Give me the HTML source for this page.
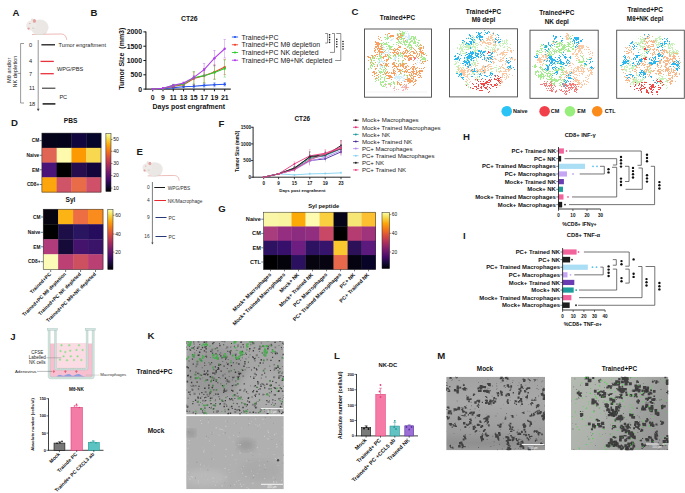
<!DOCTYPE html>
<html><head><meta charset="utf-8"><style>
html,body{margin:0;padding:0;background:#fff;}
body{width:685px;height:493px;overflow:hidden;}
svg{display:block;font-family:"Liberation Sans", sans-serif;}
</style></head><body>
<svg width="685" height="493" viewBox="0 0 685 493">
<rect width="685" height="493" fill="#fff"/>
<text x="12.60" y="15.60" font-size="9.6" font-weight="bold" fill="#1a1a1a">A</text>
<text x="90.50" y="15.60" font-size="9.6" font-weight="bold" fill="#1a1a1a">B</text>
<text x="351.60" y="15.20" font-size="9.6" font-weight="bold" fill="#1a1a1a">C</text>
<text x="11.00" y="126.20" font-size="9.6" font-weight="bold" fill="#1a1a1a">D</text>
<text x="136.50" y="154.60" font-size="9.6" font-weight="bold" fill="#1a1a1a">E</text>
<text x="218.40" y="127.40" font-size="9.6" font-weight="bold" fill="#1a1a1a">F</text>
<text x="218.20" y="211.80" font-size="9.6" font-weight="bold" fill="#1a1a1a">G</text>
<text x="463.00" y="139.80" font-size="9.6" font-weight="bold" fill="#1a1a1a">H</text>
<text x="463.00" y="238.80" font-size="9.6" font-weight="bold" fill="#1a1a1a">I</text>
<text x="10.30" y="340.20" font-size="9.6" font-weight="bold" fill="#1a1a1a">J</text>
<text x="147.40" y="339.40" font-size="9.6" font-weight="bold" fill="#1a1a1a">K</text>
<text x="334.00" y="358.90" font-size="9.6" font-weight="bold" fill="#1a1a1a">L</text>
<text x="437.20" y="358.80" font-size="9.6" font-weight="bold" fill="#1a1a1a">M</text>
<g transform="translate(26.00 19.00) scale(1.0) translate(-26 -19)"><path d="M32 34.5 L47 34.2 L60 34.0 C64 34 66.2 35.2 66.6 39.8" fill="none" stroke="#e4a19c" stroke-width="0.75"/><ellipse cx="39.6" cy="27.2" rx="9.0" ry="7.7" fill="#ebe7e4"/><path d="M33 33.5 C36 35.2 44 35.2 47.5 31 C46 34.5 42 35.3 38 35.0 C35 35 33.5 34.5 33 33.5Z" fill="#dcd5d0"/><ellipse cx="31.4" cy="25.6" rx="5.2" ry="5.0" fill="#eeeae7"/><ellipse cx="32.1" cy="19.9" rx="1.2" ry="1.4" fill="#e9e2de"/><ellipse cx="34.4" cy="20.9" rx="1.6" ry="1.9" fill="#e2a39e"/><circle cx="28.6" cy="28.6" r="1.15" fill="#e79c9a"/><circle cx="29.9" cy="23.5" r="0.55" fill="#d98f8c"/><ellipse cx="33.2" cy="28.2" rx="1.3" ry="0.9" fill="#ddd6d1"/></g>
<line x1="38.20" y1="40.00" x2="38.20" y2="109.50" stroke="#666" stroke-width="0.7"/>
<path d="M36.8 108.8 L38.2 111.2 L39.6 108.8 Z" fill="#444"/>
<text x="29.00" y="46.82" font-size="5.6" text-anchor="start" fill="#222">0</text>
<line x1="41.40" y1="44.80" x2="55.00" y2="44.80" stroke="#1a1a1a" stroke-width="1.3"/>
<text x="29.00" y="63.42" font-size="5.6" text-anchor="start" fill="#222">4</text>
<line x1="40.50" y1="61.40" x2="53.80" y2="61.40" stroke="#e8323c" stroke-width="1.3"/>
<text x="29.00" y="75.72" font-size="5.6" text-anchor="start" fill="#222">7</text>
<line x1="40.50" y1="73.70" x2="53.80" y2="73.70" stroke="#e8323c" stroke-width="1.3"/>
<text x="29.00" y="90.22" font-size="5.6" text-anchor="start" fill="#222">11</text>
<line x1="42.00" y1="88.20" x2="55.40" y2="88.20" stroke="#222" stroke-width="1.0"/>
<text x="29.00" y="105.92" font-size="5.6" text-anchor="start" fill="#222">18</text>
<line x1="42.60" y1="103.90" x2="55.40" y2="103.90" stroke="#1a1a1a" stroke-width="1.5"/>
<text x="58.60" y="47.02" font-size="5.6" text-anchor="start" fill="#222">Tumor engraftment</text>
<text x="57.00" y="70.62" font-size="5.6" text-anchor="start" fill="#222">WPG/PBS</text>
<text x="59.40" y="98.52" font-size="5.6" text-anchor="start" fill="#222">PC</text>
<path d="M24 43.5 L20.6 43.5 L20.6 103 L24 103" fill="none" stroke="#555" stroke-width="0.6"/>
<line x1="17.70" y1="73.40" x2="20.60" y2="73.40" stroke="#555" stroke-width="0.6"/>
<text x="9.00" y="72.32" font-size="5.6" text-anchor="middle" fill="#222" transform="rotate(-90 9.00 70.30)">Mθ and/or</text>
<text x="14.60" y="73.62" font-size="5.6" text-anchor="middle" fill="#222" transform="rotate(-90 14.60 71.60)">NK depletion</text>
<text x="189.30" y="20.85" font-size="6.8" text-anchor="middle" fill="#111" font-weight="bold">CT26</text>
<line x1="145.90" y1="31.50" x2="145.90" y2="89.60" stroke="#333" stroke-width="1.2"/>
<line x1="145.40" y1="89.10" x2="230.80" y2="89.10" stroke="#333" stroke-width="1.2"/>
<line x1="143.40" y1="89.10" x2="145.90" y2="89.10" stroke="#111" stroke-width="1.0"/>
<text x="142.00" y="91.58" font-size="6.9" text-anchor="end" fill="#111" font-weight="bold">0</text>
<line x1="143.40" y1="74.80" x2="145.90" y2="74.80" stroke="#111" stroke-width="1.0"/>
<text x="142.00" y="77.28" font-size="6.9" text-anchor="end" fill="#111" font-weight="bold">500</text>
<line x1="143.40" y1="60.50" x2="145.90" y2="60.50" stroke="#111" stroke-width="1.0"/>
<text x="142.00" y="62.98" font-size="6.9" text-anchor="end" fill="#111" font-weight="bold">1000</text>
<line x1="143.40" y1="46.20" x2="145.90" y2="46.20" stroke="#111" stroke-width="1.0"/>
<text x="142.00" y="48.68" font-size="6.9" text-anchor="end" fill="#111" font-weight="bold">1500</text>
<line x1="143.40" y1="31.90" x2="145.90" y2="31.90" stroke="#111" stroke-width="1.0"/>
<text x="142.00" y="34.38" font-size="6.9" text-anchor="end" fill="#111" font-weight="bold">2000</text>
<line x1="152.70" y1="89.10" x2="152.70" y2="91.30" stroke="#111" stroke-width="1.0"/>
<text x="152.70" y="99.68" font-size="6.9" text-anchor="middle" fill="#111" font-weight="bold">0</text>
<line x1="162.99" y1="89.10" x2="162.99" y2="91.30" stroke="#111" stroke-width="1.0"/>
<text x="162.99" y="99.68" font-size="6.9" text-anchor="middle" fill="#111" font-weight="bold">9</text>
<line x1="173.28" y1="89.10" x2="173.28" y2="91.30" stroke="#111" stroke-width="1.0"/>
<text x="173.28" y="99.68" font-size="6.9" text-anchor="middle" fill="#111" font-weight="bold">11</text>
<line x1="183.57" y1="89.10" x2="183.57" y2="91.30" stroke="#111" stroke-width="1.0"/>
<text x="183.57" y="99.68" font-size="6.9" text-anchor="middle" fill="#111" font-weight="bold">13</text>
<line x1="193.86" y1="89.10" x2="193.86" y2="91.30" stroke="#111" stroke-width="1.0"/>
<text x="193.86" y="99.68" font-size="6.9" text-anchor="middle" fill="#111" font-weight="bold">15</text>
<line x1="204.15" y1="89.10" x2="204.15" y2="91.30" stroke="#111" stroke-width="1.0"/>
<text x="204.15" y="99.68" font-size="6.9" text-anchor="middle" fill="#111" font-weight="bold">17</text>
<line x1="214.44" y1="89.10" x2="214.44" y2="91.30" stroke="#111" stroke-width="1.0"/>
<text x="214.44" y="99.68" font-size="6.9" text-anchor="middle" fill="#111" font-weight="bold">19</text>
<line x1="224.73" y1="89.10" x2="224.73" y2="91.30" stroke="#111" stroke-width="1.0"/>
<text x="224.73" y="99.68" font-size="6.9" text-anchor="middle" fill="#111" font-weight="bold">21</text>
<text x="188.80" y="109.08" font-size="6.9" text-anchor="middle" fill="#111" font-weight="bold">Days post engrafment</text>
<text x="121.20" y="61.22" font-size="7.0" text-anchor="middle" fill="#111" font-weight="bold" transform="rotate(-90 121.20 58.70)">Tumor Size&#160; (mm3)</text>
<polyline points="152.70,89.10 162.99,88.81 173.28,87.67 183.57,86.81 193.86,86.24 204.15,85.38 214.44,84.81 224.73,84.24" fill="none" stroke="#2453f0" stroke-width="1.1"/>
<circle cx="152.70" cy="89.10" r="1.20" fill="#2453f0"/>
<line x1="162.99" y1="88.96" x2="162.99" y2="88.67" stroke="#2453f0" stroke-width="0.5" opacity="0.8"/>
<line x1="161.79" y1="88.67" x2="164.19" y2="88.67" stroke="#2453f0" stroke-width="0.5" opacity="0.8"/>
<line x1="161.79" y1="88.96" x2="164.19" y2="88.96" stroke="#2453f0" stroke-width="0.5" opacity="0.8"/>
<circle cx="162.99" cy="88.81" r="1.20" fill="#2453f0"/>
<line x1="173.28" y1="88.24" x2="173.28" y2="87.10" stroke="#2453f0" stroke-width="0.5" opacity="0.8"/>
<line x1="172.08" y1="87.10" x2="174.48" y2="87.10" stroke="#2453f0" stroke-width="0.5" opacity="0.8"/>
<line x1="172.08" y1="88.24" x2="174.48" y2="88.24" stroke="#2453f0" stroke-width="0.5" opacity="0.8"/>
<circle cx="173.28" cy="87.67" r="1.20" fill="#2453f0"/>
<line x1="183.57" y1="87.53" x2="183.57" y2="86.10" stroke="#2453f0" stroke-width="0.5" opacity="0.8"/>
<line x1="182.37" y1="86.10" x2="184.77" y2="86.10" stroke="#2453f0" stroke-width="0.5" opacity="0.8"/>
<line x1="182.37" y1="87.53" x2="184.77" y2="87.53" stroke="#2453f0" stroke-width="0.5" opacity="0.8"/>
<circle cx="183.57" cy="86.81" r="1.20" fill="#2453f0"/>
<line x1="193.86" y1="87.96" x2="193.86" y2="84.52" stroke="#2453f0" stroke-width="0.5" opacity="0.8"/>
<line x1="192.66" y1="84.52" x2="195.06" y2="84.52" stroke="#2453f0" stroke-width="0.5" opacity="0.8"/>
<line x1="192.66" y1="87.96" x2="195.06" y2="87.96" stroke="#2453f0" stroke-width="0.5" opacity="0.8"/>
<circle cx="193.86" cy="86.24" r="1.20" fill="#2453f0"/>
<line x1="204.15" y1="87.10" x2="204.15" y2="83.67" stroke="#2453f0" stroke-width="0.5" opacity="0.8"/>
<line x1="202.95" y1="83.67" x2="205.35" y2="83.67" stroke="#2453f0" stroke-width="0.5" opacity="0.8"/>
<line x1="202.95" y1="87.10" x2="205.35" y2="87.10" stroke="#2453f0" stroke-width="0.5" opacity="0.8"/>
<circle cx="204.15" cy="85.38" r="1.20" fill="#2453f0"/>
<line x1="214.44" y1="86.81" x2="214.44" y2="82.81" stroke="#2453f0" stroke-width="0.5" opacity="0.8"/>
<line x1="213.24" y1="82.81" x2="215.64" y2="82.81" stroke="#2453f0" stroke-width="0.5" opacity="0.8"/>
<line x1="213.24" y1="86.81" x2="215.64" y2="86.81" stroke="#2453f0" stroke-width="0.5" opacity="0.8"/>
<circle cx="214.44" cy="84.81" r="1.20" fill="#2453f0"/>
<line x1="224.73" y1="85.95" x2="224.73" y2="82.52" stroke="#2453f0" stroke-width="0.5" opacity="0.8"/>
<line x1="223.53" y1="82.52" x2="225.93" y2="82.52" stroke="#2453f0" stroke-width="0.5" opacity="0.8"/>
<line x1="223.53" y1="85.95" x2="225.93" y2="85.95" stroke="#2453f0" stroke-width="0.5" opacity="0.8"/>
<circle cx="224.73" cy="84.24" r="1.20" fill="#2453f0"/>
<polyline points="152.70,89.10 162.99,88.53 173.28,86.24 183.57,84.81 193.86,78.52 204.15,75.66 214.44,71.94 224.73,67.08" fill="none" stroke="#f0402a" stroke-width="1.1"/>
<circle cx="152.70" cy="89.10" r="1.20" fill="#f0402a"/>
<line x1="162.99" y1="88.76" x2="162.99" y2="88.30" stroke="#f0402a" stroke-width="0.5" opacity="0.8"/>
<line x1="161.79" y1="88.30" x2="164.19" y2="88.30" stroke="#f0402a" stroke-width="0.5" opacity="0.8"/>
<line x1="161.79" y1="88.76" x2="164.19" y2="88.76" stroke="#f0402a" stroke-width="0.5" opacity="0.8"/>
<circle cx="162.99" cy="88.53" r="1.20" fill="#f0402a"/>
<line x1="173.28" y1="87.38" x2="173.28" y2="85.10" stroke="#f0402a" stroke-width="0.5" opacity="0.8"/>
<line x1="172.08" y1="85.10" x2="174.48" y2="85.10" stroke="#f0402a" stroke-width="0.5" opacity="0.8"/>
<line x1="172.08" y1="87.38" x2="174.48" y2="87.38" stroke="#f0402a" stroke-width="0.5" opacity="0.8"/>
<circle cx="173.28" cy="86.24" r="1.20" fill="#f0402a"/>
<line x1="183.57" y1="85.95" x2="183.57" y2="83.67" stroke="#f0402a" stroke-width="0.5" opacity="0.8"/>
<line x1="182.37" y1="83.67" x2="184.77" y2="83.67" stroke="#f0402a" stroke-width="0.5" opacity="0.8"/>
<line x1="182.37" y1="85.95" x2="184.77" y2="85.95" stroke="#f0402a" stroke-width="0.5" opacity="0.8"/>
<circle cx="183.57" cy="84.81" r="1.20" fill="#f0402a"/>
<line x1="193.86" y1="85.10" x2="193.86" y2="71.94" stroke="#f0402a" stroke-width="0.5" opacity="0.8"/>
<line x1="192.66" y1="71.94" x2="195.06" y2="71.94" stroke="#f0402a" stroke-width="0.5" opacity="0.8"/>
<line x1="192.66" y1="85.10" x2="195.06" y2="85.10" stroke="#f0402a" stroke-width="0.5" opacity="0.8"/>
<circle cx="193.86" cy="78.52" r="1.20" fill="#f0402a"/>
<line x1="204.15" y1="82.81" x2="204.15" y2="68.51" stroke="#f0402a" stroke-width="0.5" opacity="0.8"/>
<line x1="202.95" y1="68.51" x2="205.35" y2="68.51" stroke="#f0402a" stroke-width="0.5" opacity="0.8"/>
<line x1="202.95" y1="82.81" x2="205.35" y2="82.81" stroke="#f0402a" stroke-width="0.5" opacity="0.8"/>
<circle cx="204.15" cy="75.66" r="1.20" fill="#f0402a"/>
<line x1="214.44" y1="79.09" x2="214.44" y2="64.79" stroke="#f0402a" stroke-width="0.5" opacity="0.8"/>
<line x1="213.24" y1="64.79" x2="215.64" y2="64.79" stroke="#f0402a" stroke-width="0.5" opacity="0.8"/>
<line x1="213.24" y1="79.09" x2="215.64" y2="79.09" stroke="#f0402a" stroke-width="0.5" opacity="0.8"/>
<circle cx="214.44" cy="71.94" r="1.20" fill="#f0402a"/>
<line x1="224.73" y1="74.51" x2="224.73" y2="59.64" stroke="#f0402a" stroke-width="0.5" opacity="0.8"/>
<line x1="223.53" y1="59.64" x2="225.93" y2="59.64" stroke="#f0402a" stroke-width="0.5" opacity="0.8"/>
<line x1="223.53" y1="74.51" x2="225.93" y2="74.51" stroke="#f0402a" stroke-width="0.5" opacity="0.8"/>
<circle cx="224.73" cy="67.08" r="1.20" fill="#f0402a"/>
<polyline points="152.70,89.10 162.99,88.53 173.28,85.38 183.57,84.24 193.86,77.66 204.15,75.66 214.44,72.51 224.73,68.51" fill="none" stroke="#2ec82e" stroke-width="1.1"/>
<circle cx="152.70" cy="89.10" r="1.20" fill="#2ec82e"/>
<line x1="162.99" y1="88.76" x2="162.99" y2="88.30" stroke="#2ec82e" stroke-width="0.5" opacity="0.8"/>
<line x1="161.79" y1="88.30" x2="164.19" y2="88.30" stroke="#2ec82e" stroke-width="0.5" opacity="0.8"/>
<line x1="161.79" y1="88.76" x2="164.19" y2="88.76" stroke="#2ec82e" stroke-width="0.5" opacity="0.8"/>
<circle cx="162.99" cy="88.53" r="1.20" fill="#2ec82e"/>
<line x1="173.28" y1="86.53" x2="173.28" y2="84.24" stroke="#2ec82e" stroke-width="0.5" opacity="0.8"/>
<line x1="172.08" y1="84.24" x2="174.48" y2="84.24" stroke="#2ec82e" stroke-width="0.5" opacity="0.8"/>
<line x1="172.08" y1="86.53" x2="174.48" y2="86.53" stroke="#2ec82e" stroke-width="0.5" opacity="0.8"/>
<circle cx="173.28" cy="85.38" r="1.20" fill="#2ec82e"/>
<line x1="183.57" y1="85.38" x2="183.57" y2="83.09" stroke="#2ec82e" stroke-width="0.5" opacity="0.8"/>
<line x1="182.37" y1="83.09" x2="184.77" y2="83.09" stroke="#2ec82e" stroke-width="0.5" opacity="0.8"/>
<line x1="182.37" y1="85.38" x2="184.77" y2="85.38" stroke="#2ec82e" stroke-width="0.5" opacity="0.8"/>
<circle cx="183.57" cy="84.24" r="1.20" fill="#2ec82e"/>
<line x1="193.86" y1="83.95" x2="193.86" y2="71.37" stroke="#2ec82e" stroke-width="0.5" opacity="0.8"/>
<line x1="192.66" y1="71.37" x2="195.06" y2="71.37" stroke="#2ec82e" stroke-width="0.5" opacity="0.8"/>
<line x1="192.66" y1="83.95" x2="195.06" y2="83.95" stroke="#2ec82e" stroke-width="0.5" opacity="0.8"/>
<circle cx="193.86" cy="77.66" r="1.20" fill="#2ec82e"/>
<line x1="204.15" y1="82.81" x2="204.15" y2="68.51" stroke="#2ec82e" stroke-width="0.5" opacity="0.8"/>
<line x1="202.95" y1="68.51" x2="205.35" y2="68.51" stroke="#2ec82e" stroke-width="0.5" opacity="0.8"/>
<line x1="202.95" y1="82.81" x2="205.35" y2="82.81" stroke="#2ec82e" stroke-width="0.5" opacity="0.8"/>
<circle cx="204.15" cy="75.66" r="1.20" fill="#2ec82e"/>
<line x1="214.44" y1="79.66" x2="214.44" y2="65.36" stroke="#2ec82e" stroke-width="0.5" opacity="0.8"/>
<line x1="213.24" y1="65.36" x2="215.64" y2="65.36" stroke="#2ec82e" stroke-width="0.5" opacity="0.8"/>
<line x1="213.24" y1="79.66" x2="215.64" y2="79.66" stroke="#2ec82e" stroke-width="0.5" opacity="0.8"/>
<circle cx="214.44" cy="72.51" r="1.20" fill="#2ec82e"/>
<line x1="224.73" y1="77.09" x2="224.73" y2="59.93" stroke="#2ec82e" stroke-width="0.5" opacity="0.8"/>
<line x1="223.53" y1="59.93" x2="225.93" y2="59.93" stroke="#2ec82e" stroke-width="0.5" opacity="0.8"/>
<line x1="223.53" y1="77.09" x2="225.93" y2="77.09" stroke="#2ec82e" stroke-width="0.5" opacity="0.8"/>
<circle cx="224.73" cy="68.51" r="1.20" fill="#2ec82e"/>
<polyline points="152.70,89.10 162.99,88.24 173.28,85.38 183.57,83.09 193.86,77.37 204.15,69.65 214.44,58.21 224.73,48.77" fill="none" stroke="#b040e8" stroke-width="1.1"/>
<circle cx="152.70" cy="89.10" r="1.20" fill="#b040e8"/>
<line x1="162.99" y1="88.53" x2="162.99" y2="87.96" stroke="#b040e8" stroke-width="0.5" opacity="0.8"/>
<line x1="161.79" y1="87.96" x2="164.19" y2="87.96" stroke="#b040e8" stroke-width="0.5" opacity="0.8"/>
<line x1="161.79" y1="88.53" x2="164.19" y2="88.53" stroke="#b040e8" stroke-width="0.5" opacity="0.8"/>
<circle cx="162.99" cy="88.24" r="1.20" fill="#b040e8"/>
<line x1="173.28" y1="86.24" x2="173.28" y2="84.52" stroke="#b040e8" stroke-width="0.5" opacity="0.8"/>
<line x1="172.08" y1="84.52" x2="174.48" y2="84.52" stroke="#b040e8" stroke-width="0.5" opacity="0.8"/>
<line x1="172.08" y1="86.24" x2="174.48" y2="86.24" stroke="#b040e8" stroke-width="0.5" opacity="0.8"/>
<circle cx="173.28" cy="85.38" r="1.20" fill="#b040e8"/>
<line x1="183.57" y1="84.24" x2="183.57" y2="81.95" stroke="#b040e8" stroke-width="0.5" opacity="0.8"/>
<line x1="182.37" y1="81.95" x2="184.77" y2="81.95" stroke="#b040e8" stroke-width="0.5" opacity="0.8"/>
<line x1="182.37" y1="84.24" x2="184.77" y2="84.24" stroke="#b040e8" stroke-width="0.5" opacity="0.8"/>
<circle cx="183.57" cy="83.09" r="1.20" fill="#b040e8"/>
<line x1="193.86" y1="79.09" x2="193.86" y2="75.66" stroke="#b040e8" stroke-width="0.5" opacity="0.8"/>
<line x1="192.66" y1="75.66" x2="195.06" y2="75.66" stroke="#b040e8" stroke-width="0.5" opacity="0.8"/>
<line x1="192.66" y1="79.09" x2="195.06" y2="79.09" stroke="#b040e8" stroke-width="0.5" opacity="0.8"/>
<circle cx="193.86" cy="77.37" r="1.20" fill="#b040e8"/>
<line x1="204.15" y1="75.94" x2="204.15" y2="63.36" stroke="#b040e8" stroke-width="0.5" opacity="0.8"/>
<line x1="202.95" y1="63.36" x2="205.35" y2="63.36" stroke="#b040e8" stroke-width="0.5" opacity="0.8"/>
<line x1="202.95" y1="75.94" x2="205.35" y2="75.94" stroke="#b040e8" stroke-width="0.5" opacity="0.8"/>
<circle cx="204.15" cy="69.65" r="1.20" fill="#b040e8"/>
<line x1="214.44" y1="65.93" x2="214.44" y2="50.49" stroke="#b040e8" stroke-width="0.5" opacity="0.8"/>
<line x1="213.24" y1="50.49" x2="215.64" y2="50.49" stroke="#b040e8" stroke-width="0.5" opacity="0.8"/>
<line x1="213.24" y1="65.93" x2="215.64" y2="65.93" stroke="#b040e8" stroke-width="0.5" opacity="0.8"/>
<circle cx="214.44" cy="58.21" r="1.20" fill="#b040e8"/>
<line x1="224.73" y1="57.93" x2="224.73" y2="39.62" stroke="#b040e8" stroke-width="0.5" opacity="0.8"/>
<line x1="223.53" y1="39.62" x2="225.93" y2="39.62" stroke="#b040e8" stroke-width="0.5" opacity="0.8"/>
<line x1="223.53" y1="57.93" x2="225.93" y2="57.93" stroke="#b040e8" stroke-width="0.5" opacity="0.8"/>
<circle cx="224.73" cy="48.77" r="1.20" fill="#b040e8"/>
<line x1="231.90" y1="37.00" x2="238.10" y2="37.00" stroke="#2453f0" stroke-width="0.9"/>
<circle cx="235.00" cy="37.00" r="1.10" fill="#2453f0"/>
<text x="241.50" y="39.50" font-size="6.95" text-anchor="start" fill="#1a1a1a">Trained+PC</text>
<line x1="231.90" y1="44.75" x2="238.10" y2="44.75" stroke="#f0402a" stroke-width="0.9"/>
<circle cx="235.00" cy="44.75" r="1.10" fill="#f0402a"/>
<text x="241.50" y="47.25" font-size="6.95" text-anchor="start" fill="#1a1a1a">Trained+PC Mθ depletion</text>
<line x1="231.90" y1="52.50" x2="238.10" y2="52.50" stroke="#2ec82e" stroke-width="0.9"/>
<circle cx="235.00" cy="52.50" r="1.10" fill="#2ec82e"/>
<text x="241.50" y="55.00" font-size="6.95" text-anchor="start" fill="#1a1a1a">Trained+PC NK depleted</text>
<line x1="231.90" y1="60.25" x2="238.10" y2="60.25" stroke="#b040e8" stroke-width="0.9"/>
<circle cx="235.00" cy="60.25" r="1.10" fill="#b040e8"/>
<text x="241.50" y="62.75" font-size="6.95" text-anchor="start" fill="#1a1a1a">Trained+PC Mθ+NK depleted</text>
<path d="M325.20 33.50 L327.60 33.50 L327.60 43.00 L325.20 43.00" fill="none" stroke="#444" stroke-width="0.6"/>
<circle cx="329.60" cy="34.85" r="0.80" fill="#111"/>
<circle cx="329.60" cy="37.35" r="0.80" fill="#111"/>
<circle cx="329.60" cy="39.85" r="0.80" fill="#111"/>
<circle cx="329.60" cy="42.35" r="0.80" fill="#111"/>
<path d="M332.00 33.50 L334.50 33.50 L334.50 52.40 L330.00 52.40" fill="none" stroke="#444" stroke-width="0.6"/>
<circle cx="336.80" cy="39.25" r="0.80" fill="#111"/>
<circle cx="336.80" cy="41.75" r="0.80" fill="#111"/>
<circle cx="336.80" cy="44.25" r="0.80" fill="#111"/>
<circle cx="336.80" cy="46.75" r="0.80" fill="#111"/>
<path d="M336.30 33.50 L340.80 33.50 L340.80 60.50 L335.10 60.50" fill="none" stroke="#444" stroke-width="0.6"/>
<circle cx="343.00" cy="41.55" r="0.80" fill="#111"/>
<circle cx="343.00" cy="44.05" r="0.80" fill="#111"/>
<circle cx="343.00" cy="46.55" r="0.80" fill="#111"/>
<circle cx="343.00" cy="49.05" r="0.80" fill="#111"/>
<defs><filter id="tb" x="-5%" y="-5%" width="110%" height="110%"><feGaussianBlur stdDeviation="0.3"/></filter></defs>
<rect x="364.50" y="29.00" width="67.00" height="68.20" fill="none" stroke="#4a4a4a" stroke-width="0.9"/>
<rect x="449.50" y="28.80" width="68.00" height="68.10" fill="none" stroke="#4a4a4a" stroke-width="0.9"/>
<rect x="530.00" y="30.20" width="68.20" height="68.10" fill="none" stroke="#4a4a4a" stroke-width="0.9"/>
<rect x="616.70" y="30.20" width="67.60" height="68.10" fill="none" stroke="#4a4a4a" stroke-width="0.9"/>
<line x1="366.00" y1="92.00" x2="427.00" y2="92.00" stroke="#e4e4e4" stroke-width="0.5"/>
<text x="397.50" y="19.70" font-size="6.4" text-anchor="middle" fill="#111" font-weight="bold">Trained+PC</text>
<text x="483.50" y="13.50" font-size="6.4" text-anchor="middle" fill="#111" font-weight="bold">Trained+PC</text>
<text x="483.50" y="22.00" font-size="6.4" text-anchor="middle" fill="#111" font-weight="bold">Mθ depl</text>
<text x="556.80" y="15.00" font-size="6.4" text-anchor="middle" fill="#111" font-weight="bold">Trained+PC</text>
<text x="556.80" y="23.50" font-size="6.4" text-anchor="middle" fill="#111" font-weight="bold">NK depl</text>
<text x="645.20" y="11.90" font-size="6.4" text-anchor="middle" fill="#111" font-weight="bold">Trained+PC</text>
<text x="645.20" y="20.60" font-size="6.4" text-anchor="middle" fill="#111" font-weight="bold">Mθ+NK depl</text>
<path d="M367 56h1v1h-1zM368 56h1v1h-1zM368 57h1v1h-1zM368 60h1v1h-1zM369 57h1v1h-1zM370 57h1v1h-1zM370 58h1v1h-1zM370 62h1v1h-1zM371 55h1v1h-1zM371 60h1v1h-1zM371 64h1v1h-1zM372 55h1v1h-1zM372 56h1v1h-1zM372 57h1v1h-1zM372 58h1v1h-1zM372 63h1v1h-1zM372 72h1v1h-1zM372 75h1v1h-1zM373 63h1v1h-1zM373 71h1v1h-1zM373 72h1v1h-1zM374 48h1v1h-1zM374 50h1v1h-1zM374 51h1v1h-1zM374 55h1v1h-1zM374 58h1v1h-1zM374 66h1v1h-1zM374 71h1v1h-1zM374 72h1v1h-1zM374 73h1v1h-1zM374 74h1v1h-1zM374 76h1v1h-1zM375 41h1v1h-1zM375 42h1v1h-1zM375 44h1v1h-1zM375 46h1v1h-1zM375 47h1v1h-1zM375 49h1v1h-1zM375 50h1v1h-1zM375 52h1v1h-1zM375 55h1v1h-1zM375 56h1v1h-1zM375 62h1v1h-1zM375 68h1v1h-1zM375 69h1v1h-1zM375 73h1v1h-1zM375 78h1v1h-1zM376 42h1v1h-1zM376 43h1v1h-1zM376 44h1v1h-1zM376 46h1v1h-1zM376 47h1v1h-1zM376 54h1v1h-1zM376 68h1v1h-1zM376 72h1v1h-1zM376 73h1v1h-1zM376 75h1v1h-1zM376 77h1v1h-1zM376 78h1v1h-1zM377 42h1v1h-1zM377 43h1v1h-1zM377 44h1v1h-1zM377 45h1v1h-1zM377 46h1v1h-1zM377 48h1v1h-1zM377 49h1v1h-1zM377 52h1v1h-1zM377 54h1v1h-1zM377 56h1v1h-1zM377 65h1v1h-1zM377 66h1v1h-1zM377 75h1v1h-1zM378 36h1v1h-1zM378 38h1v1h-1zM378 42h1v1h-1zM378 43h1v1h-1zM378 44h1v1h-1zM378 45h1v1h-1zM378 46h1v1h-1zM378 47h1v1h-1zM378 48h1v1h-1zM378 50h1v1h-1zM378 51h1v1h-1zM378 74h1v1h-1zM378 77h1v1h-1zM379 39h1v1h-1zM379 43h1v1h-1zM379 44h1v1h-1zM379 48h1v1h-1zM379 49h1v1h-1zM379 50h1v1h-1zM379 51h1v1h-1zM379 52h1v1h-1zM379 53h1v1h-1zM379 54h1v1h-1zM379 72h1v1h-1zM380 37h1v1h-1zM380 43h1v1h-1zM380 46h1v1h-1zM380 48h1v1h-1zM380 49h1v1h-1zM380 51h1v1h-1zM380 52h1v1h-1zM380 64h1v1h-1zM380 68h1v1h-1zM380 78h1v1h-1zM381 40h1v1h-1zM381 44h1v1h-1zM381 45h1v1h-1zM381 46h1v1h-1zM381 47h1v1h-1zM381 48h1v1h-1zM381 49h1v1h-1zM381 51h1v1h-1zM381 52h1v1h-1zM381 53h1v1h-1zM381 54h1v1h-1zM381 64h1v1h-1zM381 65h1v1h-1zM382 45h1v1h-1zM382 47h1v1h-1zM382 48h1v1h-1zM382 49h1v1h-1zM382 51h1v1h-1zM382 52h1v1h-1zM382 57h1v1h-1zM382 65h1v1h-1zM383 52h1v1h-1zM383 56h1v1h-1zM383 57h1v1h-1zM383 58h1v1h-1zM383 63h1v1h-1zM383 74h1v1h-1zM384 47h1v1h-1zM384 51h1v1h-1zM384 56h1v1h-1zM384 60h1v1h-1zM384 62h1v1h-1zM384 72h1v1h-1zM385 34h1v1h-1zM385 54h1v1h-1zM385 55h1v1h-1zM385 56h1v1h-1zM385 63h1v1h-1zM385 64h1v1h-1zM385 65h1v1h-1zM385 68h1v1h-1zM385 73h1v1h-1zM385 74h1v1h-1zM386 56h1v1h-1zM386 59h1v1h-1zM386 60h1v1h-1zM386 61h1v1h-1zM386 63h1v1h-1zM386 64h1v1h-1zM386 65h1v1h-1zM386 66h1v1h-1zM386 72h1v1h-1zM386 73h1v1h-1zM386 75h1v1h-1zM387 34h1v1h-1zM387 54h1v1h-1zM387 55h1v1h-1zM387 59h1v1h-1zM387 60h1v1h-1zM387 64h1v1h-1zM387 65h1v1h-1zM387 71h1v1h-1zM387 72h1v1h-1zM387 75h1v1h-1zM387 78h1v1h-1zM388 33h1v1h-1zM388 57h1v1h-1zM388 58h1v1h-1zM388 59h1v1h-1zM388 63h1v1h-1zM388 66h1v1h-1zM388 73h1v1h-1zM388 75h1v1h-1zM388 76h1v1h-1zM388 78h1v1h-1zM389 33h1v1h-1zM389 36h1v1h-1zM389 57h1v1h-1zM389 72h1v1h-1zM389 75h1v1h-1zM389 76h1v1h-1zM389 77h1v1h-1zM389 78h1v1h-1zM390 35h1v1h-1zM390 36h1v1h-1zM390 52h1v1h-1zM390 55h1v1h-1zM390 57h1v1h-1zM390 75h1v1h-1zM390 76h1v1h-1zM390 77h1v1h-1zM391 35h1v1h-1zM391 36h1v1h-1zM391 49h1v1h-1zM391 72h1v1h-1zM391 73h1v1h-1zM391 76h1v1h-1zM391 77h1v1h-1zM391 79h1v1h-1zM392 35h1v1h-1zM392 36h1v1h-1zM392 46h1v1h-1zM392 52h1v1h-1zM392 63h1v1h-1zM392 64h1v1h-1zM392 67h1v1h-1zM392 73h1v1h-1zM392 77h1v1h-1zM393 35h1v1h-1zM393 36h1v1h-1zM393 49h1v1h-1zM393 50h1v1h-1zM393 52h1v1h-1zM393 53h1v1h-1zM393 62h1v1h-1zM393 63h1v1h-1zM393 64h1v1h-1zM393 66h1v1h-1zM393 69h1v1h-1zM393 70h1v1h-1zM393 71h1v1h-1zM393 72h1v1h-1zM393 73h1v1h-1zM394 48h1v1h-1zM394 50h1v1h-1zM394 51h1v1h-1zM394 52h1v1h-1zM394 54h1v1h-1zM394 55h1v1h-1zM394 59h1v1h-1zM394 62h1v1h-1zM394 64h1v1h-1zM394 65h1v1h-1zM394 66h1v1h-1zM394 68h1v1h-1zM394 70h1v1h-1zM394 72h1v1h-1zM394 73h1v1h-1zM394 74h1v1h-1zM394 75h1v1h-1zM395 49h1v1h-1zM395 50h1v1h-1zM395 52h1v1h-1zM395 54h1v1h-1zM395 55h1v1h-1zM395 60h1v1h-1zM395 65h1v1h-1zM395 66h1v1h-1zM395 71h1v1h-1zM395 73h1v1h-1zM396 38h1v1h-1zM396 49h1v1h-1zM396 52h1v1h-1zM396 53h1v1h-1zM396 63h1v1h-1zM396 66h1v1h-1zM396 67h1v1h-1zM396 74h1v1h-1zM396 75h1v1h-1zM396 79h1v1h-1zM397 33h1v1h-1zM397 34h1v1h-1zM397 35h1v1h-1zM397 37h1v1h-1zM397 38h1v1h-1zM397 39h1v1h-1zM397 48h1v1h-1zM397 49h1v1h-1zM397 51h1v1h-1zM397 53h1v1h-1zM397 54h1v1h-1zM397 66h1v1h-1zM397 68h1v1h-1zM397 69h1v1h-1zM397 81h1v1h-1zM397 82h1v1h-1zM397 83h1v1h-1zM397 84h1v1h-1zM398 34h1v1h-1zM398 36h1v1h-1zM398 37h1v1h-1zM398 39h1v1h-1zM398 40h1v1h-1zM398 45h1v1h-1zM398 47h1v1h-1zM398 49h1v1h-1zM398 52h1v1h-1zM398 53h1v1h-1zM398 64h1v1h-1zM398 65h1v1h-1zM398 66h1v1h-1zM398 69h1v1h-1zM398 71h1v1h-1zM398 82h1v1h-1zM399 33h1v1h-1zM399 36h1v1h-1zM399 37h1v1h-1zM399 38h1v1h-1zM399 41h1v1h-1zM399 46h1v1h-1zM399 47h1v1h-1zM399 50h1v1h-1zM399 69h1v1h-1zM399 70h1v1h-1zM399 71h1v1h-1zM399 74h1v1h-1zM399 83h1v1h-1zM399 84h1v1h-1zM400 31h1v1h-1zM400 33h1v1h-1zM400 34h1v1h-1zM400 35h1v1h-1zM400 37h1v1h-1zM400 39h1v1h-1zM400 46h1v1h-1zM400 47h1v1h-1zM400 52h1v1h-1zM400 63h1v1h-1zM400 64h1v1h-1zM400 65h1v1h-1zM400 66h1v1h-1zM400 70h1v1h-1zM400 72h1v1h-1zM400 73h1v1h-1zM400 84h1v1h-1zM400 85h1v1h-1zM401 33h1v1h-1zM401 34h1v1h-1zM401 35h1v1h-1zM401 36h1v1h-1zM401 37h1v1h-1zM401 53h1v1h-1zM401 65h1v1h-1zM401 70h1v1h-1zM401 82h1v1h-1zM401 84h1v1h-1zM402 35h1v1h-1zM402 36h1v1h-1zM402 38h1v1h-1zM402 52h1v1h-1zM402 53h1v1h-1zM402 61h1v1h-1zM402 63h1v1h-1zM402 64h1v1h-1zM402 65h1v1h-1zM402 66h1v1h-1zM402 69h1v1h-1zM402 71h1v1h-1zM403 51h1v1h-1zM403 53h1v1h-1zM403 54h1v1h-1zM403 60h1v1h-1zM403 63h1v1h-1zM403 64h1v1h-1zM403 65h1v1h-1zM403 66h1v1h-1zM403 67h1v1h-1zM403 71h1v1h-1zM404 38h1v1h-1zM404 48h1v1h-1zM404 52h1v1h-1zM404 53h1v1h-1zM404 55h1v1h-1zM404 56h1v1h-1zM404 58h1v1h-1zM404 63h1v1h-1zM404 64h1v1h-1zM404 68h1v1h-1zM404 71h1v1h-1zM404 72h1v1h-1zM404 81h1v1h-1zM404 84h1v1h-1zM404 86h1v1h-1zM405 40h1v1h-1zM405 48h1v1h-1zM405 50h1v1h-1zM405 51h1v1h-1zM405 52h1v1h-1zM405 55h1v1h-1zM405 56h1v1h-1zM405 59h1v1h-1zM405 63h1v1h-1zM405 66h1v1h-1zM405 67h1v1h-1zM405 68h1v1h-1zM405 70h1v1h-1zM405 71h1v1h-1zM405 79h1v1h-1zM405 89h1v1h-1zM406 49h1v1h-1zM406 50h1v1h-1zM406 53h1v1h-1zM406 55h1v1h-1zM406 56h1v1h-1zM406 63h1v1h-1zM406 66h1v1h-1zM406 67h1v1h-1zM406 69h1v1h-1zM406 71h1v1h-1zM406 72h1v1h-1zM406 79h1v1h-1zM406 87h1v1h-1zM407 47h1v1h-1zM407 50h1v1h-1zM407 51h1v1h-1zM407 52h1v1h-1zM407 56h1v1h-1zM407 57h1v1h-1zM407 65h1v1h-1zM407 70h1v1h-1zM407 71h1v1h-1zM407 75h1v1h-1zM407 76h1v1h-1zM407 77h1v1h-1zM407 78h1v1h-1zM407 79h1v1h-1zM407 80h1v1h-1zM407 81h1v1h-1zM408 51h1v1h-1zM408 55h1v1h-1zM408 56h1v1h-1zM408 58h1v1h-1zM408 59h1v1h-1zM408 60h1v1h-1zM408 66h1v1h-1zM408 69h1v1h-1zM408 72h1v1h-1zM408 78h1v1h-1zM408 79h1v1h-1zM408 80h1v1h-1zM408 81h1v1h-1zM408 83h1v1h-1zM409 53h1v1h-1zM409 55h1v1h-1zM409 57h1v1h-1zM409 58h1v1h-1zM409 59h1v1h-1zM409 60h1v1h-1zM409 69h1v1h-1zM409 72h1v1h-1zM409 74h1v1h-1zM409 75h1v1h-1zM409 78h1v1h-1zM409 79h1v1h-1zM409 80h1v1h-1zM409 81h1v1h-1zM409 82h1v1h-1zM410 52h1v1h-1zM410 54h1v1h-1zM410 55h1v1h-1zM410 57h1v1h-1zM410 58h1v1h-1zM410 59h1v1h-1zM410 68h1v1h-1zM410 72h1v1h-1zM410 76h1v1h-1zM410 79h1v1h-1zM410 80h1v1h-1zM410 81h1v1h-1zM410 82h1v1h-1zM411 47h1v1h-1zM411 51h1v1h-1zM411 55h1v1h-1zM411 57h1v1h-1zM411 58h1v1h-1zM411 67h1v1h-1zM411 71h1v1h-1zM411 73h1v1h-1zM411 74h1v1h-1zM411 75h1v1h-1zM411 77h1v1h-1zM411 78h1v1h-1zM411 80h1v1h-1zM411 81h1v1h-1zM412 51h1v1h-1zM412 55h1v1h-1zM412 66h1v1h-1zM412 68h1v1h-1zM412 69h1v1h-1zM412 71h1v1h-1zM412 72h1v1h-1zM412 75h1v1h-1zM412 78h1v1h-1zM412 80h1v1h-1zM412 81h1v1h-1zM413 48h1v1h-1zM413 51h1v1h-1zM413 52h1v1h-1zM413 53h1v1h-1zM413 56h1v1h-1zM413 57h1v1h-1zM413 60h1v1h-1zM413 64h1v1h-1zM413 66h1v1h-1zM413 67h1v1h-1zM413 68h1v1h-1zM413 69h1v1h-1zM413 70h1v1h-1zM413 71h1v1h-1zM413 72h1v1h-1zM413 73h1v1h-1zM413 74h1v1h-1zM413 76h1v1h-1zM413 77h1v1h-1zM413 78h1v1h-1zM413 79h1v1h-1zM413 82h1v1h-1zM413 85h1v1h-1zM414 49h1v1h-1zM414 52h1v1h-1zM414 53h1v1h-1zM414 57h1v1h-1zM414 58h1v1h-1zM414 66h1v1h-1zM414 67h1v1h-1zM414 71h1v1h-1zM414 73h1v1h-1zM414 76h1v1h-1zM414 81h1v1h-1zM414 84h1v1h-1zM415 50h1v1h-1zM415 53h1v1h-1zM415 57h1v1h-1zM415 58h1v1h-1zM415 63h1v1h-1zM415 68h1v1h-1zM415 69h1v1h-1zM415 73h1v1h-1zM415 74h1v1h-1zM415 76h1v1h-1zM415 79h1v1h-1zM415 80h1v1h-1zM415 81h1v1h-1zM415 83h1v1h-1zM416 51h1v1h-1zM416 52h1v1h-1zM416 55h1v1h-1zM416 56h1v1h-1zM416 68h1v1h-1zM416 70h1v1h-1zM416 71h1v1h-1zM416 72h1v1h-1zM416 73h1v1h-1zM416 74h1v1h-1zM416 80h1v1h-1zM417 53h1v1h-1zM417 54h1v1h-1zM417 57h1v1h-1zM417 67h1v1h-1zM417 72h1v1h-1zM417 75h1v1h-1zM418 43h1v1h-1zM418 46h1v1h-1zM418 48h1v1h-1zM418 56h1v1h-1zM418 58h1v1h-1zM418 71h1v1h-1zM418 74h1v1h-1zM418 77h1v1h-1zM419 48h1v1h-1zM419 49h1v1h-1zM419 51h1v1h-1zM419 53h1v1h-1zM419 54h1v1h-1zM419 55h1v1h-1zM419 62h1v1h-1zM419 68h1v1h-1zM419 70h1v1h-1zM419 71h1v1h-1zM419 72h1v1h-1zM419 73h1v1h-1zM419 75h1v1h-1zM419 77h1v1h-1zM420 44h1v1h-1zM420 45h1v1h-1zM420 47h1v1h-1zM420 48h1v1h-1zM420 49h1v1h-1zM420 50h1v1h-1zM420 51h1v1h-1zM420 52h1v1h-1zM420 60h1v1h-1zM420 70h1v1h-1zM420 71h1v1h-1zM420 73h1v1h-1zM420 75h1v1h-1zM420 76h1v1h-1zM421 45h1v1h-1zM421 47h1v1h-1zM421 48h1v1h-1zM421 51h1v1h-1zM421 52h1v1h-1zM421 53h1v1h-1zM421 54h1v1h-1zM421 55h1v1h-1zM421 63h1v1h-1zM421 68h1v1h-1zM421 70h1v1h-1zM421 71h1v1h-1zM421 77h1v1h-1zM422 50h1v1h-1zM422 52h1v1h-1zM422 53h1v1h-1zM422 61h1v1h-1zM422 62h1v1h-1zM422 70h1v1h-1zM422 71h1v1h-1zM423 46h1v1h-1zM423 47h1v1h-1zM423 48h1v1h-1zM423 52h1v1h-1zM423 53h1v1h-1zM423 54h1v1h-1zM423 61h1v1h-1zM423 63h1v1h-1zM423 68h1v1h-1zM424 54h1v1h-1zM424 61h1v1h-1zM424 67h1v1h-1zM425 59h1v1h-1zM425 60h1v1h-1zM425 61h1v1h-1zM426 55h1v1h-1zM427 60h1v1h-1z" fill="#f7a262" filter="url(#tb)"/>
<path d="M385 83h1v1h-1zM385 84h1v1h-1zM385 85h1v1h-1zM386 84h1v1h-1zM386 87h1v1h-1zM388 84h1v1h-1zM389 84h1v1h-1zM390 84h1v1h-1zM390 85h1v1h-1zM390 86h1v1h-1zM393 88h1v1h-1zM394 87h1v1h-1zM394 88h1v1h-1zM394 90h1v1h-1zM396 89h1v1h-1zM398 89h1v1h-1zM401 87h1v1h-1zM402 86h1v1h-1zM402 87h1v1h-1zM402 90h1v1h-1zM403 85h1v1h-1zM403 87h1v1h-1zM403 89h1v1h-1zM403 90h1v1h-1zM404 86h1v1h-1zM404 87h1v1h-1zM405 81h1v1h-1zM405 85h1v1h-1zM405 86h1v1h-1zM405 87h1v1h-1zM405 88h1v1h-1zM405 89h1v1h-1zM406 84h1v1h-1zM406 85h1v1h-1zM406 86h1v1h-1zM406 88h1v1h-1zM407 87h1v1h-1zM407 89h1v1h-1zM408 87h1v1h-1z" fill="#f7b7b7" filter="url(#tb)"/>
<path d="M368 68h1v1h-1zM368 69h1v1h-1zM370 59h1v1h-1zM370 63h1v1h-1zM370 65h1v1h-1zM370 66h1v1h-1zM370 67h1v1h-1zM371 59h1v1h-1zM371 61h1v1h-1zM371 62h1v1h-1zM371 65h1v1h-1zM371 68h1v1h-1zM372 58h1v1h-1zM372 62h1v1h-1zM372 63h1v1h-1zM372 65h1v1h-1zM372 66h1v1h-1zM373 56h1v1h-1zM373 57h1v1h-1zM373 58h1v1h-1zM373 60h1v1h-1zM373 64h1v1h-1zM374 57h1v1h-1zM374 60h1v1h-1zM374 64h1v1h-1zM375 56h1v1h-1zM375 79h1v1h-1zM375 81h1v1h-1zM376 58h1v1h-1zM376 73h1v1h-1zM376 77h1v1h-1zM376 80h1v1h-1zM377 64h1v1h-1zM377 78h1v1h-1zM378 58h1v1h-1zM378 59h1v1h-1zM378 70h1v1h-1zM378 76h1v1h-1zM378 79h1v1h-1zM378 80h1v1h-1zM379 55h1v1h-1zM379 56h1v1h-1zM379 58h1v1h-1zM379 60h1v1h-1zM379 62h1v1h-1zM379 71h1v1h-1zM380 43h1v1h-1zM380 55h1v1h-1zM380 56h1v1h-1zM380 57h1v1h-1zM380 58h1v1h-1zM380 68h1v1h-1zM380 71h1v1h-1zM380 72h1v1h-1zM380 73h1v1h-1zM380 75h1v1h-1zM380 76h1v1h-1zM380 78h1v1h-1zM380 79h1v1h-1zM380 81h1v1h-1zM380 82h1v1h-1zM380 83h1v1h-1zM380 84h1v1h-1zM381 43h1v1h-1zM381 46h1v1h-1zM381 53h1v1h-1zM381 56h1v1h-1zM381 57h1v1h-1zM381 69h1v1h-1zM381 71h1v1h-1zM381 72h1v1h-1zM381 77h1v1h-1zM381 82h1v1h-1zM381 84h1v1h-1zM381 85h1v1h-1zM382 43h1v1h-1zM382 45h1v1h-1zM382 67h1v1h-1zM382 72h1v1h-1zM382 74h1v1h-1zM382 77h1v1h-1zM382 81h1v1h-1zM382 82h1v1h-1zM382 86h1v1h-1zM383 42h1v1h-1zM383 44h1v1h-1zM383 49h1v1h-1zM383 50h1v1h-1zM383 69h1v1h-1zM383 70h1v1h-1zM383 71h1v1h-1zM383 81h1v1h-1zM383 82h1v1h-1zM383 85h1v1h-1zM383 86h1v1h-1zM384 37h1v1h-1zM384 43h1v1h-1zM384 44h1v1h-1zM384 47h1v1h-1zM384 65h1v1h-1zM384 66h1v1h-1zM384 67h1v1h-1zM384 69h1v1h-1zM384 73h1v1h-1zM384 77h1v1h-1zM384 78h1v1h-1zM384 79h1v1h-1zM384 80h1v1h-1zM384 84h1v1h-1zM384 86h1v1h-1zM385 37h1v1h-1zM385 39h1v1h-1zM385 43h1v1h-1zM385 44h1v1h-1zM385 50h1v1h-1zM385 70h1v1h-1zM385 71h1v1h-1zM385 76h1v1h-1zM385 81h1v1h-1zM385 84h1v1h-1zM386 38h1v1h-1zM386 42h1v1h-1zM386 43h1v1h-1zM386 44h1v1h-1zM386 46h1v1h-1zM386 69h1v1h-1zM386 78h1v1h-1zM386 81h1v1h-1zM386 84h1v1h-1zM387 35h1v1h-1zM387 36h1v1h-1zM387 37h1v1h-1zM387 38h1v1h-1zM387 39h1v1h-1zM387 44h1v1h-1zM387 48h1v1h-1zM388 37h1v1h-1zM388 38h1v1h-1zM388 42h1v1h-1zM388 45h1v1h-1zM388 46h1v1h-1zM388 55h1v1h-1zM388 56h1v1h-1zM388 57h1v1h-1zM388 83h1v1h-1zM389 45h1v1h-1zM389 46h1v1h-1zM389 47h1v1h-1zM389 48h1v1h-1zM389 49h1v1h-1zM389 54h1v1h-1zM389 56h1v1h-1zM389 57h1v1h-1zM389 83h1v1h-1zM390 37h1v1h-1zM390 46h1v1h-1zM390 47h1v1h-1zM390 48h1v1h-1zM390 49h1v1h-1zM390 55h1v1h-1zM390 58h1v1h-1zM390 83h1v1h-1zM390 84h1v1h-1zM391 46h1v1h-1zM391 47h1v1h-1zM391 58h1v1h-1zM391 82h1v1h-1zM391 84h1v1h-1zM392 46h1v1h-1zM392 49h1v1h-1zM393 44h1v1h-1zM393 55h1v1h-1zM393 56h1v1h-1zM393 81h1v1h-1zM393 82h1v1h-1zM393 83h1v1h-1zM394 55h1v1h-1zM394 57h1v1h-1zM394 63h1v1h-1zM394 82h1v1h-1zM394 83h1v1h-1zM394 84h1v1h-1zM394 86h1v1h-1zM395 54h1v1h-1zM395 56h1v1h-1zM395 57h1v1h-1zM396 42h1v1h-1zM396 44h1v1h-1zM396 56h1v1h-1zM397 33h1v1h-1zM397 42h1v1h-1zM398 34h1v1h-1zM398 35h1v1h-1zM398 40h1v1h-1zM398 41h1v1h-1zM398 43h1v1h-1zM398 54h1v1h-1zM398 55h1v1h-1zM398 56h1v1h-1zM398 58h1v1h-1zM398 60h1v1h-1zM398 61h1v1h-1zM399 30h1v1h-1zM399 33h1v1h-1zM399 37h1v1h-1zM399 38h1v1h-1zM399 41h1v1h-1zM399 42h1v1h-1zM399 55h1v1h-1zM399 63h1v1h-1zM399 74h1v1h-1zM400 31h1v1h-1zM400 36h1v1h-1zM400 39h1v1h-1zM400 42h1v1h-1zM400 43h1v1h-1zM400 53h1v1h-1zM400 54h1v1h-1zM400 56h1v1h-1zM400 69h1v1h-1zM400 71h1v1h-1zM401 33h1v1h-1zM401 34h1v1h-1zM401 36h1v1h-1zM401 38h1v1h-1zM401 39h1v1h-1zM401 41h1v1h-1zM401 43h1v1h-1zM401 53h1v1h-1zM401 55h1v1h-1zM401 64h1v1h-1zM401 73h1v1h-1zM402 31h1v1h-1zM402 32h1v1h-1zM402 33h1v1h-1zM402 34h1v1h-1zM402 36h1v1h-1zM402 38h1v1h-1zM402 44h1v1h-1zM402 55h1v1h-1zM402 56h1v1h-1zM402 57h1v1h-1zM402 60h1v1h-1zM402 61h1v1h-1zM402 62h1v1h-1zM403 32h1v1h-1zM403 33h1v1h-1zM403 34h1v1h-1zM403 35h1v1h-1zM403 38h1v1h-1zM403 39h1v1h-1zM403 40h1v1h-1zM403 41h1v1h-1zM403 42h1v1h-1zM403 71h1v1h-1zM404 32h1v1h-1zM404 33h1v1h-1zM404 41h1v1h-1zM404 42h1v1h-1zM404 43h1v1h-1zM404 44h1v1h-1zM404 55h1v1h-1zM404 63h1v1h-1zM404 74h1v1h-1zM404 75h1v1h-1zM405 41h1v1h-1zM405 44h1v1h-1zM405 45h1v1h-1zM406 41h1v1h-1zM406 42h1v1h-1zM406 44h1v1h-1zM406 75h1v1h-1zM407 40h1v1h-1zM407 41h1v1h-1zM407 42h1v1h-1zM407 46h1v1h-1zM407 47h1v1h-1zM407 76h1v1h-1zM407 78h1v1h-1zM408 44h1v1h-1zM408 45h1v1h-1zM408 46h1v1h-1zM409 39h1v1h-1zM409 42h1v1h-1zM409 43h1v1h-1zM409 44h1v1h-1zM409 45h1v1h-1zM409 47h1v1h-1zM409 48h1v1h-1zM409 50h1v1h-1zM410 38h1v1h-1zM410 39h1v1h-1zM410 41h1v1h-1zM410 42h1v1h-1zM410 44h1v1h-1zM410 45h1v1h-1zM410 47h1v1h-1zM410 49h1v1h-1zM410 75h1v1h-1zM411 36h1v1h-1zM411 37h1v1h-1zM411 38h1v1h-1zM411 40h1v1h-1zM411 41h1v1h-1zM411 45h1v1h-1zM411 46h1v1h-1zM411 48h1v1h-1zM411 49h1v1h-1zM412 36h1v1h-1zM412 40h1v1h-1zM412 41h1v1h-1zM412 47h1v1h-1zM413 36h1v1h-1zM413 37h1v1h-1zM413 38h1v1h-1zM413 39h1v1h-1zM413 42h1v1h-1zM413 43h1v1h-1zM414 37h1v1h-1zM414 38h1v1h-1zM414 39h1v1h-1zM414 40h1v1h-1zM414 41h1v1h-1zM414 42h1v1h-1zM414 43h1v1h-1zM415 36h1v1h-1zM415 37h1v1h-1zM415 38h1v1h-1zM415 41h1v1h-1zM415 42h1v1h-1zM415 43h1v1h-1zM415 45h1v1h-1zM416 39h1v1h-1zM416 46h1v1h-1zM417 42h1v1h-1zM417 44h1v1h-1zM417 45h1v1h-1zM418 40h1v1h-1zM418 42h1v1h-1zM418 43h1v1h-1zM419 40h1v1h-1zM419 45h1v1h-1zM419 47h1v1h-1zM419 48h1v1h-1zM420 45h1v1h-1zM420 57h1v1h-1zM420 61h1v1h-1zM421 54h1v1h-1zM421 56h1v1h-1zM421 57h1v1h-1zM421 59h1v1h-1zM422 56h1v1h-1zM422 58h1v1h-1zM422 59h1v1h-1zM423 57h1v1h-1zM423 58h1v1h-1zM423 59h1v1h-1zM423 61h1v1h-1zM424 57h1v1h-1zM424 58h1v1h-1zM424 59h1v1h-1zM425 53h1v1h-1zM425 58h1v1h-1zM425 59h1v1h-1zM425 60h1v1h-1z" fill="#a8ec92" filter="url(#tb)"/>
<path d="M377 61h1v1h-1zM378 62h1v1h-1zM378 63h1v1h-1zM379 59h1v1h-1zM379 61h1v1h-1zM379 64h1v1h-1zM379 65h1v1h-1zM379 68h1v1h-1zM380 61h1v1h-1zM380 63h1v1h-1zM380 65h1v1h-1zM380 66h1v1h-1zM380 67h1v1h-1zM381 58h1v1h-1zM381 59h1v1h-1zM381 60h1v1h-1zM381 61h1v1h-1zM381 66h1v1h-1zM382 48h1v1h-1zM382 53h1v1h-1zM382 61h1v1h-1zM382 62h1v1h-1zM382 66h1v1h-1zM383 46h1v1h-1zM383 47h1v1h-1zM383 50h1v1h-1zM383 53h1v1h-1zM383 61h1v1h-1zM384 47h1v1h-1zM384 49h1v1h-1zM384 53h1v1h-1zM384 62h1v1h-1zM385 52h1v1h-1zM386 49h1v1h-1zM386 52h1v1h-1zM386 54h1v1h-1zM387 52h1v1h-1zM388 50h1v1h-1zM388 51h1v1h-1zM388 53h1v1h-1zM389 52h1v1h-1zM390 40h1v1h-1zM391 39h1v1h-1zM391 40h1v1h-1zM392 39h1v1h-1zM393 38h1v1h-1zM393 59h1v1h-1zM394 57h1v1h-1zM394 58h1v1h-1zM394 59h1v1h-1zM394 77h1v1h-1zM394 78h1v1h-1zM395 57h1v1h-1zM395 58h1v1h-1zM395 59h1v1h-1zM395 76h1v1h-1zM395 77h1v1h-1zM395 78h1v1h-1zM396 56h1v1h-1zM396 57h1v1h-1zM396 74h1v1h-1zM396 75h1v1h-1zM396 76h1v1h-1zM396 77h1v1h-1zM396 79h1v1h-1zM397 72h1v1h-1zM397 76h1v1h-1zM397 77h1v1h-1zM397 78h1v1h-1zM398 75h1v1h-1zM398 76h1v1h-1zM398 77h1v1h-1zM398 78h1v1h-1zM398 80h1v1h-1zM399 76h1v1h-1zM399 77h1v1h-1zM399 78h1v1h-1zM399 79h1v1h-1zM399 80h1v1h-1zM400 76h1v1h-1zM400 78h1v1h-1zM401 74h1v1h-1zM401 76h1v1h-1zM401 77h1v1h-1zM402 77h1v1h-1zM402 80h1v1h-1zM403 36h1v1h-1zM403 75h1v1h-1zM403 76h1v1h-1zM403 78h1v1h-1zM403 80h1v1h-1zM404 34h1v1h-1zM404 35h1v1h-1zM404 78h1v1h-1zM404 80h1v1h-1zM405 31h1v1h-1zM405 36h1v1h-1zM405 37h1v1h-1zM406 33h1v1h-1zM406 36h1v1h-1zM406 39h1v1h-1zM406 40h1v1h-1zM407 31h1v1h-1zM407 37h1v1h-1zM407 39h1v1h-1zM408 33h1v1h-1zM408 34h1v1h-1zM408 35h1v1h-1zM408 36h1v1h-1zM408 37h1v1h-1zM408 38h1v1h-1zM408 39h1v1h-1zM409 35h1v1h-1zM409 36h1v1h-1zM409 37h1v1h-1zM409 38h1v1h-1zM416 64h1v1h-1zM417 60h1v1h-1zM417 62h1v1h-1zM419 62h1v1h-1zM420 61h1v1h-1zM420 63h1v1h-1z" fill="#d2f0fb" filter="url(#tb)"/>
<path d="M410 58h1v1h-1zM411 59h1v1h-1zM414 57h1v1h-1zM414 58h1v1h-1zM414 59h1v1h-1zM415 58h1v1h-1z" fill="#f2708a" filter="url(#tb)"/>
<path d="M454 56h1v1h-1zM454 59h1v1h-1zM455 55h1v1h-1zM455 56h1v1h-1zM455 58h1v1h-1zM455 59h1v1h-1zM455 61h1v1h-1zM456 58h1v1h-1zM456 59h1v1h-1zM456 73h1v1h-1zM457 53h1v1h-1zM457 57h1v1h-1zM457 58h1v1h-1zM457 59h1v1h-1zM457 72h1v1h-1zM457 73h1v1h-1zM458 56h1v1h-1zM458 57h1v1h-1zM458 58h1v1h-1zM458 74h1v1h-1zM458 76h1v1h-1zM459 54h1v1h-1zM459 59h1v1h-1zM459 60h1v1h-1zM459 71h1v1h-1zM459 74h1v1h-1zM459 75h1v1h-1zM460 58h1v1h-1zM460 73h1v1h-1zM460 74h1v1h-1zM460 76h1v1h-1zM461 55h1v1h-1zM461 73h1v1h-1zM461 74h1v1h-1zM461 75h1v1h-1zM461 77h1v1h-1zM462 40h1v1h-1zM462 42h1v1h-1zM462 63h1v1h-1zM462 77h1v1h-1zM462 78h1v1h-1zM463 40h1v1h-1zM463 41h1v1h-1zM463 43h1v1h-1zM463 61h1v1h-1zM463 63h1v1h-1zM463 65h1v1h-1zM463 77h1v1h-1zM463 79h1v1h-1zM464 41h1v1h-1zM464 57h1v1h-1zM464 58h1v1h-1zM464 60h1v1h-1zM464 61h1v1h-1zM464 62h1v1h-1zM465 44h1v1h-1zM465 55h1v1h-1zM465 60h1v1h-1zM465 61h1v1h-1zM465 62h1v1h-1zM465 64h1v1h-1zM465 65h1v1h-1zM466 38h1v1h-1zM466 42h1v1h-1zM466 43h1v1h-1zM466 44h1v1h-1zM466 52h1v1h-1zM466 54h1v1h-1zM466 57h1v1h-1zM466 59h1v1h-1zM466 60h1v1h-1zM466 61h1v1h-1zM466 62h1v1h-1zM466 63h1v1h-1zM466 68h1v1h-1zM467 43h1v1h-1zM467 44h1v1h-1zM467 46h1v1h-1zM467 54h1v1h-1zM467 56h1v1h-1zM467 57h1v1h-1zM467 58h1v1h-1zM467 59h1v1h-1zM467 60h1v1h-1zM467 62h1v1h-1zM467 63h1v1h-1zM467 64h1v1h-1zM467 66h1v1h-1zM468 38h1v1h-1zM468 43h1v1h-1zM468 44h1v1h-1zM468 46h1v1h-1zM468 47h1v1h-1zM468 53h1v1h-1zM468 55h1v1h-1zM468 56h1v1h-1zM468 57h1v1h-1zM468 58h1v1h-1zM468 59h1v1h-1zM468 60h1v1h-1zM468 61h1v1h-1zM468 62h1v1h-1zM468 66h1v1h-1zM468 67h1v1h-1zM469 34h1v1h-1zM469 35h1v1h-1zM469 41h1v1h-1zM469 44h1v1h-1zM469 45h1v1h-1zM469 53h1v1h-1zM469 54h1v1h-1zM469 55h1v1h-1zM469 56h1v1h-1zM469 57h1v1h-1zM469 58h1v1h-1zM469 61h1v1h-1zM469 62h1v1h-1zM469 63h1v1h-1zM469 64h1v1h-1zM469 65h1v1h-1zM470 35h1v1h-1zM470 36h1v1h-1zM470 38h1v1h-1zM470 41h1v1h-1zM470 42h1v1h-1zM470 43h1v1h-1zM470 46h1v1h-1zM470 47h1v1h-1zM470 48h1v1h-1zM470 51h1v1h-1zM470 52h1v1h-1zM470 53h1v1h-1zM470 55h1v1h-1zM470 56h1v1h-1zM470 57h1v1h-1zM470 59h1v1h-1zM470 64h1v1h-1zM470 65h1v1h-1zM471 39h1v1h-1zM471 41h1v1h-1zM471 42h1v1h-1zM471 43h1v1h-1zM471 44h1v1h-1zM471 47h1v1h-1zM471 52h1v1h-1zM471 53h1v1h-1zM471 54h1v1h-1zM471 55h1v1h-1zM471 56h1v1h-1zM471 57h1v1h-1zM471 58h1v1h-1zM471 59h1v1h-1zM471 60h1v1h-1zM471 70h1v1h-1zM471 76h1v1h-1zM472 37h1v1h-1zM472 39h1v1h-1zM472 40h1v1h-1zM472 51h1v1h-1zM472 52h1v1h-1zM472 53h1v1h-1zM472 54h1v1h-1zM472 56h1v1h-1zM472 58h1v1h-1zM472 69h1v1h-1zM472 70h1v1h-1zM472 71h1v1h-1zM472 72h1v1h-1zM472 73h1v1h-1zM472 76h1v1h-1zM473 39h1v1h-1zM473 40h1v1h-1zM473 41h1v1h-1zM473 42h1v1h-1zM473 52h1v1h-1zM473 53h1v1h-1zM473 57h1v1h-1zM473 58h1v1h-1zM473 60h1v1h-1zM473 70h1v1h-1zM473 71h1v1h-1zM473 72h1v1h-1zM473 73h1v1h-1zM473 74h1v1h-1zM474 39h1v1h-1zM474 40h1v1h-1zM474 42h1v1h-1zM474 57h1v1h-1zM474 68h1v1h-1zM474 69h1v1h-1zM474 70h1v1h-1zM474 71h1v1h-1zM474 73h1v1h-1zM474 74h1v1h-1zM475 52h1v1h-1zM475 53h1v1h-1zM475 54h1v1h-1zM475 55h1v1h-1zM475 57h1v1h-1zM475 71h1v1h-1zM476 32h1v1h-1zM476 36h1v1h-1zM476 37h1v1h-1zM476 52h1v1h-1zM476 53h1v1h-1zM476 55h1v1h-1zM476 56h1v1h-1zM476 72h1v1h-1zM477 35h1v1h-1zM477 37h1v1h-1zM477 38h1v1h-1zM477 53h1v1h-1zM477 54h1v1h-1zM477 55h1v1h-1zM477 56h1v1h-1zM477 71h1v1h-1zM478 32h1v1h-1zM478 33h1v1h-1zM478 34h1v1h-1zM478 36h1v1h-1zM478 50h1v1h-1zM478 51h1v1h-1zM478 53h1v1h-1zM478 54h1v1h-1zM478 56h1v1h-1zM478 57h1v1h-1zM479 33h1v1h-1zM479 34h1v1h-1zM479 35h1v1h-1zM479 36h1v1h-1zM479 37h1v1h-1zM479 38h1v1h-1zM479 39h1v1h-1zM479 50h1v1h-1zM479 51h1v1h-1zM479 74h1v1h-1zM479 76h1v1h-1zM480 33h1v1h-1zM480 35h1v1h-1zM480 36h1v1h-1zM480 37h1v1h-1zM480 39h1v1h-1zM480 40h1v1h-1zM480 51h1v1h-1zM480 52h1v1h-1zM480 53h1v1h-1zM480 55h1v1h-1zM480 57h1v1h-1zM480 73h1v1h-1zM480 74h1v1h-1zM481 32h1v1h-1zM481 36h1v1h-1zM481 37h1v1h-1zM481 50h1v1h-1zM481 51h1v1h-1zM481 54h1v1h-1zM481 56h1v1h-1zM481 71h1v1h-1zM481 75h1v1h-1zM482 36h1v1h-1zM482 37h1v1h-1zM482 39h1v1h-1zM482 52h1v1h-1zM482 53h1v1h-1zM482 59h1v1h-1zM482 68h1v1h-1zM482 71h1v1h-1zM482 78h1v1h-1zM483 51h1v1h-1zM483 52h1v1h-1zM483 54h1v1h-1zM483 55h1v1h-1zM483 70h1v1h-1zM483 71h1v1h-1zM484 30h1v1h-1zM484 34h1v1h-1zM484 51h1v1h-1zM484 52h1v1h-1zM484 55h1v1h-1zM484 56h1v1h-1zM484 57h1v1h-1zM484 58h1v1h-1zM484 59h1v1h-1zM484 70h1v1h-1zM484 72h1v1h-1zM484 73h1v1h-1zM484 75h1v1h-1zM485 32h1v1h-1zM485 50h1v1h-1zM485 51h1v1h-1zM485 58h1v1h-1zM485 60h1v1h-1zM485 66h1v1h-1zM485 71h1v1h-1zM485 72h1v1h-1zM485 75h1v1h-1zM486 33h1v1h-1zM486 59h1v1h-1zM486 60h1v1h-1zM486 76h1v1h-1zM487 32h1v1h-1zM487 33h1v1h-1zM487 57h1v1h-1zM487 58h1v1h-1zM487 76h1v1h-1zM488 31h1v1h-1zM488 55h1v1h-1zM488 57h1v1h-1zM488 58h1v1h-1zM488 59h1v1h-1zM488 61h1v1h-1zM489 32h1v1h-1zM489 55h1v1h-1zM489 57h1v1h-1zM489 75h1v1h-1zM490 52h1v1h-1zM490 55h1v1h-1zM490 57h1v1h-1zM490 58h1v1h-1zM490 59h1v1h-1zM490 61h1v1h-1zM490 72h1v1h-1zM490 73h1v1h-1zM490 74h1v1h-1zM490 77h1v1h-1zM491 53h1v1h-1zM491 54h1v1h-1zM491 56h1v1h-1zM491 57h1v1h-1zM491 58h1v1h-1zM491 59h1v1h-1zM491 62h1v1h-1zM491 73h1v1h-1zM491 75h1v1h-1zM492 33h1v1h-1zM492 48h1v1h-1zM492 52h1v1h-1zM492 53h1v1h-1zM492 56h1v1h-1zM492 57h1v1h-1zM492 59h1v1h-1zM492 61h1v1h-1zM492 73h1v1h-1zM492 74h1v1h-1zM493 32h1v1h-1zM493 33h1v1h-1zM493 34h1v1h-1zM493 39h1v1h-1zM493 42h1v1h-1zM494 40h1v1h-1zM494 41h1v1h-1zM494 75h1v1h-1zM495 35h1v1h-1zM495 38h1v1h-1zM495 39h1v1h-1zM495 41h1v1h-1zM495 42h1v1h-1zM496 39h1v1h-1zM497 34h1v1h-1zM497 40h1v1h-1zM498 35h1v1h-1zM498 37h1v1h-1zM498 39h1v1h-1zM498 42h1v1h-1zM499 41h1v1h-1zM499 42h1v1h-1zM500 39h1v1h-1zM500 41h1v1h-1zM506 58h1v1h-1zM506 60h1v1h-1zM507 61h1v1h-1zM507 62h1v1h-1zM507 67h1v1h-1zM508 60h1v1h-1zM508 62h1v1h-1zM508 63h1v1h-1zM508 66h1v1h-1zM508 68h1v1h-1zM509 62h1v1h-1zM509 66h1v1h-1zM509 67h1v1h-1zM509 69h1v1h-1zM510 58h1v1h-1zM510 59h1v1h-1zM510 61h1v1h-1zM510 65h1v1h-1zM510 66h1v1h-1zM510 67h1v1h-1zM510 69h1v1h-1zM511 57h1v1h-1zM511 68h1v1h-1zM513 67h1v1h-1zM514 69h1v1h-1z" fill="#2ab7ef" filter="url(#tb)"/>
<path d="M454 64h1v1h-1zM455 61h1v1h-1zM455 63h1v1h-1zM455 64h1v1h-1zM456 62h1v1h-1zM456 63h1v1h-1zM456 66h1v1h-1zM456 71h1v1h-1zM456 72h1v1h-1zM457 47h1v1h-1zM457 48h1v1h-1zM457 61h1v1h-1zM457 66h1v1h-1zM457 67h1v1h-1zM457 69h1v1h-1zM457 71h1v1h-1zM457 72h1v1h-1zM458 53h1v1h-1zM458 62h1v1h-1zM458 65h1v1h-1zM458 66h1v1h-1zM458 74h1v1h-1zM459 44h1v1h-1zM459 48h1v1h-1zM459 49h1v1h-1zM459 65h1v1h-1zM459 68h1v1h-1zM459 69h1v1h-1zM459 72h1v1h-1zM460 45h1v1h-1zM460 46h1v1h-1zM460 47h1v1h-1zM460 48h1v1h-1zM460 51h1v1h-1zM460 52h1v1h-1zM460 53h1v1h-1zM460 54h1v1h-1zM460 63h1v1h-1zM461 44h1v1h-1zM461 47h1v1h-1zM461 48h1v1h-1zM461 49h1v1h-1zM461 50h1v1h-1zM461 69h1v1h-1zM462 43h1v1h-1zM462 46h1v1h-1zM462 48h1v1h-1zM462 49h1v1h-1zM462 50h1v1h-1zM462 51h1v1h-1zM462 53h1v1h-1zM462 67h1v1h-1zM462 70h1v1h-1zM463 41h1v1h-1zM463 42h1v1h-1zM463 43h1v1h-1zM463 44h1v1h-1zM463 45h1v1h-1zM463 47h1v1h-1zM463 51h1v1h-1zM463 53h1v1h-1zM463 67h1v1h-1zM463 68h1v1h-1zM463 70h1v1h-1zM464 42h1v1h-1zM464 46h1v1h-1zM464 49h1v1h-1zM464 53h1v1h-1zM465 43h1v1h-1zM465 46h1v1h-1zM465 47h1v1h-1zM465 52h1v1h-1zM465 53h1v1h-1zM465 60h1v1h-1zM465 84h1v1h-1zM466 44h1v1h-1zM466 45h1v1h-1zM466 46h1v1h-1zM466 47h1v1h-1zM466 49h1v1h-1zM466 58h1v1h-1zM466 59h1v1h-1zM466 60h1v1h-1zM466 82h1v1h-1zM466 84h1v1h-1zM467 44h1v1h-1zM467 45h1v1h-1zM467 46h1v1h-1zM467 47h1v1h-1zM467 49h1v1h-1zM467 83h1v1h-1zM467 84h1v1h-1zM468 37h1v1h-1zM468 45h1v1h-1zM468 46h1v1h-1zM468 47h1v1h-1zM468 48h1v1h-1zM468 49h1v1h-1zM468 59h1v1h-1zM468 84h1v1h-1zM468 86h1v1h-1zM468 87h1v1h-1zM469 45h1v1h-1zM469 46h1v1h-1zM469 47h1v1h-1zM469 48h1v1h-1zM469 74h1v1h-1zM470 45h1v1h-1zM470 46h1v1h-1zM470 60h1v1h-1zM470 87h1v1h-1zM470 88h1v1h-1zM471 37h1v1h-1zM471 38h1v1h-1zM471 47h1v1h-1zM471 48h1v1h-1zM471 63h1v1h-1zM471 74h1v1h-1zM472 35h1v1h-1zM472 44h1v1h-1zM472 46h1v1h-1zM472 47h1v1h-1zM472 63h1v1h-1zM472 64h1v1h-1zM472 72h1v1h-1zM472 73h1v1h-1zM473 36h1v1h-1zM473 38h1v1h-1zM473 39h1v1h-1zM473 40h1v1h-1zM473 43h1v1h-1zM473 44h1v1h-1zM473 45h1v1h-1zM473 46h1v1h-1zM473 49h1v1h-1zM473 51h1v1h-1zM473 61h1v1h-1zM473 62h1v1h-1zM473 65h1v1h-1zM473 72h1v1h-1zM473 73h1v1h-1zM473 74h1v1h-1zM474 37h1v1h-1zM474 40h1v1h-1zM474 41h1v1h-1zM474 46h1v1h-1zM474 47h1v1h-1zM474 50h1v1h-1zM474 51h1v1h-1zM474 60h1v1h-1zM474 62h1v1h-1zM474 63h1v1h-1zM474 73h1v1h-1zM475 40h1v1h-1zM475 43h1v1h-1zM475 44h1v1h-1zM475 46h1v1h-1zM475 47h1v1h-1zM475 48h1v1h-1zM475 49h1v1h-1zM475 50h1v1h-1zM475 51h1v1h-1zM475 62h1v1h-1zM475 63h1v1h-1zM475 64h1v1h-1zM475 65h1v1h-1zM475 77h1v1h-1zM475 80h1v1h-1zM476 43h1v1h-1zM476 45h1v1h-1zM476 50h1v1h-1zM476 52h1v1h-1zM476 58h1v1h-1zM476 59h1v1h-1zM476 60h1v1h-1zM476 65h1v1h-1zM476 72h1v1h-1zM476 78h1v1h-1zM476 79h1v1h-1zM477 38h1v1h-1zM477 43h1v1h-1zM477 45h1v1h-1zM477 47h1v1h-1zM477 49h1v1h-1zM477 50h1v1h-1zM477 61h1v1h-1zM477 74h1v1h-1zM477 76h1v1h-1zM477 77h1v1h-1zM478 44h1v1h-1zM478 73h1v1h-1zM478 79h1v1h-1zM479 42h1v1h-1zM479 71h1v1h-1zM479 77h1v1h-1zM479 79h1v1h-1zM481 72h1v1h-1zM481 79h1v1h-1zM485 47h1v1h-1zM485 48h1v1h-1zM485 50h1v1h-1zM486 48h1v1h-1zM487 46h1v1h-1zM488 46h1v1h-1zM488 47h1v1h-1zM488 49h1v1h-1zM489 44h1v1h-1zM490 49h1v1h-1zM490 50h1v1h-1zM490 66h1v1h-1zM490 69h1v1h-1zM491 47h1v1h-1zM491 68h1v1h-1zM491 69h1v1h-1zM491 71h1v1h-1zM491 72h1v1h-1zM492 48h1v1h-1zM492 49h1v1h-1zM492 50h1v1h-1zM492 51h1v1h-1zM492 71h1v1h-1zM493 42h1v1h-1zM493 47h1v1h-1zM493 49h1v1h-1zM493 68h1v1h-1zM494 40h1v1h-1zM494 41h1v1h-1zM494 42h1v1h-1zM494 44h1v1h-1zM494 45h1v1h-1zM494 48h1v1h-1zM494 49h1v1h-1zM494 67h1v1h-1zM495 44h1v1h-1zM495 45h1v1h-1zM495 46h1v1h-1zM495 47h1v1h-1zM495 67h1v1h-1zM496 45h1v1h-1zM496 65h1v1h-1zM496 67h1v1h-1zM496 69h1v1h-1zM496 70h1v1h-1zM497 48h1v1h-1zM498 43h1v1h-1zM498 48h1v1h-1zM498 68h1v1h-1zM498 69h1v1h-1zM498 71h1v1h-1zM499 44h1v1h-1zM499 45h1v1h-1zM499 68h1v1h-1zM500 43h1v1h-1zM500 45h1v1h-1zM500 46h1v1h-1zM501 53h1v1h-1zM502 40h1v1h-1zM502 41h1v1h-1zM502 43h1v1h-1zM502 45h1v1h-1zM503 43h1v1h-1zM503 44h1v1h-1zM503 47h1v1h-1zM504 40h1v1h-1zM504 41h1v1h-1zM504 42h1v1h-1zM504 43h1v1h-1zM504 46h1v1h-1zM504 47h1v1h-1zM504 50h1v1h-1zM505 43h1v1h-1zM506 39h1v1h-1zM506 40h1v1h-1zM506 41h1v1h-1zM506 42h1v1h-1zM506 44h1v1h-1zM506 52h1v1h-1zM507 40h1v1h-1zM507 43h1v1h-1zM507 46h1v1h-1zM507 48h1v1h-1zM507 49h1v1h-1zM508 47h1v1h-1zM510 44h1v1h-1z" fill="#c9f2bb" filter="url(#tb)"/>
<path d="M466 85h1v1h-1zM470 87h1v1h-1zM472 83h1v1h-1zM472 88h1v1h-1zM473 84h1v1h-1zM473 88h1v1h-1zM474 86h1v1h-1zM475 79h1v1h-1zM475 86h1v1h-1zM476 83h1v1h-1zM476 86h1v1h-1zM476 87h1v1h-1zM476 89h1v1h-1zM477 79h1v1h-1zM477 80h1v1h-1zM477 88h1v1h-1zM478 81h1v1h-1zM478 84h1v1h-1zM478 85h1v1h-1zM478 86h1v1h-1zM478 88h1v1h-1zM479 90h1v1h-1zM480 81h1v1h-1zM480 83h1v1h-1zM480 87h1v1h-1zM480 90h1v1h-1zM481 79h1v1h-1zM481 83h1v1h-1zM481 84h1v1h-1zM481 86h1v1h-1zM481 87h1v1h-1zM481 88h1v1h-1zM481 90h1v1h-1zM482 83h1v1h-1zM482 84h1v1h-1zM482 90h1v1h-1zM483 81h1v1h-1zM483 83h1v1h-1zM483 84h1v1h-1zM483 85h1v1h-1zM483 86h1v1h-1zM484 83h1v1h-1zM484 84h1v1h-1zM484 85h1v1h-1zM484 87h1v1h-1zM485 79h1v1h-1zM485 82h1v1h-1zM485 83h1v1h-1zM485 87h1v1h-1zM485 88h1v1h-1zM486 81h1v1h-1zM486 82h1v1h-1zM486 83h1v1h-1zM486 87h1v1h-1zM486 88h1v1h-1zM487 53h1v1h-1zM487 81h1v1h-1zM487 82h1v1h-1zM487 84h1v1h-1zM487 86h1v1h-1zM487 89h1v1h-1zM488 51h1v1h-1zM488 52h1v1h-1zM488 80h1v1h-1zM488 82h1v1h-1zM488 84h1v1h-1zM488 92h1v1h-1zM489 52h1v1h-1zM489 79h1v1h-1zM489 80h1v1h-1zM489 82h1v1h-1zM489 87h1v1h-1zM489 91h1v1h-1zM490 80h1v1h-1zM490 81h1v1h-1zM490 84h1v1h-1zM490 88h1v1h-1zM491 79h1v1h-1zM491 84h1v1h-1zM491 85h1v1h-1zM492 86h1v1h-1zM493 86h1v1h-1zM494 78h1v1h-1zM494 79h1v1h-1zM494 84h1v1h-1zM494 85h1v1h-1zM495 75h1v1h-1zM495 76h1v1h-1zM495 79h1v1h-1zM495 84h1v1h-1zM495 85h1v1h-1zM496 79h1v1h-1zM496 83h1v1h-1zM496 85h1v1h-1zM496 87h1v1h-1zM497 75h1v1h-1zM497 77h1v1h-1zM497 78h1v1h-1zM497 80h1v1h-1zM497 84h1v1h-1zM498 76h1v1h-1zM498 78h1v1h-1zM498 79h1v1h-1zM498 80h1v1h-1zM498 81h1v1h-1zM499 78h1v1h-1zM499 80h1v1h-1zM499 81h1v1h-1zM499 82h1v1h-1zM499 85h1v1h-1zM500 77h1v1h-1zM500 81h1v1h-1zM500 83h1v1h-1z" fill="#f04a4a" filter="url(#tb)"/>
<path d="M458 67h1v1h-1zM458 68h1v1h-1zM458 69h1v1h-1zM458 70h1v1h-1zM459 71h1v1h-1zM460 67h1v1h-1zM460 70h1v1h-1zM460 71h1v1h-1zM460 76h1v1h-1zM461 68h1v1h-1zM461 69h1v1h-1zM461 70h1v1h-1zM461 71h1v1h-1zM461 72h1v1h-1zM462 69h1v1h-1zM462 70h1v1h-1zM462 71h1v1h-1zM462 72h1v1h-1zM462 73h1v1h-1zM462 74h1v1h-1zM463 65h1v1h-1zM463 70h1v1h-1zM463 71h1v1h-1zM463 72h1v1h-1zM463 73h1v1h-1zM463 74h1v1h-1zM463 75h1v1h-1zM464 69h1v1h-1zM464 70h1v1h-1zM464 71h1v1h-1zM464 72h1v1h-1zM464 73h1v1h-1zM464 74h1v1h-1zM464 75h1v1h-1zM465 70h1v1h-1zM465 72h1v1h-1zM465 74h1v1h-1zM465 76h1v1h-1zM465 81h1v1h-1zM466 68h1v1h-1zM466 76h1v1h-1zM466 79h1v1h-1zM466 81h1v1h-1zM467 67h1v1h-1zM467 68h1v1h-1zM467 70h1v1h-1zM467 71h1v1h-1zM467 72h1v1h-1zM467 74h1v1h-1zM467 75h1v1h-1zM467 76h1v1h-1zM467 77h1v1h-1zM467 80h1v1h-1zM468 65h1v1h-1zM468 69h1v1h-1zM468 70h1v1h-1zM468 71h1v1h-1zM468 74h1v1h-1zM468 78h1v1h-1zM469 69h1v1h-1zM469 73h1v1h-1zM469 79h1v1h-1zM469 82h1v1h-1zM470 67h1v1h-1zM470 70h1v1h-1zM470 71h1v1h-1zM470 81h1v1h-1zM471 66h1v1h-1zM471 69h1v1h-1zM471 71h1v1h-1zM472 70h1v1h-1zM473 70h1v1h-1zM474 64h1v1h-1zM475 66h1v1h-1zM476 68h1v1h-1zM476 70h1v1h-1zM476 71h1v1h-1zM477 63h1v1h-1zM477 65h1v1h-1zM477 69h1v1h-1zM477 70h1v1h-1zM477 72h1v1h-1zM478 63h1v1h-1zM478 70h1v1h-1zM478 71h1v1h-1zM479 69h1v1h-1zM480 41h1v1h-1zM480 44h1v1h-1zM480 69h1v1h-1zM480 70h1v1h-1zM480 71h1v1h-1zM481 40h1v1h-1zM481 41h1v1h-1zM481 45h1v1h-1zM481 68h1v1h-1zM481 69h1v1h-1zM481 71h1v1h-1zM482 42h1v1h-1zM482 43h1v1h-1zM482 66h1v1h-1zM482 67h1v1h-1zM482 68h1v1h-1zM482 69h1v1h-1zM482 70h1v1h-1zM482 71h1v1h-1zM482 73h1v1h-1zM483 40h1v1h-1zM483 41h1v1h-1zM483 42h1v1h-1zM483 65h1v1h-1zM483 66h1v1h-1zM483 67h1v1h-1zM483 71h1v1h-1zM483 72h1v1h-1zM484 41h1v1h-1zM484 42h1v1h-1zM484 56h1v1h-1zM484 66h1v1h-1zM484 67h1v1h-1zM484 68h1v1h-1zM484 69h1v1h-1zM484 70h1v1h-1zM484 71h1v1h-1zM484 73h1v1h-1zM485 42h1v1h-1zM485 43h1v1h-1zM485 58h1v1h-1zM485 60h1v1h-1zM485 67h1v1h-1zM485 69h1v1h-1zM485 70h1v1h-1zM485 71h1v1h-1zM485 72h1v1h-1zM486 38h1v1h-1zM486 40h1v1h-1zM486 43h1v1h-1zM486 45h1v1h-1zM486 57h1v1h-1zM486 59h1v1h-1zM486 61h1v1h-1zM486 66h1v1h-1zM487 38h1v1h-1zM487 39h1v1h-1zM487 40h1v1h-1zM487 42h1v1h-1zM487 43h1v1h-1zM487 65h1v1h-1zM487 66h1v1h-1zM487 68h1v1h-1zM487 70h1v1h-1zM488 36h1v1h-1zM488 37h1v1h-1zM488 38h1v1h-1zM488 39h1v1h-1zM488 42h1v1h-1zM488 43h1v1h-1zM488 44h1v1h-1zM488 57h1v1h-1zM488 64h1v1h-1zM488 65h1v1h-1zM488 67h1v1h-1zM488 69h1v1h-1zM488 70h1v1h-1zM489 39h1v1h-1zM489 40h1v1h-1zM489 42h1v1h-1zM489 44h1v1h-1zM489 59h1v1h-1zM489 64h1v1h-1zM489 66h1v1h-1zM490 34h1v1h-1zM490 36h1v1h-1zM490 37h1v1h-1zM490 38h1v1h-1zM490 40h1v1h-1zM490 42h1v1h-1zM490 43h1v1h-1zM490 44h1v1h-1zM490 54h1v1h-1zM490 59h1v1h-1zM490 64h1v1h-1zM490 66h1v1h-1zM490 68h1v1h-1zM491 35h1v1h-1zM491 36h1v1h-1zM491 37h1v1h-1zM491 38h1v1h-1zM491 43h1v1h-1zM491 57h1v1h-1zM491 59h1v1h-1zM491 66h1v1h-1zM491 68h1v1h-1zM492 33h1v1h-1zM492 35h1v1h-1zM492 37h1v1h-1zM492 39h1v1h-1zM492 40h1v1h-1zM492 51h1v1h-1zM492 57h1v1h-1zM492 61h1v1h-1zM492 68h1v1h-1zM493 32h1v1h-1zM493 34h1v1h-1zM493 39h1v1h-1zM493 41h1v1h-1zM493 42h1v1h-1zM493 44h1v1h-1zM493 45h1v1h-1zM493 51h1v1h-1zM493 59h1v1h-1zM493 61h1v1h-1zM493 62h1v1h-1zM493 63h1v1h-1zM494 40h1v1h-1zM494 41h1v1h-1zM494 42h1v1h-1zM494 45h1v1h-1zM494 49h1v1h-1zM494 50h1v1h-1zM494 51h1v1h-1zM494 52h1v1h-1zM494 56h1v1h-1zM494 58h1v1h-1zM494 62h1v1h-1zM495 35h1v1h-1zM495 43h1v1h-1zM495 44h1v1h-1zM495 50h1v1h-1zM495 51h1v1h-1zM495 58h1v1h-1zM495 59h1v1h-1zM496 37h1v1h-1zM496 41h1v1h-1zM496 52h1v1h-1zM496 59h1v1h-1zM496 71h1v1h-1zM497 49h1v1h-1zM497 50h1v1h-1zM497 54h1v1h-1zM497 55h1v1h-1zM497 77h1v1h-1zM497 85h1v1h-1zM498 41h1v1h-1zM498 49h1v1h-1zM498 60h1v1h-1zM499 54h1v1h-1zM499 61h1v1h-1zM499 66h1v1h-1zM499 71h1v1h-1zM499 72h1v1h-1zM499 81h1v1h-1zM499 83h1v1h-1zM499 85h1v1h-1zM500 53h1v1h-1zM500 54h1v1h-1zM500 57h1v1h-1zM500 59h1v1h-1zM500 60h1v1h-1zM500 61h1v1h-1zM500 67h1v1h-1zM500 68h1v1h-1zM500 70h1v1h-1zM500 71h1v1h-1zM500 79h1v1h-1zM500 85h1v1h-1zM501 52h1v1h-1zM501 53h1v1h-1zM501 59h1v1h-1zM501 61h1v1h-1zM501 66h1v1h-1zM501 71h1v1h-1zM501 77h1v1h-1zM501 79h1v1h-1zM501 80h1v1h-1zM501 81h1v1h-1zM501 82h1v1h-1zM502 52h1v1h-1zM502 53h1v1h-1zM502 54h1v1h-1zM502 55h1v1h-1zM502 58h1v1h-1zM502 60h1v1h-1zM502 64h1v1h-1zM502 65h1v1h-1zM502 67h1v1h-1zM502 73h1v1h-1zM502 74h1v1h-1zM502 75h1v1h-1zM502 76h1v1h-1zM502 77h1v1h-1zM502 81h1v1h-1zM502 82h1v1h-1zM503 51h1v1h-1zM503 52h1v1h-1zM503 53h1v1h-1zM503 54h1v1h-1zM503 57h1v1h-1zM503 58h1v1h-1zM503 60h1v1h-1zM503 67h1v1h-1zM503 68h1v1h-1zM503 71h1v1h-1zM503 73h1v1h-1zM503 74h1v1h-1zM504 50h1v1h-1zM504 52h1v1h-1zM504 54h1v1h-1zM504 56h1v1h-1zM504 68h1v1h-1zM504 71h1v1h-1zM504 73h1v1h-1zM504 75h1v1h-1zM504 77h1v1h-1zM505 52h1v1h-1zM505 55h1v1h-1zM505 61h1v1h-1zM505 63h1v1h-1zM505 64h1v1h-1zM505 69h1v1h-1zM505 70h1v1h-1zM505 71h1v1h-1zM505 73h1v1h-1zM505 79h1v1h-1zM506 52h1v1h-1zM506 54h1v1h-1zM506 61h1v1h-1zM506 62h1v1h-1zM506 69h1v1h-1zM506 71h1v1h-1zM506 73h1v1h-1zM506 74h1v1h-1zM506 76h1v1h-1zM506 77h1v1h-1zM506 78h1v1h-1zM507 50h1v1h-1zM507 52h1v1h-1zM507 66h1v1h-1zM507 69h1v1h-1zM507 75h1v1h-1zM508 50h1v1h-1zM508 69h1v1h-1zM508 70h1v1h-1zM508 71h1v1h-1zM508 76h1v1h-1zM508 77h1v1h-1zM509 47h1v1h-1zM509 57h1v1h-1zM509 60h1v1h-1zM509 69h1v1h-1zM509 70h1v1h-1zM509 74h1v1h-1zM510 48h1v1h-1zM510 50h1v1h-1zM510 51h1v1h-1zM510 58h1v1h-1zM510 59h1v1h-1zM510 68h1v1h-1zM510 69h1v1h-1zM511 50h1v1h-1zM511 51h1v1h-1zM511 52h1v1h-1zM511 58h1v1h-1zM512 57h1v1h-1zM512 58h1v1h-1zM512 59h1v1h-1zM512 75h1v1h-1zM513 50h1v1h-1zM514 59h1v1h-1zM514 60h1v1h-1zM515 59h1v1h-1z" fill="#fbc9a4" filter="url(#tb)"/>
<path d="M532 66h1v1h-1zM534 65h1v1h-1zM534 66h1v1h-1zM534 67h1v1h-1zM535 64h1v1h-1zM535 65h1v1h-1zM535 66h1v1h-1zM535 67h1v1h-1zM535 71h1v1h-1zM535 72h1v1h-1zM535 73h1v1h-1zM535 74h1v1h-1zM536 51h1v1h-1zM536 53h1v1h-1zM536 54h1v1h-1zM536 66h1v1h-1zM536 71h1v1h-1zM536 72h1v1h-1zM536 75h1v1h-1zM537 50h1v1h-1zM537 51h1v1h-1zM537 53h1v1h-1zM537 70h1v1h-1zM537 71h1v1h-1zM538 51h1v1h-1zM538 54h1v1h-1zM538 71h1v1h-1zM538 72h1v1h-1zM538 74h1v1h-1zM538 75h1v1h-1zM538 76h1v1h-1zM538 77h1v1h-1zM539 50h1v1h-1zM539 52h1v1h-1zM539 67h1v1h-1zM539 75h1v1h-1zM539 76h1v1h-1zM540 46h1v1h-1zM540 48h1v1h-1zM540 52h1v1h-1zM540 64h1v1h-1zM540 66h1v1h-1zM540 67h1v1h-1zM540 68h1v1h-1zM540 71h1v1h-1zM540 74h1v1h-1zM540 75h1v1h-1zM540 76h1v1h-1zM540 77h1v1h-1zM540 78h1v1h-1zM540 79h1v1h-1zM541 44h1v1h-1zM541 45h1v1h-1zM541 48h1v1h-1zM541 49h1v1h-1zM541 50h1v1h-1zM541 52h1v1h-1zM541 61h1v1h-1zM541 67h1v1h-1zM541 69h1v1h-1zM541 72h1v1h-1zM541 73h1v1h-1zM541 74h1v1h-1zM541 75h1v1h-1zM541 76h1v1h-1zM541 77h1v1h-1zM542 45h1v1h-1zM542 48h1v1h-1zM542 51h1v1h-1zM542 65h1v1h-1zM542 68h1v1h-1zM542 69h1v1h-1zM542 70h1v1h-1zM542 73h1v1h-1zM542 74h1v1h-1zM542 76h1v1h-1zM543 63h1v1h-1zM543 69h1v1h-1zM543 71h1v1h-1zM543 74h1v1h-1zM543 75h1v1h-1zM543 76h1v1h-1zM543 77h1v1h-1zM543 78h1v1h-1zM544 45h1v1h-1zM544 46h1v1h-1zM544 47h1v1h-1zM544 49h1v1h-1zM544 72h1v1h-1zM544 76h1v1h-1zM545 51h1v1h-1zM545 54h1v1h-1zM545 64h1v1h-1zM545 70h1v1h-1zM545 72h1v1h-1zM545 75h1v1h-1zM546 50h1v1h-1zM546 54h1v1h-1zM546 64h1v1h-1zM546 70h1v1h-1zM546 71h1v1h-1zM546 73h1v1h-1zM546 78h1v1h-1zM546 82h1v1h-1zM547 46h1v1h-1zM547 50h1v1h-1zM547 51h1v1h-1zM547 53h1v1h-1zM547 55h1v1h-1zM547 68h1v1h-1zM547 69h1v1h-1zM547 73h1v1h-1zM547 74h1v1h-1zM547 75h1v1h-1zM547 76h1v1h-1zM547 79h1v1h-1zM548 49h1v1h-1zM548 51h1v1h-1zM548 52h1v1h-1zM548 54h1v1h-1zM548 70h1v1h-1zM548 72h1v1h-1zM548 73h1v1h-1zM548 76h1v1h-1zM548 79h1v1h-1zM549 49h1v1h-1zM549 50h1v1h-1zM549 52h1v1h-1zM549 53h1v1h-1zM549 54h1v1h-1zM549 55h1v1h-1zM549 71h1v1h-1zM549 73h1v1h-1zM549 75h1v1h-1zM549 76h1v1h-1zM549 77h1v1h-1zM549 79h1v1h-1zM550 48h1v1h-1zM550 51h1v1h-1zM550 54h1v1h-1zM550 55h1v1h-1zM550 71h1v1h-1zM550 73h1v1h-1zM550 74h1v1h-1zM550 75h1v1h-1zM550 78h1v1h-1zM550 79h1v1h-1zM550 81h1v1h-1zM550 82h1v1h-1zM551 47h1v1h-1zM551 52h1v1h-1zM551 53h1v1h-1zM551 55h1v1h-1zM551 74h1v1h-1zM551 76h1v1h-1zM551 77h1v1h-1zM551 78h1v1h-1zM551 79h1v1h-1zM551 80h1v1h-1zM551 81h1v1h-1zM551 82h1v1h-1zM552 41h1v1h-1zM552 48h1v1h-1zM552 50h1v1h-1zM552 54h1v1h-1zM552 71h1v1h-1zM552 73h1v1h-1zM552 77h1v1h-1zM552 79h1v1h-1zM552 80h1v1h-1zM552 81h1v1h-1zM552 83h1v1h-1zM553 41h1v1h-1zM553 42h1v1h-1zM553 43h1v1h-1zM553 49h1v1h-1zM553 51h1v1h-1zM553 54h1v1h-1zM553 73h1v1h-1zM553 79h1v1h-1zM553 80h1v1h-1zM553 83h1v1h-1zM553 84h1v1h-1zM554 41h1v1h-1zM554 46h1v1h-1zM554 50h1v1h-1zM554 51h1v1h-1zM554 52h1v1h-1zM554 53h1v1h-1zM554 70h1v1h-1zM554 78h1v1h-1zM554 79h1v1h-1zM554 80h1v1h-1zM554 82h1v1h-1zM554 83h1v1h-1zM554 84h1v1h-1zM554 85h1v1h-1zM555 42h1v1h-1zM555 49h1v1h-1zM555 51h1v1h-1zM555 64h1v1h-1zM555 68h1v1h-1zM555 69h1v1h-1zM555 70h1v1h-1zM555 79h1v1h-1zM555 80h1v1h-1zM555 81h1v1h-1zM556 41h1v1h-1zM556 42h1v1h-1zM556 44h1v1h-1zM556 46h1v1h-1zM556 47h1v1h-1zM556 50h1v1h-1zM556 51h1v1h-1zM556 52h1v1h-1zM556 67h1v1h-1zM556 69h1v1h-1zM556 70h1v1h-1zM556 71h1v1h-1zM556 79h1v1h-1zM556 80h1v1h-1zM556 81h1v1h-1zM557 41h1v1h-1zM557 43h1v1h-1zM557 44h1v1h-1zM557 46h1v1h-1zM557 47h1v1h-1zM557 50h1v1h-1zM557 62h1v1h-1zM557 63h1v1h-1zM557 67h1v1h-1zM557 70h1v1h-1zM557 80h1v1h-1zM557 81h1v1h-1zM558 43h1v1h-1zM558 46h1v1h-1zM558 48h1v1h-1zM558 49h1v1h-1zM558 51h1v1h-1zM558 62h1v1h-1zM558 63h1v1h-1zM558 68h1v1h-1zM558 69h1v1h-1zM558 70h1v1h-1zM558 79h1v1h-1zM558 80h1v1h-1zM559 42h1v1h-1zM559 43h1v1h-1zM559 44h1v1h-1zM559 45h1v1h-1zM559 46h1v1h-1zM559 49h1v1h-1zM559 50h1v1h-1zM559 51h1v1h-1zM559 52h1v1h-1zM559 63h1v1h-1zM559 68h1v1h-1zM559 69h1v1h-1zM559 76h1v1h-1zM559 77h1v1h-1zM559 79h1v1h-1zM559 83h1v1h-1zM559 85h1v1h-1zM560 42h1v1h-1zM560 43h1v1h-1zM560 49h1v1h-1zM560 50h1v1h-1zM560 52h1v1h-1zM560 63h1v1h-1zM560 64h1v1h-1zM560 69h1v1h-1zM560 74h1v1h-1zM560 76h1v1h-1zM560 78h1v1h-1zM560 79h1v1h-1zM560 82h1v1h-1zM560 84h1v1h-1zM560 85h1v1h-1zM561 43h1v1h-1zM561 44h1v1h-1zM561 45h1v1h-1zM561 48h1v1h-1zM561 49h1v1h-1zM561 50h1v1h-1zM561 52h1v1h-1zM561 53h1v1h-1zM561 64h1v1h-1zM561 66h1v1h-1zM561 67h1v1h-1zM561 68h1v1h-1zM561 69h1v1h-1zM561 70h1v1h-1zM561 72h1v1h-1zM561 75h1v1h-1zM561 77h1v1h-1zM561 80h1v1h-1zM561 82h1v1h-1zM562 42h1v1h-1zM562 44h1v1h-1zM562 46h1v1h-1zM562 47h1v1h-1zM562 48h1v1h-1zM562 49h1v1h-1zM562 66h1v1h-1zM562 69h1v1h-1zM562 70h1v1h-1zM562 72h1v1h-1zM562 74h1v1h-1zM563 45h1v1h-1zM563 46h1v1h-1zM563 47h1v1h-1zM563 48h1v1h-1zM563 49h1v1h-1zM563 51h1v1h-1zM563 67h1v1h-1zM563 68h1v1h-1zM563 70h1v1h-1zM563 72h1v1h-1zM563 74h1v1h-1zM563 79h1v1h-1zM563 80h1v1h-1zM563 81h1v1h-1zM564 44h1v1h-1zM564 45h1v1h-1zM564 46h1v1h-1zM564 47h1v1h-1zM564 48h1v1h-1zM564 50h1v1h-1zM564 68h1v1h-1zM564 79h1v1h-1zM564 80h1v1h-1zM564 83h1v1h-1zM565 45h1v1h-1zM565 47h1v1h-1zM565 49h1v1h-1zM565 72h1v1h-1zM566 46h1v1h-1zM566 49h1v1h-1zM566 71h1v1h-1zM567 42h1v1h-1zM567 44h1v1h-1zM567 46h1v1h-1zM567 50h1v1h-1zM567 51h1v1h-1zM568 35h1v1h-1zM568 42h1v1h-1zM568 43h1v1h-1zM568 44h1v1h-1zM568 45h1v1h-1zM568 46h1v1h-1zM568 48h1v1h-1zM568 49h1v1h-1zM568 50h1v1h-1zM568 51h1v1h-1zM569 37h1v1h-1zM569 38h1v1h-1zM569 43h1v1h-1zM569 44h1v1h-1zM569 46h1v1h-1zM569 50h1v1h-1zM569 51h1v1h-1zM570 36h1v1h-1zM570 38h1v1h-1zM570 39h1v1h-1zM570 41h1v1h-1zM570 42h1v1h-1zM570 44h1v1h-1zM570 47h1v1h-1zM570 51h1v1h-1zM571 47h1v1h-1zM572 35h1v1h-1zM572 43h1v1h-1zM572 46h1v1h-1zM572 48h1v1h-1zM572 49h1v1h-1zM573 44h1v1h-1zM573 45h1v1h-1zM573 46h1v1h-1zM573 48h1v1h-1zM573 49h1v1h-1zM576 60h1v1h-1zM578 57h1v1h-1zM578 60h1v1h-1zM578 62h1v1h-1zM579 60h1v1h-1zM579 61h1v1h-1zM579 62h1v1h-1zM580 55h1v1h-1zM580 61h1v1h-1zM580 62h1v1h-1zM580 65h1v1h-1zM581 56h1v1h-1zM581 61h1v1h-1zM581 62h1v1h-1zM581 64h1v1h-1zM582 56h1v1h-1zM582 57h1v1h-1zM582 61h1v1h-1zM582 62h1v1h-1zM583 58h1v1h-1zM583 59h1v1h-1zM583 60h1v1h-1zM583 61h1v1h-1zM584 61h1v1h-1zM584 64h1v1h-1zM584 65h1v1h-1zM584 66h1v1h-1zM585 64h1v1h-1zM586 58h1v1h-1zM586 65h1v1h-1zM587 59h1v1h-1zM588 59h1v1h-1z" fill="#a8ec92" filter="url(#tb)"/>
<path d="M534 56h1v1h-1zM535 57h1v1h-1zM536 55h1v1h-1zM536 57h1v1h-1zM537 55h1v1h-1zM537 56h1v1h-1zM537 57h1v1h-1zM543 44h1v1h-1zM544 47h1v1h-1zM544 60h1v1h-1zM544 69h1v1h-1zM545 45h1v1h-1zM545 46h1v1h-1zM545 47h1v1h-1zM545 49h1v1h-1zM545 54h1v1h-1zM545 68h1v1h-1zM546 45h1v1h-1zM546 46h1v1h-1zM546 47h1v1h-1zM546 50h1v1h-1zM546 54h1v1h-1zM546 61h1v1h-1zM546 65h1v1h-1zM546 69h1v1h-1zM547 51h1v1h-1zM547 56h1v1h-1zM547 58h1v1h-1zM547 59h1v1h-1zM547 60h1v1h-1zM547 65h1v1h-1zM547 66h1v1h-1zM547 67h1v1h-1zM547 68h1v1h-1zM547 69h1v1h-1zM547 70h1v1h-1zM548 42h1v1h-1zM548 43h1v1h-1zM548 44h1v1h-1zM548 48h1v1h-1zM548 49h1v1h-1zM548 55h1v1h-1zM548 57h1v1h-1zM548 66h1v1h-1zM548 67h1v1h-1zM548 68h1v1h-1zM548 69h1v1h-1zM549 45h1v1h-1zM549 56h1v1h-1zM549 57h1v1h-1zM549 58h1v1h-1zM549 60h1v1h-1zM549 61h1v1h-1zM549 64h1v1h-1zM549 65h1v1h-1zM550 45h1v1h-1zM550 46h1v1h-1zM550 56h1v1h-1zM550 57h1v1h-1zM550 58h1v1h-1zM550 59h1v1h-1zM550 62h1v1h-1zM550 63h1v1h-1zM551 44h1v1h-1zM551 56h1v1h-1zM551 57h1v1h-1zM551 58h1v1h-1zM551 59h1v1h-1zM551 60h1v1h-1zM551 61h1v1h-1zM551 62h1v1h-1zM551 63h1v1h-1zM551 65h1v1h-1zM552 43h1v1h-1zM552 45h1v1h-1zM552 58h1v1h-1zM552 59h1v1h-1zM552 60h1v1h-1zM552 61h1v1h-1zM552 62h1v1h-1zM552 64h1v1h-1zM552 67h1v1h-1zM552 68h1v1h-1zM552 75h1v1h-1zM553 35h1v1h-1zM553 36h1v1h-1zM553 41h1v1h-1zM553 59h1v1h-1zM553 60h1v1h-1zM553 63h1v1h-1zM553 67h1v1h-1zM553 69h1v1h-1zM554 38h1v1h-1zM554 39h1v1h-1zM554 44h1v1h-1zM554 59h1v1h-1zM554 60h1v1h-1zM554 62h1v1h-1zM554 63h1v1h-1zM554 67h1v1h-1zM554 73h1v1h-1zM555 36h1v1h-1zM555 37h1v1h-1zM555 38h1v1h-1zM555 42h1v1h-1zM555 57h1v1h-1zM555 60h1v1h-1zM555 61h1v1h-1zM555 66h1v1h-1zM555 68h1v1h-1zM555 72h1v1h-1zM556 36h1v1h-1zM556 37h1v1h-1zM556 41h1v1h-1zM556 61h1v1h-1zM556 67h1v1h-1zM556 71h1v1h-1zM556 72h1v1h-1zM556 74h1v1h-1zM557 59h1v1h-1zM557 61h1v1h-1zM557 63h1v1h-1zM557 71h1v1h-1zM557 72h1v1h-1zM557 73h1v1h-1zM558 57h1v1h-1zM558 61h1v1h-1zM558 68h1v1h-1zM559 55h1v1h-1zM559 57h1v1h-1zM559 58h1v1h-1zM559 60h1v1h-1zM559 63h1v1h-1zM560 36h1v1h-1zM560 56h1v1h-1zM560 59h1v1h-1zM560 60h1v1h-1zM560 61h1v1h-1zM560 62h1v1h-1zM560 63h1v1h-1zM560 66h1v1h-1zM561 40h1v1h-1zM561 41h1v1h-1zM561 61h1v1h-1zM561 62h1v1h-1zM561 63h1v1h-1zM561 66h1v1h-1zM562 38h1v1h-1zM562 40h1v1h-1zM562 54h1v1h-1zM562 62h1v1h-1zM562 64h1v1h-1zM562 83h1v1h-1zM562 84h1v1h-1zM563 52h1v1h-1zM563 55h1v1h-1zM563 62h1v1h-1zM563 63h1v1h-1zM563 64h1v1h-1zM563 83h1v1h-1zM564 56h1v1h-1zM564 57h1v1h-1zM564 63h1v1h-1zM564 79h1v1h-1zM564 81h1v1h-1zM564 86h1v1h-1zM565 54h1v1h-1zM565 56h1v1h-1zM565 57h1v1h-1zM565 58h1v1h-1zM565 65h1v1h-1zM565 80h1v1h-1zM565 82h1v1h-1zM565 83h1v1h-1zM565 85h1v1h-1zM566 57h1v1h-1zM566 61h1v1h-1zM566 62h1v1h-1zM566 65h1v1h-1zM566 75h1v1h-1zM566 77h1v1h-1zM566 81h1v1h-1zM566 82h1v1h-1zM566 84h1v1h-1zM567 59h1v1h-1zM567 60h1v1h-1zM567 63h1v1h-1zM567 76h1v1h-1zM567 80h1v1h-1zM568 60h1v1h-1zM568 62h1v1h-1zM568 63h1v1h-1zM568 74h1v1h-1zM568 75h1v1h-1zM568 76h1v1h-1zM568 77h1v1h-1zM568 78h1v1h-1zM568 81h1v1h-1zM569 57h1v1h-1zM569 61h1v1h-1zM569 63h1v1h-1zM569 74h1v1h-1zM569 77h1v1h-1zM569 78h1v1h-1zM570 56h1v1h-1zM570 57h1v1h-1zM570 58h1v1h-1zM570 73h1v1h-1zM570 75h1v1h-1zM570 77h1v1h-1zM570 78h1v1h-1zM571 38h1v1h-1zM571 72h1v1h-1zM571 78h1v1h-1zM572 41h1v1h-1zM573 39h1v1h-1zM573 40h1v1h-1zM573 79h1v1h-1zM574 37h1v1h-1zM574 38h1v1h-1zM574 40h1v1h-1zM574 41h1v1h-1zM574 42h1v1h-1zM574 43h1v1h-1zM575 37h1v1h-1zM575 38h1v1h-1zM575 39h1v1h-1zM575 46h1v1h-1zM575 47h1v1h-1zM576 37h1v1h-1zM576 38h1v1h-1zM576 39h1v1h-1zM576 40h1v1h-1zM576 42h1v1h-1zM576 45h1v1h-1zM576 47h1v1h-1zM577 37h1v1h-1zM577 38h1v1h-1zM577 39h1v1h-1zM577 42h1v1h-1zM577 44h1v1h-1zM577 46h1v1h-1zM578 37h1v1h-1zM578 38h1v1h-1zM578 39h1v1h-1zM578 41h1v1h-1zM578 42h1v1h-1zM578 43h1v1h-1zM578 45h1v1h-1zM578 46h1v1h-1zM580 40h1v1h-1zM580 41h1v1h-1zM581 40h1v1h-1zM581 41h1v1h-1zM582 39h1v1h-1zM584 63h1v1h-1zM585 63h1v1h-1zM585 64h1v1h-1zM586 61h1v1h-1zM586 64h1v1h-1zM589 59h1v1h-1zM589 63h1v1h-1zM590 59h1v1h-1zM590 61h1v1h-1zM590 62h1v1h-1zM590 67h1v1h-1zM591 58h1v1h-1zM591 66h1v1h-1zM591 67h1v1h-1zM591 68h1v1h-1zM592 61h1v1h-1zM592 67h1v1h-1zM593 68h1v1h-1z" fill="#2ab7ef" filter="url(#tb)"/>
<path d="M537 59h1v1h-1zM537 60h1v1h-1zM537 62h1v1h-1zM538 58h1v1h-1zM538 59h1v1h-1zM538 60h1v1h-1zM539 57h1v1h-1zM539 58h1v1h-1zM539 59h1v1h-1zM539 60h1v1h-1zM539 61h1v1h-1zM539 62h1v1h-1zM540 58h1v1h-1zM540 59h1v1h-1zM540 60h1v1h-1zM540 61h1v1h-1zM540 62h1v1h-1zM540 64h1v1h-1zM541 54h1v1h-1zM541 57h1v1h-1zM541 59h1v1h-1zM541 61h1v1h-1zM541 62h1v1h-1zM542 55h1v1h-1zM542 56h1v1h-1zM542 59h1v1h-1zM542 64h1v1h-1zM542 65h1v1h-1zM543 55h1v1h-1zM543 56h1v1h-1zM543 57h1v1h-1zM543 60h1v1h-1zM543 61h1v1h-1zM544 54h1v1h-1zM544 59h1v1h-1zM545 52h1v1h-1zM545 55h1v1h-1zM545 56h1v1h-1zM545 57h1v1h-1zM545 59h1v1h-1zM546 54h1v1h-1zM546 55h1v1h-1zM546 56h1v1h-1zM546 57h1v1h-1zM546 58h1v1h-1zM546 60h1v1h-1zM547 56h1v1h-1zM547 59h1v1h-1zM552 43h1v1h-1zM553 40h1v1h-1zM553 43h1v1h-1zM554 42h1v1h-1zM556 42h1v1h-1zM560 77h1v1h-1zM560 78h1v1h-1zM561 77h1v1h-1zM562 71h1v1h-1zM562 79h1v1h-1zM563 72h1v1h-1zM563 73h1v1h-1zM564 71h1v1h-1zM564 74h1v1h-1zM564 77h1v1h-1zM565 36h1v1h-1zM565 71h1v1h-1zM565 74h1v1h-1zM565 76h1v1h-1zM566 33h1v1h-1zM566 35h1v1h-1zM566 36h1v1h-1zM566 37h1v1h-1zM566 38h1v1h-1zM566 39h1v1h-1zM566 70h1v1h-1zM566 72h1v1h-1zM566 73h1v1h-1zM567 33h1v1h-1zM567 34h1v1h-1zM567 35h1v1h-1zM567 37h1v1h-1zM567 38h1v1h-1zM567 39h1v1h-1zM567 64h1v1h-1zM567 72h1v1h-1zM567 73h1v1h-1zM567 75h1v1h-1zM567 76h1v1h-1zM568 34h1v1h-1zM568 36h1v1h-1zM568 38h1v1h-1zM568 39h1v1h-1zM568 63h1v1h-1zM568 66h1v1h-1zM568 76h1v1h-1zM569 65h1v1h-1zM569 71h1v1h-1zM569 72h1v1h-1zM569 73h1v1h-1zM569 74h1v1h-1zM569 75h1v1h-1zM570 62h1v1h-1zM570 63h1v1h-1zM570 65h1v1h-1zM570 71h1v1h-1zM571 67h1v1h-1zM571 69h1v1h-1zM571 71h1v1h-1zM571 73h1v1h-1zM572 53h1v1h-1zM572 54h1v1h-1zM572 63h1v1h-1zM572 72h1v1h-1zM572 73h1v1h-1zM572 78h1v1h-1zM573 53h1v1h-1zM573 54h1v1h-1zM573 64h1v1h-1zM573 69h1v1h-1zM573 70h1v1h-1zM573 71h1v1h-1zM573 72h1v1h-1zM573 73h1v1h-1zM573 76h1v1h-1zM573 81h1v1h-1zM574 52h1v1h-1zM574 68h1v1h-1zM574 70h1v1h-1zM574 72h1v1h-1zM574 74h1v1h-1zM574 77h1v1h-1zM574 78h1v1h-1zM574 80h1v1h-1zM575 49h1v1h-1zM575 50h1v1h-1zM575 51h1v1h-1zM575 54h1v1h-1zM575 56h1v1h-1zM575 67h1v1h-1zM575 71h1v1h-1zM575 74h1v1h-1zM575 78h1v1h-1zM575 79h1v1h-1zM575 80h1v1h-1zM575 81h1v1h-1zM576 43h1v1h-1zM576 47h1v1h-1zM576 49h1v1h-1zM576 53h1v1h-1zM576 54h1v1h-1zM576 55h1v1h-1zM576 58h1v1h-1zM576 68h1v1h-1zM576 70h1v1h-1zM576 71h1v1h-1zM576 74h1v1h-1zM576 77h1v1h-1zM576 79h1v1h-1zM576 80h1v1h-1zM576 81h1v1h-1zM576 84h1v1h-1zM576 87h1v1h-1zM577 48h1v1h-1zM577 53h1v1h-1zM577 54h1v1h-1zM577 56h1v1h-1zM577 58h1v1h-1zM577 66h1v1h-1zM577 67h1v1h-1zM577 68h1v1h-1zM577 69h1v1h-1zM577 75h1v1h-1zM577 79h1v1h-1zM577 80h1v1h-1zM577 82h1v1h-1zM578 45h1v1h-1zM578 46h1v1h-1zM578 47h1v1h-1zM578 48h1v1h-1zM578 50h1v1h-1zM578 51h1v1h-1zM578 52h1v1h-1zM578 57h1v1h-1zM578 59h1v1h-1zM578 60h1v1h-1zM578 66h1v1h-1zM578 67h1v1h-1zM578 68h1v1h-1zM578 69h1v1h-1zM578 70h1v1h-1zM578 71h1v1h-1zM578 80h1v1h-1zM578 81h1v1h-1zM578 82h1v1h-1zM578 83h1v1h-1zM578 84h1v1h-1zM579 43h1v1h-1zM579 45h1v1h-1zM579 46h1v1h-1zM579 47h1v1h-1zM579 48h1v1h-1zM579 49h1v1h-1zM579 50h1v1h-1zM579 51h1v1h-1zM579 59h1v1h-1zM579 67h1v1h-1zM579 71h1v1h-1zM579 73h1v1h-1zM579 75h1v1h-1zM579 80h1v1h-1zM579 82h1v1h-1zM579 83h1v1h-1zM579 84h1v1h-1zM580 45h1v1h-1zM580 46h1v1h-1zM580 48h1v1h-1zM580 49h1v1h-1zM580 50h1v1h-1zM580 53h1v1h-1zM580 66h1v1h-1zM580 68h1v1h-1zM580 71h1v1h-1zM580 83h1v1h-1zM580 87h1v1h-1zM581 45h1v1h-1zM581 46h1v1h-1zM581 47h1v1h-1zM581 48h1v1h-1zM581 51h1v1h-1zM581 52h1v1h-1zM581 65h1v1h-1zM581 67h1v1h-1zM581 69h1v1h-1zM581 70h1v1h-1zM581 71h1v1h-1zM581 73h1v1h-1zM581 82h1v1h-1zM581 84h1v1h-1zM581 86h1v1h-1zM581 87h1v1h-1zM582 45h1v1h-1zM582 46h1v1h-1zM582 47h1v1h-1zM582 48h1v1h-1zM582 53h1v1h-1zM582 65h1v1h-1zM582 67h1v1h-1zM582 68h1v1h-1zM582 71h1v1h-1zM582 73h1v1h-1zM582 74h1v1h-1zM582 84h1v1h-1zM582 85h1v1h-1zM583 45h1v1h-1zM583 46h1v1h-1zM583 47h1v1h-1zM583 55h1v1h-1zM583 68h1v1h-1zM583 69h1v1h-1zM583 70h1v1h-1zM583 71h1v1h-1zM583 72h1v1h-1zM583 80h1v1h-1zM583 81h1v1h-1zM584 49h1v1h-1zM584 68h1v1h-1zM584 71h1v1h-1zM584 83h1v1h-1zM584 84h1v1h-1zM585 77h1v1h-1zM585 80h1v1h-1zM586 46h1v1h-1zM586 49h1v1h-1zM586 77h1v1h-1zM586 81h1v1h-1zM586 84h1v1h-1zM587 47h1v1h-1zM587 68h1v1h-1zM587 69h1v1h-1zM587 75h1v1h-1zM587 79h1v1h-1zM587 81h1v1h-1zM588 47h1v1h-1zM588 49h1v1h-1zM588 52h1v1h-1zM588 70h1v1h-1zM588 71h1v1h-1zM588 76h1v1h-1zM588 78h1v1h-1zM588 82h1v1h-1zM589 49h1v1h-1zM589 54h1v1h-1zM589 57h1v1h-1zM589 68h1v1h-1zM589 70h1v1h-1zM589 74h1v1h-1zM589 75h1v1h-1zM590 51h1v1h-1zM590 53h1v1h-1zM590 57h1v1h-1zM590 69h1v1h-1zM590 70h1v1h-1zM590 72h1v1h-1zM590 73h1v1h-1zM591 57h1v1h-1zM591 70h1v1h-1zM591 71h1v1h-1zM591 72h1v1h-1zM591 73h1v1h-1zM591 74h1v1h-1zM592 52h1v1h-1zM592 53h1v1h-1zM592 55h1v1h-1zM592 68h1v1h-1zM592 69h1v1h-1zM592 72h1v1h-1zM592 74h1v1h-1zM594 67h1v1h-1z" fill="#fbc9a4" filter="url(#tb)"/>
<path d="M540 84h1v1h-1zM541 84h1v1h-1zM542 84h1v1h-1zM543 83h1v1h-1zM544 81h1v1h-1zM544 83h1v1h-1zM544 84h1v1h-1zM544 85h1v1h-1zM545 83h1v1h-1zM545 85h1v1h-1zM545 86h1v1h-1zM546 83h1v1h-1zM546 84h1v1h-1zM546 85h1v1h-1zM546 88h1v1h-1zM547 81h1v1h-1zM547 86h1v1h-1zM547 90h1v1h-1zM548 85h1v1h-1zM548 88h1v1h-1zM549 83h1v1h-1zM549 85h1v1h-1zM549 86h1v1h-1zM549 90h1v1h-1zM550 82h1v1h-1zM550 84h1v1h-1zM550 85h1v1h-1zM550 88h1v1h-1zM550 90h1v1h-1zM551 81h1v1h-1zM551 83h1v1h-1zM551 84h1v1h-1zM551 85h1v1h-1zM551 86h1v1h-1zM551 87h1v1h-1zM551 89h1v1h-1zM551 90h1v1h-1zM551 91h1v1h-1zM552 85h1v1h-1zM552 88h1v1h-1zM552 90h1v1h-1zM552 91h1v1h-1zM553 87h1v1h-1zM553 89h1v1h-1zM554 85h1v1h-1zM555 86h1v1h-1zM555 91h1v1h-1zM555 92h1v1h-1zM556 90h1v1h-1zM556 91h1v1h-1zM559 89h1v1h-1zM560 90h1v1h-1zM561 86h1v1h-1zM561 89h1v1h-1zM561 90h1v1h-1zM562 91h1v1h-1zM563 83h1v1h-1zM563 84h1v1h-1zM563 85h1v1h-1zM563 86h1v1h-1zM563 91h1v1h-1zM564 84h1v1h-1zM564 85h1v1h-1zM564 90h1v1h-1zM564 93h1v1h-1zM565 83h1v1h-1zM565 84h1v1h-1zM565 87h1v1h-1zM565 88h1v1h-1zM565 91h1v1h-1zM565 92h1v1h-1zM565 94h1v1h-1zM566 84h1v1h-1zM566 85h1v1h-1zM566 86h1v1h-1zM566 88h1v1h-1zM566 90h1v1h-1zM566 91h1v1h-1zM566 93h1v1h-1zM566 94h1v1h-1zM567 85h1v1h-1zM567 86h1v1h-1zM567 91h1v1h-1zM568 85h1v1h-1zM568 87h1v1h-1zM568 88h1v1h-1zM568 90h1v1h-1zM569 83h1v1h-1zM569 84h1v1h-1zM569 87h1v1h-1zM569 89h1v1h-1zM569 90h1v1h-1zM569 92h1v1h-1zM570 81h1v1h-1zM570 83h1v1h-1zM570 84h1v1h-1zM570 85h1v1h-1zM570 87h1v1h-1zM570 88h1v1h-1zM571 84h1v1h-1zM571 85h1v1h-1zM571 86h1v1h-1zM571 87h1v1h-1zM571 89h1v1h-1zM572 83h1v1h-1zM572 84h1v1h-1zM572 87h1v1h-1zM572 88h1v1h-1zM573 83h1v1h-1zM573 84h1v1h-1zM573 85h1v1h-1zM573 87h1v1h-1zM574 84h1v1h-1zM574 86h1v1h-1zM574 89h1v1h-1zM574 90h1v1h-1zM574 91h1v1h-1zM575 84h1v1h-1zM575 85h1v1h-1zM575 87h1v1h-1zM575 88h1v1h-1zM575 89h1v1h-1zM575 91h1v1h-1zM576 86h1v1h-1zM576 88h1v1h-1zM576 89h1v1h-1zM576 90h1v1h-1zM576 92h1v1h-1zM577 84h1v1h-1zM577 89h1v1h-1zM578 86h1v1h-1z" fill="#f47d7d" filter="url(#tb)"/>
<path d="M621 69h1v1h-1zM622 69h1v1h-1zM623 69h1v1h-1zM623 72h1v1h-1zM624 51h1v1h-1zM624 76h1v1h-1zM625 47h1v1h-1zM625 73h1v1h-1zM625 77h1v1h-1zM625 80h1v1h-1zM626 48h1v1h-1zM626 51h1v1h-1zM626 53h1v1h-1zM626 77h1v1h-1zM626 79h1v1h-1zM626 80h1v1h-1zM627 47h1v1h-1zM627 51h1v1h-1zM627 53h1v1h-1zM627 57h1v1h-1zM627 61h1v1h-1zM627 77h1v1h-1zM627 78h1v1h-1zM627 80h1v1h-1zM627 82h1v1h-1zM628 49h1v1h-1zM628 52h1v1h-1zM628 53h1v1h-1zM628 56h1v1h-1zM628 74h1v1h-1zM628 79h1v1h-1zM628 80h1v1h-1zM629 47h1v1h-1zM629 50h1v1h-1zM629 52h1v1h-1zM629 57h1v1h-1zM629 58h1v1h-1zM629 80h1v1h-1zM629 81h1v1h-1zM630 46h1v1h-1zM630 50h1v1h-1zM630 74h1v1h-1zM630 75h1v1h-1zM630 78h1v1h-1zM631 48h1v1h-1zM631 49h1v1h-1zM631 51h1v1h-1zM631 52h1v1h-1zM631 59h1v1h-1zM631 68h1v1h-1zM632 70h1v1h-1zM632 76h1v1h-1zM632 77h1v1h-1zM633 53h1v1h-1zM633 54h1v1h-1zM633 65h1v1h-1zM633 79h1v1h-1zM634 64h1v1h-1zM634 65h1v1h-1zM634 69h1v1h-1zM634 71h1v1h-1zM635 65h1v1h-1zM635 66h1v1h-1zM635 68h1v1h-1zM635 69h1v1h-1zM635 71h1v1h-1zM636 65h1v1h-1zM636 66h1v1h-1zM636 67h1v1h-1zM636 70h1v1h-1zM636 72h1v1h-1zM637 67h1v1h-1zM638 64h1v1h-1zM638 65h1v1h-1zM639 67h1v1h-1zM640 60h1v1h-1zM640 63h1v1h-1zM640 69h1v1h-1zM641 62h1v1h-1zM641 65h1v1h-1zM642 43h1v1h-1zM642 61h1v1h-1zM642 63h1v1h-1zM642 64h1v1h-1zM643 40h1v1h-1zM643 41h1v1h-1zM643 63h1v1h-1zM643 65h1v1h-1zM644 35h1v1h-1zM644 38h1v1h-1zM644 40h1v1h-1zM644 41h1v1h-1zM644 46h1v1h-1zM644 49h1v1h-1zM644 61h1v1h-1zM644 64h1v1h-1zM644 65h1v1h-1zM644 67h1v1h-1zM644 70h1v1h-1zM644 71h1v1h-1zM644 72h1v1h-1zM645 39h1v1h-1zM645 43h1v1h-1zM645 47h1v1h-1zM645 62h1v1h-1zM645 64h1v1h-1zM645 69h1v1h-1zM645 71h1v1h-1zM645 72h1v1h-1zM645 73h1v1h-1zM646 38h1v1h-1zM646 41h1v1h-1zM646 42h1v1h-1zM646 45h1v1h-1zM646 50h1v1h-1zM646 66h1v1h-1zM646 69h1v1h-1zM646 70h1v1h-1zM646 71h1v1h-1zM647 37h1v1h-1zM647 38h1v1h-1zM647 42h1v1h-1zM647 43h1v1h-1zM647 46h1v1h-1zM647 47h1v1h-1zM647 64h1v1h-1zM647 66h1v1h-1zM647 67h1v1h-1zM647 68h1v1h-1zM647 69h1v1h-1zM647 74h1v1h-1zM648 36h1v1h-1zM648 38h1v1h-1zM648 41h1v1h-1zM648 45h1v1h-1zM648 46h1v1h-1zM648 47h1v1h-1zM648 49h1v1h-1zM648 51h1v1h-1zM648 63h1v1h-1zM648 66h1v1h-1zM648 70h1v1h-1zM648 72h1v1h-1zM648 76h1v1h-1zM649 35h1v1h-1zM649 37h1v1h-1zM649 40h1v1h-1zM649 45h1v1h-1zM649 47h1v1h-1zM649 49h1v1h-1zM649 50h1v1h-1zM649 58h1v1h-1zM649 62h1v1h-1zM649 64h1v1h-1zM649 65h1v1h-1zM649 66h1v1h-1zM649 72h1v1h-1zM649 74h1v1h-1zM649 75h1v1h-1zM650 41h1v1h-1zM650 46h1v1h-1zM650 48h1v1h-1zM650 49h1v1h-1zM650 53h1v1h-1zM650 57h1v1h-1zM650 64h1v1h-1zM650 65h1v1h-1zM650 67h1v1h-1zM650 68h1v1h-1zM650 72h1v1h-1zM650 73h1v1h-1zM651 40h1v1h-1zM651 41h1v1h-1zM651 44h1v1h-1zM651 46h1v1h-1zM651 64h1v1h-1zM651 65h1v1h-1zM651 70h1v1h-1zM651 71h1v1h-1zM652 36h1v1h-1zM652 41h1v1h-1zM652 42h1v1h-1zM652 44h1v1h-1zM652 46h1v1h-1zM652 49h1v1h-1zM652 53h1v1h-1zM652 54h1v1h-1zM652 55h1v1h-1zM652 57h1v1h-1zM652 71h1v1h-1zM653 40h1v1h-1zM653 41h1v1h-1zM653 42h1v1h-1zM653 44h1v1h-1zM653 45h1v1h-1zM653 46h1v1h-1zM653 49h1v1h-1zM653 50h1v1h-1zM653 52h1v1h-1zM653 54h1v1h-1zM653 59h1v1h-1zM653 70h1v1h-1zM653 71h1v1h-1zM654 40h1v1h-1zM654 41h1v1h-1zM654 42h1v1h-1zM654 48h1v1h-1zM654 49h1v1h-1zM654 51h1v1h-1zM654 52h1v1h-1zM654 53h1v1h-1zM654 70h1v1h-1zM655 40h1v1h-1zM655 54h1v1h-1zM655 68h1v1h-1zM655 73h1v1h-1zM656 44h1v1h-1zM656 49h1v1h-1zM656 50h1v1h-1zM656 73h1v1h-1zM657 49h1v1h-1zM657 54h1v1h-1zM657 63h1v1h-1zM657 64h1v1h-1zM657 65h1v1h-1zM657 66h1v1h-1zM657 70h1v1h-1zM657 71h1v1h-1zM658 50h1v1h-1zM658 51h1v1h-1zM658 53h1v1h-1zM658 55h1v1h-1zM658 65h1v1h-1zM658 67h1v1h-1zM658 69h1v1h-1zM658 70h1v1h-1zM658 71h1v1h-1zM658 73h1v1h-1zM658 74h1v1h-1zM659 52h1v1h-1zM659 54h1v1h-1zM659 60h1v1h-1zM659 61h1v1h-1zM659 62h1v1h-1zM659 63h1v1h-1zM659 69h1v1h-1zM659 71h1v1h-1zM659 72h1v1h-1zM659 73h1v1h-1zM660 60h1v1h-1zM660 61h1v1h-1zM660 62h1v1h-1zM660 63h1v1h-1zM660 67h1v1h-1zM660 69h1v1h-1zM660 71h1v1h-1zM660 72h1v1h-1zM660 73h1v1h-1zM661 50h1v1h-1zM661 52h1v1h-1zM661 54h1v1h-1zM661 60h1v1h-1zM661 65h1v1h-1zM661 66h1v1h-1zM661 70h1v1h-1zM661 73h1v1h-1zM662 50h1v1h-1zM662 52h1v1h-1zM662 53h1v1h-1zM662 56h1v1h-1zM662 70h1v1h-1zM663 50h1v1h-1zM663 51h1v1h-1zM663 53h1v1h-1zM663 54h1v1h-1zM663 57h1v1h-1zM663 58h1v1h-1zM663 61h1v1h-1zM663 62h1v1h-1zM663 69h1v1h-1zM663 71h1v1h-1zM663 74h1v1h-1zM664 49h1v1h-1zM664 50h1v1h-1zM664 51h1v1h-1zM664 52h1v1h-1zM664 56h1v1h-1zM664 57h1v1h-1zM664 60h1v1h-1zM664 62h1v1h-1zM664 66h1v1h-1zM665 50h1v1h-1zM665 56h1v1h-1zM665 60h1v1h-1zM665 61h1v1h-1zM665 63h1v1h-1zM665 64h1v1h-1zM665 65h1v1h-1zM665 66h1v1h-1zM665 67h1v1h-1zM665 69h1v1h-1zM665 70h1v1h-1zM665 71h1v1h-1zM666 50h1v1h-1zM666 51h1v1h-1zM666 52h1v1h-1zM666 57h1v1h-1zM666 58h1v1h-1zM666 60h1v1h-1zM666 61h1v1h-1zM666 63h1v1h-1zM666 64h1v1h-1zM666 65h1v1h-1zM666 67h1v1h-1zM666 68h1v1h-1zM666 69h1v1h-1zM666 70h1v1h-1zM667 52h1v1h-1zM667 53h1v1h-1zM667 57h1v1h-1zM667 58h1v1h-1zM667 59h1v1h-1zM667 60h1v1h-1zM667 61h1v1h-1zM667 63h1v1h-1zM667 64h1v1h-1zM667 68h1v1h-1zM667 69h1v1h-1zM667 70h1v1h-1zM667 71h1v1h-1zM667 80h1v1h-1zM668 58h1v1h-1zM668 60h1v1h-1zM668 61h1v1h-1zM668 62h1v1h-1zM668 67h1v1h-1zM668 68h1v1h-1zM668 69h1v1h-1zM668 70h1v1h-1zM668 72h1v1h-1zM668 73h1v1h-1zM668 74h1v1h-1zM668 75h1v1h-1zM668 78h1v1h-1zM668 80h1v1h-1zM669 51h1v1h-1zM669 53h1v1h-1zM669 54h1v1h-1zM669 55h1v1h-1zM669 56h1v1h-1zM669 59h1v1h-1zM669 60h1v1h-1zM669 63h1v1h-1zM669 66h1v1h-1zM669 69h1v1h-1zM669 71h1v1h-1zM669 73h1v1h-1zM669 75h1v1h-1zM669 78h1v1h-1zM669 79h1v1h-1zM669 82h1v1h-1zM670 50h1v1h-1zM670 54h1v1h-1zM670 55h1v1h-1zM670 56h1v1h-1zM670 58h1v1h-1zM670 59h1v1h-1zM670 62h1v1h-1zM670 72h1v1h-1zM670 73h1v1h-1zM670 75h1v1h-1zM670 78h1v1h-1zM670 79h1v1h-1zM670 81h1v1h-1zM670 82h1v1h-1zM670 83h1v1h-1zM670 84h1v1h-1zM671 54h1v1h-1zM671 59h1v1h-1zM671 68h1v1h-1zM671 69h1v1h-1zM671 70h1v1h-1zM671 71h1v1h-1zM671 77h1v1h-1zM671 80h1v1h-1zM671 81h1v1h-1zM671 83h1v1h-1zM672 56h1v1h-1zM672 58h1v1h-1zM672 59h1v1h-1zM672 60h1v1h-1zM672 61h1v1h-1zM672 72h1v1h-1zM672 75h1v1h-1zM672 76h1v1h-1zM672 77h1v1h-1zM672 78h1v1h-1zM672 80h1v1h-1zM672 81h1v1h-1zM673 52h1v1h-1zM673 54h1v1h-1zM673 55h1v1h-1zM673 56h1v1h-1zM673 57h1v1h-1zM673 58h1v1h-1zM673 61h1v1h-1zM673 62h1v1h-1zM673 69h1v1h-1zM673 70h1v1h-1zM673 71h1v1h-1zM673 72h1v1h-1zM674 53h1v1h-1zM674 55h1v1h-1zM674 56h1v1h-1zM674 57h1v1h-1zM674 58h1v1h-1zM674 62h1v1h-1zM674 67h1v1h-1zM674 70h1v1h-1zM674 72h1v1h-1zM674 74h1v1h-1zM674 76h1v1h-1zM675 53h1v1h-1zM675 56h1v1h-1zM675 58h1v1h-1zM675 59h1v1h-1zM675 61h1v1h-1zM675 68h1v1h-1zM675 70h1v1h-1zM675 73h1v1h-1zM675 74h1v1h-1zM675 75h1v1h-1zM675 81h1v1h-1zM676 52h1v1h-1zM676 53h1v1h-1zM676 69h1v1h-1zM676 72h1v1h-1zM676 73h1v1h-1zM676 74h1v1h-1zM676 76h1v1h-1zM677 53h1v1h-1zM677 63h1v1h-1zM677 69h1v1h-1zM677 76h1v1h-1zM678 56h1v1h-1zM678 63h1v1h-1zM678 64h1v1h-1zM679 58h1v1h-1zM679 60h1v1h-1zM679 73h1v1h-1zM679 74h1v1h-1zM680 62h1v1h-1z" fill="#f9b88a" filter="url(#tb)"/>
<path d="M621 66h1v1h-1zM621 67h1v1h-1zM622 66h1v1h-1zM622 70h1v1h-1zM623 63h1v1h-1zM624 66h1v1h-1zM624 67h1v1h-1zM624 68h1v1h-1zM624 69h1v1h-1zM625 66h1v1h-1zM625 69h1v1h-1zM625 70h1v1h-1zM626 63h1v1h-1zM626 65h1v1h-1zM626 67h1v1h-1zM626 69h1v1h-1zM626 70h1v1h-1zM626 71h1v1h-1zM627 66h1v1h-1zM627 67h1v1h-1zM628 60h1v1h-1zM628 64h1v1h-1zM629 60h1v1h-1zM629 62h1v1h-1zM629 65h1v1h-1zM629 68h1v1h-1zM629 69h1v1h-1zM629 71h1v1h-1zM630 61h1v1h-1zM630 64h1v1h-1zM630 65h1v1h-1zM630 68h1v1h-1zM630 71h1v1h-1zM630 72h1v1h-1zM630 83h1v1h-1zM630 84h1v1h-1zM631 42h1v1h-1zM631 67h1v1h-1zM631 68h1v1h-1zM631 82h1v1h-1zM632 42h1v1h-1zM632 43h1v1h-1zM632 63h1v1h-1zM632 65h1v1h-1zM632 66h1v1h-1zM632 67h1v1h-1zM632 68h1v1h-1zM632 69h1v1h-1zM632 79h1v1h-1zM632 81h1v1h-1zM632 82h1v1h-1zM633 44h1v1h-1zM633 65h1v1h-1zM633 66h1v1h-1zM633 67h1v1h-1zM633 68h1v1h-1zM633 78h1v1h-1zM633 80h1v1h-1zM633 81h1v1h-1zM633 82h1v1h-1zM633 83h1v1h-1zM633 84h1v1h-1zM634 43h1v1h-1zM634 65h1v1h-1zM634 66h1v1h-1zM634 78h1v1h-1zM634 79h1v1h-1zM634 80h1v1h-1zM634 81h1v1h-1zM634 82h1v1h-1zM635 42h1v1h-1zM635 65h1v1h-1zM635 66h1v1h-1zM635 68h1v1h-1zM635 77h1v1h-1zM635 79h1v1h-1zM635 80h1v1h-1zM635 81h1v1h-1zM635 82h1v1h-1zM635 84h1v1h-1zM635 85h1v1h-1zM636 42h1v1h-1zM636 43h1v1h-1zM636 73h1v1h-1zM636 74h1v1h-1zM636 75h1v1h-1zM636 77h1v1h-1zM636 78h1v1h-1zM636 79h1v1h-1zM636 80h1v1h-1zM636 81h1v1h-1zM636 82h1v1h-1zM636 83h1v1h-1zM636 84h1v1h-1zM637 44h1v1h-1zM637 48h1v1h-1zM637 63h1v1h-1zM637 75h1v1h-1zM637 80h1v1h-1zM637 81h1v1h-1zM637 82h1v1h-1zM637 83h1v1h-1zM638 38h1v1h-1zM638 42h1v1h-1zM638 43h1v1h-1zM638 44h1v1h-1zM638 50h1v1h-1zM638 76h1v1h-1zM638 79h1v1h-1zM638 81h1v1h-1zM638 82h1v1h-1zM639 43h1v1h-1zM639 44h1v1h-1zM639 45h1v1h-1zM639 49h1v1h-1zM639 57h1v1h-1zM639 75h1v1h-1zM639 81h1v1h-1zM639 82h1v1h-1zM639 83h1v1h-1zM640 36h1v1h-1zM640 38h1v1h-1zM640 39h1v1h-1zM640 41h1v1h-1zM640 42h1v1h-1zM640 43h1v1h-1zM640 45h1v1h-1zM640 46h1v1h-1zM640 47h1v1h-1zM640 49h1v1h-1zM640 54h1v1h-1zM640 55h1v1h-1zM640 79h1v1h-1zM640 80h1v1h-1zM640 81h1v1h-1zM641 39h1v1h-1zM641 40h1v1h-1zM641 41h1v1h-1zM641 42h1v1h-1zM641 46h1v1h-1zM641 54h1v1h-1zM641 56h1v1h-1zM641 58h1v1h-1zM641 80h1v1h-1zM641 81h1v1h-1zM641 84h1v1h-1zM642 37h1v1h-1zM642 39h1v1h-1zM642 41h1v1h-1zM642 42h1v1h-1zM642 46h1v1h-1zM642 47h1v1h-1zM642 48h1v1h-1zM642 53h1v1h-1zM642 55h1v1h-1zM642 58h1v1h-1zM642 59h1v1h-1zM642 76h1v1h-1zM642 78h1v1h-1zM642 79h1v1h-1zM642 80h1v1h-1zM642 82h1v1h-1zM643 38h1v1h-1zM643 39h1v1h-1zM643 40h1v1h-1zM643 41h1v1h-1zM643 43h1v1h-1zM643 46h1v1h-1zM643 47h1v1h-1zM643 48h1v1h-1zM643 49h1v1h-1zM643 57h1v1h-1zM643 79h1v1h-1zM644 39h1v1h-1zM644 44h1v1h-1zM644 50h1v1h-1zM644 51h1v1h-1zM644 53h1v1h-1zM644 55h1v1h-1zM644 56h1v1h-1zM644 57h1v1h-1zM644 60h1v1h-1zM644 78h1v1h-1zM644 81h1v1h-1zM645 41h1v1h-1zM645 44h1v1h-1zM645 48h1v1h-1zM645 49h1v1h-1zM645 51h1v1h-1zM645 56h1v1h-1zM645 71h1v1h-1zM646 51h1v1h-1zM646 56h1v1h-1zM646 66h1v1h-1zM646 72h1v1h-1zM647 50h1v1h-1zM647 51h1v1h-1zM647 52h1v1h-1zM647 53h1v1h-1zM647 70h1v1h-1zM648 49h1v1h-1zM648 52h1v1h-1zM648 67h1v1h-1zM648 69h1v1h-1zM648 71h1v1h-1zM648 72h1v1h-1zM649 68h1v1h-1zM649 69h1v1h-1zM649 71h1v1h-1zM650 67h1v1h-1zM650 70h1v1h-1zM650 71h1v1h-1zM651 71h1v1h-1zM654 40h1v1h-1zM655 38h1v1h-1zM655 39h1v1h-1zM655 41h1v1h-1zM655 43h1v1h-1zM656 38h1v1h-1zM656 39h1v1h-1zM656 40h1v1h-1zM656 41h1v1h-1zM656 42h1v1h-1zM656 44h1v1h-1zM656 45h1v1h-1zM656 74h1v1h-1zM656 78h1v1h-1zM657 38h1v1h-1zM657 40h1v1h-1zM657 44h1v1h-1zM657 46h1v1h-1zM658 37h1v1h-1zM658 42h1v1h-1zM658 43h1v1h-1zM658 44h1v1h-1zM658 45h1v1h-1zM658 78h1v1h-1zM659 36h1v1h-1zM659 37h1v1h-1zM659 38h1v1h-1zM659 39h1v1h-1zM659 42h1v1h-1zM659 44h1v1h-1zM659 75h1v1h-1zM659 77h1v1h-1zM659 79h1v1h-1zM659 80h1v1h-1zM659 82h1v1h-1zM660 36h1v1h-1zM660 38h1v1h-1zM660 39h1v1h-1zM660 41h1v1h-1zM660 44h1v1h-1zM660 45h1v1h-1zM660 46h1v1h-1zM660 75h1v1h-1zM660 78h1v1h-1zM660 79h1v1h-1zM660 80h1v1h-1zM660 81h1v1h-1zM660 82h1v1h-1zM661 38h1v1h-1zM661 45h1v1h-1zM661 76h1v1h-1zM661 78h1v1h-1zM661 79h1v1h-1zM661 80h1v1h-1zM661 81h1v1h-1zM661 82h1v1h-1zM661 83h1v1h-1zM661 85h1v1h-1zM662 42h1v1h-1zM662 76h1v1h-1zM662 77h1v1h-1zM662 78h1v1h-1zM662 79h1v1h-1zM662 84h1v1h-1zM663 45h1v1h-1zM663 78h1v1h-1zM663 79h1v1h-1zM664 44h1v1h-1zM664 46h1v1h-1zM664 78h1v1h-1zM664 84h1v1h-1zM665 46h1v1h-1zM665 78h1v1h-1zM665 81h1v1h-1zM666 43h1v1h-1zM666 75h1v1h-1zM666 79h1v1h-1zM666 80h1v1h-1zM666 81h1v1h-1zM666 85h1v1h-1zM666 88h1v1h-1zM667 44h1v1h-1zM667 51h1v1h-1zM667 53h1v1h-1zM667 81h1v1h-1zM667 82h1v1h-1zM667 87h1v1h-1zM668 44h1v1h-1zM668 45h1v1h-1zM668 46h1v1h-1zM668 47h1v1h-1zM668 48h1v1h-1zM668 52h1v1h-1zM669 42h1v1h-1zM669 44h1v1h-1zM669 47h1v1h-1zM669 48h1v1h-1zM669 50h1v1h-1zM669 52h1v1h-1zM670 44h1v1h-1zM670 45h1v1h-1zM670 46h1v1h-1zM670 48h1v1h-1zM670 50h1v1h-1zM670 52h1v1h-1zM670 54h1v1h-1zM671 43h1v1h-1zM671 44h1v1h-1zM671 47h1v1h-1zM671 52h1v1h-1zM671 53h1v1h-1zM671 54h1v1h-1zM672 43h1v1h-1zM672 44h1v1h-1zM672 45h1v1h-1zM672 47h1v1h-1zM672 48h1v1h-1zM672 49h1v1h-1zM672 51h1v1h-1zM672 52h1v1h-1zM672 53h1v1h-1zM673 43h1v1h-1zM673 50h1v1h-1zM673 51h1v1h-1zM673 53h1v1h-1zM674 44h1v1h-1zM674 51h1v1h-1zM674 52h1v1h-1zM675 49h1v1h-1zM675 52h1v1h-1zM676 50h1v1h-1zM676 51h1v1h-1zM676 52h1v1h-1zM676 54h1v1h-1zM677 50h1v1h-1zM677 52h1v1h-1zM677 54h1v1h-1zM678 51h1v1h-1zM678 53h1v1h-1z" fill="#c9f2bb" filter="url(#tb)"/>
<path d="M630 86h1v1h-1zM634 86h1v1h-1zM634 89h1v1h-1zM635 82h1v1h-1zM635 84h1v1h-1zM635 85h1v1h-1zM636 88h1v1h-1zM637 88h1v1h-1zM638 85h1v1h-1zM638 90h1v1h-1zM639 83h1v1h-1zM639 84h1v1h-1zM639 88h1v1h-1zM640 87h1v1h-1zM640 89h1v1h-1zM640 90h1v1h-1zM641 82h1v1h-1zM641 84h1v1h-1zM641 85h1v1h-1zM641 86h1v1h-1zM641 88h1v1h-1zM641 89h1v1h-1zM641 91h1v1h-1zM641 92h1v1h-1zM642 82h1v1h-1zM642 85h1v1h-1zM642 88h1v1h-1zM643 58h1v1h-1zM643 86h1v1h-1zM643 88h1v1h-1zM644 48h1v1h-1zM644 49h1v1h-1zM644 58h1v1h-1zM644 59h1v1h-1zM644 82h1v1h-1zM644 84h1v1h-1zM644 87h1v1h-1zM644 88h1v1h-1zM645 48h1v1h-1zM645 49h1v1h-1zM645 57h1v1h-1zM645 58h1v1h-1zM645 59h1v1h-1zM645 82h1v1h-1zM645 87h1v1h-1zM646 57h1v1h-1zM646 59h1v1h-1zM646 82h1v1h-1zM646 89h1v1h-1zM646 90h1v1h-1zM646 91h1v1h-1zM646 92h1v1h-1zM647 90h1v1h-1zM647 91h1v1h-1zM647 92h1v1h-1zM648 92h1v1h-1zM648 93h1v1h-1zM649 84h1v1h-1zM649 87h1v1h-1zM649 88h1v1h-1zM650 84h1v1h-1zM650 86h1v1h-1zM650 88h1v1h-1zM650 89h1v1h-1zM651 85h1v1h-1zM651 86h1v1h-1zM651 87h1v1h-1zM651 88h1v1h-1zM651 89h1v1h-1zM651 91h1v1h-1zM651 92h1v1h-1zM652 84h1v1h-1zM652 85h1v1h-1zM652 86h1v1h-1zM652 87h1v1h-1zM652 90h1v1h-1zM652 92h1v1h-1zM652 94h1v1h-1zM653 84h1v1h-1zM653 85h1v1h-1zM653 86h1v1h-1zM653 87h1v1h-1zM653 89h1v1h-1zM654 87h1v1h-1zM655 82h1v1h-1zM655 86h1v1h-1zM656 80h1v1h-1zM656 91h1v1h-1zM656 92h1v1h-1zM657 79h1v1h-1zM657 81h1v1h-1zM657 82h1v1h-1zM657 91h1v1h-1zM657 92h1v1h-1zM657 94h1v1h-1zM658 81h1v1h-1zM658 85h1v1h-1zM658 87h1v1h-1zM658 89h1v1h-1zM659 81h1v1h-1zM659 87h1v1h-1zM659 89h1v1h-1zM660 80h1v1h-1zM660 81h1v1h-1zM660 83h1v1h-1zM660 87h1v1h-1zM660 88h1v1h-1zM661 81h1v1h-1zM662 82h1v1h-1zM662 85h1v1h-1zM663 84h1v1h-1z" fill="#f04a4a" filter="url(#tb)"/>
<path d="M620 65h1v1h-1zM621 65h1v1h-1zM622 62h1v1h-1zM622 64h1v1h-1zM623 56h1v1h-1zM623 60h1v1h-1zM623 61h1v1h-1zM623 62h1v1h-1zM623 63h1v1h-1zM623 64h1v1h-1zM624 55h1v1h-1zM624 57h1v1h-1zM624 59h1v1h-1zM624 61h1v1h-1zM624 62h1v1h-1zM624 63h1v1h-1zM625 56h1v1h-1zM625 57h1v1h-1zM625 58h1v1h-1zM625 60h1v1h-1zM625 61h1v1h-1zM625 62h1v1h-1zM625 63h1v1h-1zM626 59h1v1h-1zM626 61h1v1h-1zM626 62h1v1h-1zM626 75h1v1h-1zM627 60h1v1h-1zM627 61h1v1h-1zM627 63h1v1h-1zM627 75h1v1h-1zM627 78h1v1h-1zM628 60h1v1h-1zM628 61h1v1h-1zM628 63h1v1h-1zM628 77h1v1h-1zM629 45h1v1h-1zM629 74h1v1h-1zM629 77h1v1h-1zM630 43h1v1h-1zM630 74h1v1h-1zM631 42h1v1h-1zM631 43h1v1h-1zM631 74h1v1h-1zM632 41h1v1h-1zM632 42h1v1h-1zM632 46h1v1h-1zM632 63h1v1h-1zM632 65h1v1h-1zM632 75h1v1h-1zM632 76h1v1h-1zM633 44h1v1h-1zM633 47h1v1h-1zM633 49h1v1h-1zM633 58h1v1h-1zM633 59h1v1h-1zM633 62h1v1h-1zM633 63h1v1h-1zM633 75h1v1h-1zM634 45h1v1h-1zM634 46h1v1h-1zM634 48h1v1h-1zM634 57h1v1h-1zM634 77h1v1h-1zM635 55h1v1h-1zM635 58h1v1h-1zM635 59h1v1h-1zM635 65h1v1h-1zM636 46h1v1h-1zM636 55h1v1h-1zM636 56h1v1h-1zM636 57h1v1h-1zM636 61h1v1h-1zM637 44h1v1h-1zM637 55h1v1h-1zM637 56h1v1h-1zM637 57h1v1h-1zM637 63h1v1h-1zM637 64h1v1h-1zM638 52h1v1h-1zM638 55h1v1h-1zM638 61h1v1h-1zM638 62h1v1h-1zM639 55h1v1h-1zM639 59h1v1h-1zM639 60h1v1h-1zM639 63h1v1h-1zM639 64h1v1h-1zM639 72h1v1h-1zM639 74h1v1h-1zM639 75h1v1h-1zM640 59h1v1h-1zM640 60h1v1h-1zM640 61h1v1h-1zM640 72h1v1h-1zM640 73h1v1h-1zM640 76h1v1h-1zM641 58h1v1h-1zM641 59h1v1h-1zM641 60h1v1h-1zM641 61h1v1h-1zM641 70h1v1h-1zM641 71h1v1h-1zM641 72h1v1h-1zM641 74h1v1h-1zM642 59h1v1h-1zM642 70h1v1h-1zM642 72h1v1h-1zM643 71h1v1h-1zM643 72h1v1h-1zM643 73h1v1h-1zM643 74h1v1h-1zM643 75h1v1h-1zM643 77h1v1h-1zM644 34h1v1h-1zM644 72h1v1h-1zM644 73h1v1h-1zM644 74h1v1h-1zM645 38h1v1h-1zM645 73h1v1h-1zM645 74h1v1h-1zM645 76h1v1h-1zM645 77h1v1h-1zM646 49h1v1h-1zM646 52h1v1h-1zM647 36h1v1h-1zM647 49h1v1h-1zM647 53h1v1h-1zM648 34h1v1h-1zM648 51h1v1h-1zM649 58h1v1h-1zM649 59h1v1h-1zM649 62h1v1h-1zM649 63h1v1h-1zM650 62h1v1h-1zM650 63h1v1h-1zM650 76h1v1h-1zM651 59h1v1h-1zM651 60h1v1h-1zM651 62h1v1h-1zM651 63h1v1h-1zM651 64h1v1h-1zM651 76h1v1h-1zM651 77h1v1h-1zM652 57h1v1h-1zM652 60h1v1h-1zM652 63h1v1h-1zM652 64h1v1h-1zM653 58h1v1h-1zM653 61h1v1h-1zM653 62h1v1h-1zM653 63h1v1h-1zM653 80h1v1h-1zM654 57h1v1h-1zM654 60h1v1h-1zM654 61h1v1h-1zM654 62h1v1h-1zM654 63h1v1h-1zM654 82h1v1h-1zM655 56h1v1h-1zM655 57h1v1h-1zM655 58h1v1h-1zM655 59h1v1h-1zM655 61h1v1h-1zM655 62h1v1h-1zM655 63h1v1h-1zM656 61h1v1h-1zM656 83h1v1h-1zM657 47h1v1h-1zM657 54h1v1h-1zM657 61h1v1h-1zM657 64h1v1h-1zM657 82h1v1h-1zM658 47h1v1h-1zM658 53h1v1h-1zM658 54h1v1h-1zM658 55h1v1h-1zM658 56h1v1h-1zM658 58h1v1h-1zM658 61h1v1h-1zM659 46h1v1h-1zM659 53h1v1h-1zM659 55h1v1h-1zM659 56h1v1h-1zM660 43h1v1h-1zM660 50h1v1h-1zM660 54h1v1h-1zM660 55h1v1h-1zM661 43h1v1h-1zM661 45h1v1h-1zM661 46h1v1h-1zM661 56h1v1h-1zM661 59h1v1h-1zM662 39h1v1h-1zM662 43h1v1h-1zM662 44h1v1h-1zM662 45h1v1h-1zM662 47h1v1h-1zM662 49h1v1h-1zM662 55h1v1h-1zM662 56h1v1h-1zM664 38h1v1h-1zM664 41h1v1h-1zM664 42h1v1h-1zM664 43h1v1h-1zM664 44h1v1h-1zM665 41h1v1h-1zM665 43h1v1h-1zM666 39h1v1h-1zM666 43h1v1h-1zM667 38h1v1h-1zM667 40h1v1h-1zM667 41h1v1h-1zM669 41h1v1h-1zM669 43h1v1h-1zM670 66h1v1h-1zM671 64h1v1h-1zM672 63h1v1h-1zM672 64h1v1h-1zM673 62h1v1h-1zM673 63h1v1h-1zM673 64h1v1h-1zM673 66h1v1h-1zM674 61h1v1h-1zM674 63h1v1h-1zM674 64h1v1h-1zM675 63h1v1h-1zM675 64h1v1h-1zM676 60h1v1h-1zM676 62h1v1h-1zM676 64h1v1h-1zM676 65h1v1h-1zM676 68h1v1h-1zM676 69h1v1h-1zM677 61h1v1h-1zM677 64h1v1h-1zM677 65h1v1h-1zM677 66h1v1h-1zM677 68h1v1h-1zM677 69h1v1h-1zM677 70h1v1h-1zM678 61h1v1h-1zM678 62h1v1h-1zM678 64h1v1h-1zM678 65h1v1h-1zM678 67h1v1h-1zM679 63h1v1h-1zM679 66h1v1h-1zM679 68h1v1h-1z" fill="#2ab7ef" filter="url(#tb)"/>
<circle cx="506.70" cy="111.20" r="5.30" fill="#29c3f5"/>
<text x="513.00" y="113.08" font-size="5.5" text-anchor="start" fill="#111" font-weight="bold">Naive</text>
<circle cx="544.60" cy="111.20" r="5.30" fill="#f2404a"/>
<text x="550.70" y="113.08" font-size="5.5" text-anchor="start" fill="#111" font-weight="bold">CM</text>
<circle cx="570.00" cy="111.20" r="5.30" fill="#98ee7c"/>
<text x="577.30" y="113.08" font-size="5.5" text-anchor="start" fill="#111" font-weight="bold">EM</text>
<circle cx="597.20" cy="111.20" r="5.30" fill="#fb8c1c"/>
<text x="604.80" y="113.08" font-size="5.5" text-anchor="start" fill="#111" font-weight="bold">CTL</text>
<text x="70.60" y="123.38" font-size="6.6" text-anchor="middle" fill="#111" font-weight="bold">PBS</text>
<rect x="41.90" y="133.10" width="15.08" height="15.05" fill="#04031a"/>
<rect x="56.67" y="133.10" width="15.08" height="15.05" fill="#03021a"/>
<rect x="71.45" y="133.10" width="15.08" height="15.05" fill="#12063e"/>
<rect x="86.22" y="133.10" width="15.08" height="15.05" fill="#05042a"/>
<rect x="41.90" y="147.85" width="15.08" height="15.05" fill="#e06555"/>
<rect x="56.67" y="147.85" width="15.08" height="15.05" fill="#fdfaae"/>
<rect x="71.45" y="147.85" width="15.08" height="15.05" fill="#fc9a04"/>
<rect x="86.22" y="147.85" width="15.08" height="15.05" fill="#f8d84e"/>
<rect x="41.90" y="162.60" width="15.08" height="15.05" fill="#4a1478"/>
<rect x="56.67" y="162.60" width="15.08" height="15.05" fill="#000000"/>
<rect x="71.45" y="162.60" width="15.08" height="15.05" fill="#260e4e"/>
<rect x="86.22" y="162.60" width="15.08" height="15.05" fill="#12053c"/>
<rect x="41.90" y="177.35" width="15.08" height="15.05" fill="#fca50c"/>
<rect x="56.67" y="177.35" width="15.08" height="15.05" fill="#d05468"/>
<rect x="71.45" y="177.35" width="15.08" height="15.05" fill="#e86c48"/>
<rect x="86.22" y="177.35" width="15.08" height="15.05" fill="#cf5068"/>
<rect x="41.90" y="133.10" width="59.10" height="59.00" fill="none" stroke="#222" stroke-width="0.5"/>
<defs><linearGradient id="cb1192" x1="0" y1="0" x2="0" y2="1"><stop offset="0.00" stop-color="#fcffa4"/><stop offset="0.05" stop-color="#f9eb75"/><stop offset="0.10" stop-color="#f6d746"/><stop offset="0.15" stop-color="#f9be28"/><stop offset="0.20" stop-color="#fca50a"/><stop offset="0.25" stop-color="#f88e12"/><stop offset="0.30" stop-color="#f37819"/><stop offset="0.35" stop-color="#e86529"/><stop offset="0.40" stop-color="#dd513a"/><stop offset="0.45" stop-color="#cd4447"/><stop offset="0.50" stop-color="#bc3754"/><stop offset="0.55" stop-color="#a72e5e"/><stop offset="0.60" stop-color="#932667"/><stop offset="0.65" stop-color="#7e1e6a"/><stop offset="0.70" stop-color="#6a176e"/><stop offset="0.75" stop-color="#56106b"/><stop offset="0.80" stop-color="#420a68"/><stop offset="0.85" stop-color="#2c0a50"/><stop offset="0.90" stop-color="#160b39"/><stop offset="0.95" stop-color="#0b061f"/><stop offset="1.00" stop-color="#000004"/></linearGradient></defs>
<rect x="105.90" y="133.50" width="5.10" height="58.00" fill="url(#cb1192)" stroke="#222" stroke-width="0.5"/>
<line x1="111.00" y1="139.50" x2="112.50" y2="139.50" stroke="#222" stroke-width="0.5"/>
<text x="113.20" y="141.30" font-size="5.0" text-anchor="start" fill="#111">50</text>
<line x1="111.00" y1="151.30" x2="112.50" y2="151.30" stroke="#222" stroke-width="0.5"/>
<text x="113.20" y="153.10" font-size="5.0" text-anchor="start" fill="#111">40</text>
<line x1="111.00" y1="163.50" x2="112.50" y2="163.50" stroke="#222" stroke-width="0.5"/>
<text x="113.20" y="165.30" font-size="5.0" text-anchor="start" fill="#111">30</text>
<line x1="111.00" y1="175.50" x2="112.50" y2="175.50" stroke="#222" stroke-width="0.5"/>
<text x="113.20" y="177.30" font-size="5.0" text-anchor="start" fill="#111">20</text>
<line x1="111.00" y1="188.10" x2="112.50" y2="188.10" stroke="#222" stroke-width="0.5"/>
<text x="113.20" y="189.90" font-size="5.0" text-anchor="start" fill="#111">10</text>
<line x1="39.80" y1="140.60" x2="41.90" y2="140.60" stroke="#222" stroke-width="0.6"/>
<text x="39.30" y="142.33" font-size="4.8" text-anchor="end" fill="#111" font-weight="bold">CM</text>
<line x1="39.80" y1="155.30" x2="41.90" y2="155.30" stroke="#222" stroke-width="0.6"/>
<text x="39.30" y="157.03" font-size="4.8" text-anchor="end" fill="#111" font-weight="bold">Naive</text>
<line x1="39.80" y1="169.80" x2="41.90" y2="169.80" stroke="#222" stroke-width="0.6"/>
<text x="39.30" y="171.53" font-size="4.8" text-anchor="end" fill="#111" font-weight="bold">EM</text>
<line x1="39.80" y1="184.50" x2="41.90" y2="184.50" stroke="#222" stroke-width="0.6"/>
<text x="39.30" y="186.23" font-size="4.8" text-anchor="end" fill="#111" font-weight="bold">CD8+</text>
<text x="70.50" y="202.38" font-size="6.6" text-anchor="middle" fill="#111" font-weight="bold">Syl</text>
<rect x="43.20" y="209.20" width="15.25" height="15.33" fill="#06040f"/>
<rect x="58.15" y="209.20" width="15.25" height="15.33" fill="#fcb414"/>
<rect x="73.10" y="209.20" width="15.25" height="15.33" fill="#ec6e42"/>
<rect x="88.05" y="209.20" width="15.25" height="15.33" fill="#f98c1c"/>
<rect x="43.20" y="224.22" width="15.25" height="15.33" fill="#000000"/>
<rect x="58.15" y="224.22" width="15.25" height="15.33" fill="#1e0e48"/>
<rect x="73.10" y="224.22" width="15.25" height="15.33" fill="#2a1660"/>
<rect x="88.05" y="224.22" width="15.25" height="15.33" fill="#260c5c"/>
<rect x="43.20" y="239.25" width="15.25" height="15.33" fill="#b03c7c"/>
<rect x="58.15" y="239.25" width="15.25" height="15.33" fill="#160a38"/>
<rect x="73.10" y="239.25" width="15.25" height="15.33" fill="#44136c"/>
<rect x="88.05" y="239.25" width="15.25" height="15.33" fill="#3a1468"/>
<rect x="43.20" y="254.28" width="15.25" height="15.33" fill="#fcfcb8"/>
<rect x="58.15" y="254.28" width="15.25" height="15.33" fill="#bc4074"/>
<rect x="73.10" y="254.28" width="15.25" height="15.33" fill="#cc5060"/>
<rect x="88.05" y="254.28" width="15.25" height="15.33" fill="#ba4074"/>
<rect x="43.20" y="209.20" width="59.80" height="60.10" fill="none" stroke="#222" stroke-width="0.5"/>
<defs><linearGradient id="cb1287" x1="0" y1="0" x2="0" y2="1"><stop offset="0.00" stop-color="#fcffa4"/><stop offset="0.05" stop-color="#f9eb75"/><stop offset="0.10" stop-color="#f6d746"/><stop offset="0.15" stop-color="#f9be28"/><stop offset="0.20" stop-color="#fca50a"/><stop offset="0.25" stop-color="#f88e12"/><stop offset="0.30" stop-color="#f37819"/><stop offset="0.35" stop-color="#e86529"/><stop offset="0.40" stop-color="#dd513a"/><stop offset="0.45" stop-color="#cd4447"/><stop offset="0.50" stop-color="#bc3754"/><stop offset="0.55" stop-color="#a72e5e"/><stop offset="0.60" stop-color="#932667"/><stop offset="0.65" stop-color="#7e1e6a"/><stop offset="0.70" stop-color="#6a176e"/><stop offset="0.75" stop-color="#56106b"/><stop offset="0.80" stop-color="#420a68"/><stop offset="0.85" stop-color="#2c0a50"/><stop offset="0.90" stop-color="#160b39"/><stop offset="0.95" stop-color="#0b061f"/><stop offset="1.00" stop-color="#000004"/></linearGradient></defs>
<rect x="107.80" y="209.50" width="5.20" height="60.00" fill="url(#cb1287)" stroke="#222" stroke-width="0.5"/>
<line x1="113.00" y1="215.30" x2="114.50" y2="215.30" stroke="#222" stroke-width="0.5"/>
<text x="115.20" y="217.10" font-size="5.0" text-anchor="start" fill="#111">60</text>
<line x1="113.00" y1="234.00" x2="114.50" y2="234.00" stroke="#222" stroke-width="0.5"/>
<text x="115.20" y="235.80" font-size="5.0" text-anchor="start" fill="#111">40</text>
<line x1="113.00" y1="252.10" x2="114.50" y2="252.10" stroke="#222" stroke-width="0.5"/>
<text x="115.20" y="253.90" font-size="5.0" text-anchor="start" fill="#111">20</text>
<line x1="41.00" y1="217.00" x2="43.20" y2="217.00" stroke="#222" stroke-width="0.6"/>
<text x="40.50" y="218.73" font-size="4.8" text-anchor="end" fill="#111" font-weight="bold">CM</text>
<line x1="41.00" y1="232.30" x2="43.20" y2="232.30" stroke="#222" stroke-width="0.6"/>
<text x="40.50" y="234.03" font-size="4.8" text-anchor="end" fill="#111" font-weight="bold">Naive</text>
<line x1="41.00" y1="246.80" x2="43.20" y2="246.80" stroke="#222" stroke-width="0.6"/>
<text x="40.50" y="248.53" font-size="4.8" text-anchor="end" fill="#111" font-weight="bold">EM</text>
<line x1="41.00" y1="261.70" x2="43.20" y2="261.70" stroke="#222" stroke-width="0.6"/>
<text x="40.50" y="263.43" font-size="4.8" text-anchor="end" fill="#111" font-weight="bold">CD8+</text>
<line x1="50.68" y1="270.00" x2="50.68" y2="272.00" stroke="#222" stroke-width="0.6"/>
<text x="51.48" y="274.50" font-size="5.0" font-weight="bold" text-anchor="end" fill="#111" transform="rotate(-45 51.48 274.5)">Trained+PC</text>
<line x1="65.62" y1="270.00" x2="65.62" y2="272.00" stroke="#222" stroke-width="0.6"/>
<text x="66.42" y="274.50" font-size="5.0" font-weight="bold" text-anchor="end" fill="#111" transform="rotate(-45 66.42 274.5)">Trained+PC Mθ depletion</text>
<line x1="80.58" y1="270.00" x2="80.58" y2="272.00" stroke="#222" stroke-width="0.6"/>
<text x="81.38" y="274.50" font-size="5.0" font-weight="bold" text-anchor="end" fill="#111" transform="rotate(-45 81.38 274.5)">Trained+PC NK depleted</text>
<line x1="95.53" y1="270.00" x2="95.53" y2="272.00" stroke="#222" stroke-width="0.6"/>
<text x="96.33" y="274.50" font-size="5.0" font-weight="bold" text-anchor="end" fill="#111" transform="rotate(-45 96.33 274.5)">Trained+PC Mθ+NK depleted</text>
<g transform="translate(142.20 161.80) scale(0.91) translate(-26 -19)"><path d="M32 34.5 L47 34.2 L60 34.0 C64 34 66.2 35.2 66.6 39.8" fill="none" stroke="#e4a19c" stroke-width="0.75"/><ellipse cx="39.6" cy="27.2" rx="9.0" ry="7.7" fill="#ebe7e4"/><path d="M33 33.5 C36 35.2 44 35.2 47.5 31 C46 34.5 42 35.3 38 35.0 C35 35 33.5 34.5 33 33.5Z" fill="#dcd5d0"/><ellipse cx="31.4" cy="25.6" rx="5.2" ry="5.0" fill="#eeeae7"/><ellipse cx="32.1" cy="19.9" rx="1.2" ry="1.4" fill="#e9e2de"/><ellipse cx="34.4" cy="20.9" rx="1.6" ry="1.9" fill="#e2a39e"/><circle cx="28.6" cy="28.6" r="1.15" fill="#e79c9a"/><circle cx="29.9" cy="23.5" r="0.55" fill="#d98f8c"/><ellipse cx="33.2" cy="28.2" rx="1.3" ry="0.9" fill="#ddd6d1"/></g>
<line x1="152.40" y1="182.00" x2="152.40" y2="243.20" stroke="#444" stroke-width="0.7"/>
<path d="M151.3 242.6 L152.4 244.6 L153.5 242.6 Z" fill="#444"/>
<text x="149.60" y="189.43" font-size="4.8" text-anchor="end" fill="#333">0</text>
<line x1="154.30" y1="187.50" x2="165.00" y2="187.50" stroke="#1a1a1a" stroke-width="1.0"/>
<text x="149.60" y="202.43" font-size="4.8" text-anchor="end" fill="#333">4</text>
<line x1="154.30" y1="200.50" x2="166.00" y2="200.50" stroke="#e8262e" stroke-width="1.0"/>
<text x="149.60" y="219.43" font-size="4.8" text-anchor="end" fill="#333">9</text>
<line x1="155.50" y1="217.50" x2="166.50" y2="217.50" stroke="#283878" stroke-width="1.0"/>
<text x="149.60" y="238.43" font-size="4.8" text-anchor="end" fill="#333">16</text>
<line x1="155.50" y1="236.50" x2="166.50" y2="236.50" stroke="#283878" stroke-width="1.0"/>
<text x="167.80" y="189.63" font-size="4.8" text-anchor="start" fill="#333">WPG/PBS</text>
<text x="167.80" y="202.93" font-size="4.8" text-anchor="start" fill="#333">NK/Macrophage</text>
<text x="168.50" y="219.53" font-size="4.8" text-anchor="start" fill="#333">PC</text>
<text x="168.50" y="238.53" font-size="4.8" text-anchor="start" fill="#333">PC</text>
<text x="302.30" y="121.20" font-size="6.4" text-anchor="middle" fill="#111" font-weight="bold">CT26</text>
<line x1="253.10" y1="126.80" x2="253.10" y2="177.60" stroke="#111" stroke-width="0.9"/>
<line x1="252.70" y1="177.20" x2="350.50" y2="177.20" stroke="#111" stroke-width="0.9"/>
<line x1="250.90" y1="177.20" x2="253.10" y2="177.20" stroke="#111" stroke-width="0.8"/>
<text x="251.00" y="178.86" font-size="4.6" text-anchor="end" fill="#111" font-weight="bold">0</text>
<line x1="250.90" y1="160.55" x2="253.10" y2="160.55" stroke="#111" stroke-width="0.8"/>
<text x="251.00" y="162.21" font-size="4.6" text-anchor="end" fill="#111" font-weight="bold">500</text>
<line x1="250.90" y1="143.90" x2="253.10" y2="143.90" stroke="#111" stroke-width="0.8"/>
<text x="251.00" y="145.56" font-size="4.6" text-anchor="end" fill="#111" font-weight="bold">1000</text>
<line x1="250.90" y1="127.25" x2="253.10" y2="127.25" stroke="#111" stroke-width="0.8"/>
<text x="251.00" y="128.91" font-size="4.6" text-anchor="end" fill="#111" font-weight="bold">1500</text>
<line x1="263.70" y1="177.20" x2="263.70" y2="179.20" stroke="#111" stroke-width="0.8"/>
<text x="263.70" y="184.66" font-size="4.6" text-anchor="middle" fill="#111" font-weight="bold">0</text>
<line x1="278.60" y1="177.20" x2="278.60" y2="179.20" stroke="#111" stroke-width="0.8"/>
<text x="278.60" y="184.66" font-size="4.6" text-anchor="middle" fill="#111" font-weight="bold">9</text>
<line x1="294.40" y1="177.20" x2="294.40" y2="179.20" stroke="#111" stroke-width="0.8"/>
<text x="294.40" y="184.66" font-size="4.6" text-anchor="middle" fill="#111" font-weight="bold">15</text>
<line x1="309.80" y1="177.20" x2="309.80" y2="179.20" stroke="#111" stroke-width="0.8"/>
<text x="309.80" y="184.66" font-size="4.6" text-anchor="middle" fill="#111" font-weight="bold">17</text>
<line x1="325.20" y1="177.20" x2="325.20" y2="179.20" stroke="#111" stroke-width="0.8"/>
<text x="325.20" y="184.66" font-size="4.6" text-anchor="middle" fill="#111" font-weight="bold">19</text>
<line x1="341.00" y1="177.20" x2="341.00" y2="179.20" stroke="#111" stroke-width="0.8"/>
<text x="341.00" y="184.66" font-size="4.6" text-anchor="middle" fill="#111" font-weight="bold">23</text>
<text x="302.30" y="191.58" font-size="4.4" text-anchor="middle" fill="#111" font-weight="bold">Days post engrafment</text>
<text x="237.20" y="153.03" font-size="4.8" text-anchor="middle" fill="#111" font-weight="bold" transform="rotate(-90 237.20 151.30)">Tumor Size (mm3)</text>
<polyline points="263.70,177.20 278.60,173.87 294.40,167.88 309.80,157.22 325.20,155.55 341.00,145.56" fill="none" stroke="#111111" stroke-width="0.9"/>
<circle cx="263.70" cy="177.20" r="0.90" fill="#111111"/>
<line x1="278.60" y1="174.20" x2="278.60" y2="173.54" stroke="#111111" stroke-width="0.4" opacity="0.7"/>
<line x1="277.70" y1="173.54" x2="279.50" y2="173.54" stroke="#111111" stroke-width="0.4" opacity="0.7"/>
<circle cx="278.60" cy="173.87" r="0.90" fill="#111111"/>
<line x1="294.40" y1="169.87" x2="294.40" y2="165.88" stroke="#111111" stroke-width="0.4" opacity="0.7"/>
<line x1="293.50" y1="165.88" x2="295.30" y2="165.88" stroke="#111111" stroke-width="0.4" opacity="0.7"/>
<circle cx="294.40" cy="167.88" r="0.90" fill="#111111"/>
<line x1="309.80" y1="162.21" x2="309.80" y2="152.22" stroke="#111111" stroke-width="0.4" opacity="0.7"/>
<line x1="308.90" y1="152.22" x2="310.70" y2="152.22" stroke="#111111" stroke-width="0.4" opacity="0.7"/>
<circle cx="309.80" cy="157.22" r="0.90" fill="#111111"/>
<line x1="325.20" y1="158.88" x2="325.20" y2="152.22" stroke="#111111" stroke-width="0.4" opacity="0.7"/>
<line x1="324.30" y1="152.22" x2="326.10" y2="152.22" stroke="#111111" stroke-width="0.4" opacity="0.7"/>
<circle cx="325.20" cy="155.55" r="0.90" fill="#111111"/>
<line x1="341.00" y1="150.56" x2="341.00" y2="140.57" stroke="#111111" stroke-width="0.4" opacity="0.7"/>
<line x1="340.10" y1="140.57" x2="341.90" y2="140.57" stroke="#111111" stroke-width="0.4" opacity="0.7"/>
<circle cx="341.00" cy="145.56" r="0.90" fill="#111111"/>
<polyline points="263.70,177.20 278.60,173.87 294.40,163.88 309.80,155.89 325.20,153.22 341.00,147.23" fill="none" stroke="#e8307a" stroke-width="0.9"/>
<circle cx="263.70" cy="177.20" r="0.90" fill="#e8307a"/>
<line x1="278.60" y1="174.20" x2="278.60" y2="173.54" stroke="#e8307a" stroke-width="0.4" opacity="0.7"/>
<line x1="277.70" y1="173.54" x2="279.50" y2="173.54" stroke="#e8307a" stroke-width="0.4" opacity="0.7"/>
<circle cx="278.60" cy="173.87" r="0.90" fill="#e8307a"/>
<line x1="294.40" y1="165.88" x2="294.40" y2="161.88" stroke="#e8307a" stroke-width="0.4" opacity="0.7"/>
<line x1="293.50" y1="161.88" x2="295.30" y2="161.88" stroke="#e8307a" stroke-width="0.4" opacity="0.7"/>
<circle cx="294.40" cy="163.88" r="0.90" fill="#e8307a"/>
<line x1="309.80" y1="162.55" x2="309.80" y2="149.23" stroke="#e8307a" stroke-width="0.4" opacity="0.7"/>
<line x1="308.90" y1="149.23" x2="310.70" y2="149.23" stroke="#e8307a" stroke-width="0.4" opacity="0.7"/>
<circle cx="309.80" cy="155.89" r="0.90" fill="#e8307a"/>
<line x1="325.20" y1="157.22" x2="325.20" y2="149.23" stroke="#e8307a" stroke-width="0.4" opacity="0.7"/>
<line x1="324.30" y1="149.23" x2="326.10" y2="149.23" stroke="#e8307a" stroke-width="0.4" opacity="0.7"/>
<circle cx="325.20" cy="153.22" r="0.90" fill="#e8307a"/>
<line x1="341.00" y1="153.89" x2="341.00" y2="140.57" stroke="#e8307a" stroke-width="0.4" opacity="0.7"/>
<line x1="340.10" y1="140.57" x2="341.90" y2="140.57" stroke="#e8307a" stroke-width="0.4" opacity="0.7"/>
<circle cx="341.00" cy="147.23" r="0.90" fill="#e8307a"/>
<polyline points="263.70,177.20 278.60,173.87 294.40,168.88 309.80,158.55 325.20,155.55 341.00,148.89" fill="none" stroke="#1a9a9a" stroke-width="0.9"/>
<circle cx="263.70" cy="177.20" r="0.90" fill="#1a9a9a"/>
<line x1="278.60" y1="174.20" x2="278.60" y2="173.54" stroke="#1a9a9a" stroke-width="0.4" opacity="0.7"/>
<line x1="277.70" y1="173.54" x2="279.50" y2="173.54" stroke="#1a9a9a" stroke-width="0.4" opacity="0.7"/>
<circle cx="278.60" cy="173.87" r="0.90" fill="#1a9a9a"/>
<line x1="294.40" y1="170.87" x2="294.40" y2="166.88" stroke="#1a9a9a" stroke-width="0.4" opacity="0.7"/>
<line x1="293.50" y1="166.88" x2="295.30" y2="166.88" stroke="#1a9a9a" stroke-width="0.4" opacity="0.7"/>
<circle cx="294.40" cy="168.88" r="0.90" fill="#1a9a9a"/>
<line x1="309.80" y1="162.55" x2="309.80" y2="154.56" stroke="#1a9a9a" stroke-width="0.4" opacity="0.7"/>
<line x1="308.90" y1="154.56" x2="310.70" y2="154.56" stroke="#1a9a9a" stroke-width="0.4" opacity="0.7"/>
<circle cx="309.80" cy="158.55" r="0.90" fill="#1a9a9a"/>
<line x1="325.20" y1="158.88" x2="325.20" y2="152.22" stroke="#1a9a9a" stroke-width="0.4" opacity="0.7"/>
<line x1="324.30" y1="152.22" x2="326.10" y2="152.22" stroke="#1a9a9a" stroke-width="0.4" opacity="0.7"/>
<circle cx="325.20" cy="155.55" r="0.90" fill="#1a9a9a"/>
<line x1="341.00" y1="152.89" x2="341.00" y2="144.90" stroke="#1a9a9a" stroke-width="0.4" opacity="0.7"/>
<line x1="340.10" y1="144.90" x2="341.90" y2="144.90" stroke="#1a9a9a" stroke-width="0.4" opacity="0.7"/>
<circle cx="341.00" cy="148.89" r="0.90" fill="#1a9a9a"/>
<polyline points="263.70,177.20 278.60,173.87 294.40,169.54 309.80,160.55 325.20,158.88 341.00,151.89" fill="none" stroke="#4b2a9c" stroke-width="0.9"/>
<circle cx="263.70" cy="177.20" r="0.90" fill="#4b2a9c"/>
<line x1="278.60" y1="174.20" x2="278.60" y2="173.54" stroke="#4b2a9c" stroke-width="0.4" opacity="0.7"/>
<line x1="277.70" y1="173.54" x2="279.50" y2="173.54" stroke="#4b2a9c" stroke-width="0.4" opacity="0.7"/>
<circle cx="278.60" cy="173.87" r="0.90" fill="#4b2a9c"/>
<line x1="294.40" y1="171.54" x2="294.40" y2="167.54" stroke="#4b2a9c" stroke-width="0.4" opacity="0.7"/>
<line x1="293.50" y1="167.54" x2="295.30" y2="167.54" stroke="#4b2a9c" stroke-width="0.4" opacity="0.7"/>
<circle cx="294.40" cy="169.54" r="0.90" fill="#4b2a9c"/>
<line x1="309.80" y1="165.54" x2="309.80" y2="155.55" stroke="#4b2a9c" stroke-width="0.4" opacity="0.7"/>
<line x1="308.90" y1="155.55" x2="310.70" y2="155.55" stroke="#4b2a9c" stroke-width="0.4" opacity="0.7"/>
<circle cx="309.80" cy="160.55" r="0.90" fill="#4b2a9c"/>
<line x1="325.20" y1="162.21" x2="325.20" y2="155.55" stroke="#4b2a9c" stroke-width="0.4" opacity="0.7"/>
<line x1="324.30" y1="155.55" x2="326.10" y2="155.55" stroke="#4b2a9c" stroke-width="0.4" opacity="0.7"/>
<circle cx="325.20" cy="158.88" r="0.90" fill="#4b2a9c"/>
<line x1="341.00" y1="155.89" x2="341.00" y2="147.90" stroke="#4b2a9c" stroke-width="0.4" opacity="0.7"/>
<line x1="340.10" y1="147.90" x2="341.90" y2="147.90" stroke="#4b2a9c" stroke-width="0.4" opacity="0.7"/>
<circle cx="341.00" cy="151.89" r="0.90" fill="#4b2a9c"/>
<polyline points="263.70,177.20 278.60,173.87 294.40,169.87 309.80,161.22 325.20,157.22 341.00,150.56" fill="none" stroke="#b48cf0" stroke-width="0.9"/>
<circle cx="263.70" cy="177.20" r="0.90" fill="#b48cf0"/>
<line x1="278.60" y1="174.20" x2="278.60" y2="173.54" stroke="#b48cf0" stroke-width="0.4" opacity="0.7"/>
<line x1="277.70" y1="173.54" x2="279.50" y2="173.54" stroke="#b48cf0" stroke-width="0.4" opacity="0.7"/>
<circle cx="278.60" cy="173.87" r="0.90" fill="#b48cf0"/>
<line x1="294.40" y1="171.87" x2="294.40" y2="167.88" stroke="#b48cf0" stroke-width="0.4" opacity="0.7"/>
<line x1="293.50" y1="167.88" x2="295.30" y2="167.88" stroke="#b48cf0" stroke-width="0.4" opacity="0.7"/>
<circle cx="294.40" cy="169.87" r="0.90" fill="#b48cf0"/>
<line x1="309.80" y1="165.21" x2="309.80" y2="157.22" stroke="#b48cf0" stroke-width="0.4" opacity="0.7"/>
<line x1="308.90" y1="157.22" x2="310.70" y2="157.22" stroke="#b48cf0" stroke-width="0.4" opacity="0.7"/>
<circle cx="309.80" cy="161.22" r="0.90" fill="#b48cf0"/>
<line x1="325.20" y1="160.55" x2="325.20" y2="153.89" stroke="#b48cf0" stroke-width="0.4" opacity="0.7"/>
<line x1="324.30" y1="153.89" x2="326.10" y2="153.89" stroke="#b48cf0" stroke-width="0.4" opacity="0.7"/>
<circle cx="325.20" cy="157.22" r="0.90" fill="#b48cf0"/>
<line x1="341.00" y1="154.56" x2="341.00" y2="146.56" stroke="#b48cf0" stroke-width="0.4" opacity="0.7"/>
<line x1="340.10" y1="146.56" x2="341.90" y2="146.56" stroke="#b48cf0" stroke-width="0.4" opacity="0.7"/>
<circle cx="341.00" cy="150.56" r="0.90" fill="#b48cf0"/>
<polyline points="263.70,177.20 278.60,173.87 294.40,174.87 309.80,173.87 325.20,173.54 341.00,172.87" fill="none" stroke="#86d3f2" stroke-width="0.9"/>
<circle cx="263.70" cy="177.20" r="0.90" fill="#86d3f2"/>
<line x1="278.60" y1="174.20" x2="278.60" y2="173.54" stroke="#86d3f2" stroke-width="0.4" opacity="0.7"/>
<line x1="277.70" y1="173.54" x2="279.50" y2="173.54" stroke="#86d3f2" stroke-width="0.4" opacity="0.7"/>
<circle cx="278.60" cy="173.87" r="0.90" fill="#86d3f2"/>
<line x1="294.40" y1="175.53" x2="294.40" y2="174.20" stroke="#86d3f2" stroke-width="0.4" opacity="0.7"/>
<line x1="293.50" y1="174.20" x2="295.30" y2="174.20" stroke="#86d3f2" stroke-width="0.4" opacity="0.7"/>
<circle cx="294.40" cy="174.87" r="0.90" fill="#86d3f2"/>
<line x1="309.80" y1="174.87" x2="309.80" y2="172.87" stroke="#86d3f2" stroke-width="0.4" opacity="0.7"/>
<line x1="308.90" y1="172.87" x2="310.70" y2="172.87" stroke="#86d3f2" stroke-width="0.4" opacity="0.7"/>
<circle cx="309.80" cy="173.87" r="0.90" fill="#86d3f2"/>
<line x1="325.20" y1="174.54" x2="325.20" y2="172.54" stroke="#86d3f2" stroke-width="0.4" opacity="0.7"/>
<line x1="324.30" y1="172.54" x2="326.10" y2="172.54" stroke="#86d3f2" stroke-width="0.4" opacity="0.7"/>
<circle cx="325.20" cy="173.54" r="0.90" fill="#86d3f2"/>
<line x1="341.00" y1="173.87" x2="341.00" y2="171.87" stroke="#86d3f2" stroke-width="0.4" opacity="0.7"/>
<line x1="340.10" y1="171.87" x2="341.90" y2="171.87" stroke="#86d3f2" stroke-width="0.4" opacity="0.7"/>
<circle cx="341.00" cy="172.87" r="0.90" fill="#86d3f2"/>
<polyline points="263.70,177.20 278.60,173.87 294.40,168.54 309.80,156.55 325.20,154.56 341.00,148.56" fill="none" stroke="#222222" stroke-width="0.9"/>
<circle cx="263.70" cy="177.20" r="0.90" fill="#222222"/>
<line x1="278.60" y1="174.20" x2="278.60" y2="173.54" stroke="#222222" stroke-width="0.4" opacity="0.7"/>
<line x1="277.70" y1="173.54" x2="279.50" y2="173.54" stroke="#222222" stroke-width="0.4" opacity="0.7"/>
<circle cx="278.60" cy="173.87" r="0.90" fill="#222222"/>
<line x1="294.40" y1="170.54" x2="294.40" y2="166.54" stroke="#222222" stroke-width="0.4" opacity="0.7"/>
<line x1="293.50" y1="166.54" x2="295.30" y2="166.54" stroke="#222222" stroke-width="0.4" opacity="0.7"/>
<circle cx="294.40" cy="168.54" r="0.90" fill="#222222"/>
<line x1="309.80" y1="161.55" x2="309.80" y2="151.56" stroke="#222222" stroke-width="0.4" opacity="0.7"/>
<line x1="308.90" y1="151.56" x2="310.70" y2="151.56" stroke="#222222" stroke-width="0.4" opacity="0.7"/>
<circle cx="309.80" cy="156.55" r="0.90" fill="#222222"/>
<line x1="325.20" y1="157.89" x2="325.20" y2="151.23" stroke="#222222" stroke-width="0.4" opacity="0.7"/>
<line x1="324.30" y1="151.23" x2="326.10" y2="151.23" stroke="#222222" stroke-width="0.4" opacity="0.7"/>
<circle cx="325.20" cy="154.56" r="0.90" fill="#222222"/>
<line x1="341.00" y1="152.56" x2="341.00" y2="144.57" stroke="#222222" stroke-width="0.4" opacity="0.7"/>
<line x1="340.10" y1="144.57" x2="341.90" y2="144.57" stroke="#222222" stroke-width="0.4" opacity="0.7"/>
<circle cx="341.00" cy="148.56" r="0.90" fill="#222222"/>
<polyline points="263.70,177.20 278.60,173.87 294.40,169.54 309.80,159.88 325.20,153.89 341.00,148.23" fill="none" stroke="#f04a86" stroke-width="0.9"/>
<circle cx="263.70" cy="177.20" r="0.90" fill="#f04a86"/>
<line x1="278.60" y1="174.20" x2="278.60" y2="173.54" stroke="#f04a86" stroke-width="0.4" opacity="0.7"/>
<line x1="277.70" y1="173.54" x2="279.50" y2="173.54" stroke="#f04a86" stroke-width="0.4" opacity="0.7"/>
<circle cx="278.60" cy="173.87" r="0.90" fill="#f04a86"/>
<line x1="294.40" y1="171.54" x2="294.40" y2="167.54" stroke="#f04a86" stroke-width="0.4" opacity="0.7"/>
<line x1="293.50" y1="167.54" x2="295.30" y2="167.54" stroke="#f04a86" stroke-width="0.4" opacity="0.7"/>
<circle cx="294.40" cy="169.54" r="0.90" fill="#f04a86"/>
<line x1="309.80" y1="164.88" x2="309.80" y2="154.89" stroke="#f04a86" stroke-width="0.4" opacity="0.7"/>
<line x1="308.90" y1="154.89" x2="310.70" y2="154.89" stroke="#f04a86" stroke-width="0.4" opacity="0.7"/>
<circle cx="309.80" cy="159.88" r="0.90" fill="#f04a86"/>
<line x1="325.20" y1="157.22" x2="325.20" y2="150.56" stroke="#f04a86" stroke-width="0.4" opacity="0.7"/>
<line x1="324.30" y1="150.56" x2="326.10" y2="150.56" stroke="#f04a86" stroke-width="0.4" opacity="0.7"/>
<circle cx="325.20" cy="153.89" r="0.90" fill="#f04a86"/>
<line x1="341.00" y1="154.89" x2="341.00" y2="141.57" stroke="#f04a86" stroke-width="0.4" opacity="0.7"/>
<line x1="340.10" y1="141.57" x2="341.90" y2="141.57" stroke="#f04a86" stroke-width="0.4" opacity="0.7"/>
<circle cx="341.00" cy="148.23" r="0.90" fill="#f04a86"/>
<line x1="353.00" y1="120.20" x2="358.60" y2="120.20" stroke="#111111" stroke-width="0.8"/>
<circle cx="355.80" cy="120.20" r="1.00" fill="#111111"/>
<text x="361.90" y="122.40" font-size="6.1" text-anchor="start" fill="#1a1a1a">Mock+ Macrophages</text>
<line x1="353.00" y1="127.30" x2="358.60" y2="127.30" stroke="#e8307a" stroke-width="0.8"/>
<circle cx="355.80" cy="127.30" r="1.00" fill="#e8307a"/>
<text x="361.90" y="129.50" font-size="6.1" text-anchor="start" fill="#1a1a1a">Mock+ Trained Macrophages</text>
<line x1="353.00" y1="134.40" x2="358.60" y2="134.40" stroke="#1a9a9a" stroke-width="0.8"/>
<circle cx="355.80" cy="134.40" r="1.00" fill="#1a9a9a"/>
<text x="361.90" y="136.60" font-size="6.1" text-anchor="start" fill="#1a1a1a">Mock+ NK</text>
<line x1="353.00" y1="141.50" x2="358.60" y2="141.50" stroke="#4b2a9c" stroke-width="0.8"/>
<circle cx="355.80" cy="141.50" r="1.00" fill="#4b2a9c"/>
<text x="361.90" y="143.70" font-size="6.1" text-anchor="start" fill="#1a1a1a">Mock+ Trained NK</text>
<line x1="353.00" y1="148.60" x2="358.60" y2="148.60" stroke="#b48cf0" stroke-width="0.8"/>
<circle cx="355.80" cy="148.60" r="1.00" fill="#b48cf0"/>
<text x="361.90" y="150.80" font-size="6.1" text-anchor="start" fill="#1a1a1a">PC+ Macrophages</text>
<line x1="353.00" y1="155.70" x2="358.60" y2="155.70" stroke="#86d3f2" stroke-width="0.8"/>
<circle cx="355.80" cy="155.70" r="1.00" fill="#86d3f2"/>
<text x="361.90" y="157.90" font-size="6.1" text-anchor="start" fill="#1a1a1a">PC+ Trained Macrophages</text>
<line x1="353.00" y1="162.80" x2="358.60" y2="162.80" stroke="#222222" stroke-width="0.8"/>
<circle cx="355.80" cy="162.80" r="1.00" fill="#222222"/>
<text x="361.90" y="165.00" font-size="6.1" text-anchor="start" fill="#1a1a1a">PC+ NK</text>
<line x1="353.00" y1="169.90" x2="358.60" y2="169.90" stroke="#f04a86" stroke-width="0.8"/>
<circle cx="355.80" cy="169.90" r="1.00" fill="#f04a86"/>
<text x="361.90" y="172.10" font-size="6.1" text-anchor="start" fill="#1a1a1a">PC+ Trained NK</text>
<text x="323.70" y="208.09" font-size="5.8" text-anchor="middle" fill="#111" font-weight="bold">Syl peptide</text>
<rect x="263.50" y="212.20" width="14.31" height="14.58" fill="#f9f6a8"/>
<rect x="277.51" y="212.20" width="14.31" height="14.58" fill="#f8f4a0"/>
<rect x="291.52" y="212.20" width="14.31" height="14.58" fill="#fcaa08"/>
<rect x="305.54" y="212.20" width="14.31" height="14.58" fill="#fcfbb0"/>
<rect x="319.55" y="212.20" width="14.31" height="14.58" fill="#fbd040"/>
<rect x="333.56" y="212.20" width="14.31" height="14.58" fill="#050418"/>
<rect x="347.58" y="212.20" width="14.31" height="14.58" fill="#f6e676"/>
<rect x="361.59" y="212.20" width="14.31" height="14.58" fill="#fcc030"/>
<rect x="263.50" y="226.47" width="14.31" height="14.58" fill="#a83c7c"/>
<rect x="277.51" y="226.47" width="14.31" height="14.58" fill="#952e80"/>
<rect x="291.52" y="226.47" width="14.31" height="14.58" fill="#8c2c80"/>
<rect x="305.54" y="226.47" width="14.31" height="14.58" fill="#922e80"/>
<rect x="319.55" y="226.47" width="14.31" height="14.58" fill="#c84866"/>
<rect x="333.56" y="226.47" width="14.31" height="14.58" fill="#000000"/>
<rect x="347.58" y="226.47" width="14.31" height="14.58" fill="#b43c70"/>
<rect x="361.59" y="226.47" width="14.31" height="14.58" fill="#a0347c"/>
<rect x="263.50" y="240.75" width="14.31" height="14.58" fill="#2e1262"/>
<rect x="277.51" y="240.75" width="14.31" height="14.58" fill="#36106a"/>
<rect x="291.52" y="240.75" width="14.31" height="14.58" fill="#6e1e80"/>
<rect x="305.54" y="240.75" width="14.31" height="14.58" fill="#2e1262"/>
<rect x="319.55" y="240.75" width="14.31" height="14.58" fill="#36146c"/>
<rect x="333.56" y="240.75" width="14.31" height="14.58" fill="#fcc830"/>
<rect x="347.58" y="240.75" width="14.31" height="14.58" fill="#2c1058"/>
<rect x="361.59" y="240.75" width="14.31" height="14.58" fill="#5c1a7c"/>
<rect x="263.50" y="255.03" width="14.31" height="14.58" fill="#000000"/>
<rect x="277.51" y="255.03" width="14.31" height="14.58" fill="#04030c"/>
<rect x="291.52" y="255.03" width="14.31" height="14.58" fill="#2c1060"/>
<rect x="305.54" y="255.03" width="14.31" height="14.58" fill="#06040f"/>
<rect x="319.55" y="255.03" width="14.31" height="14.58" fill="#050410"/>
<rect x="333.56" y="255.03" width="14.31" height="14.58" fill="#e8684c"/>
<rect x="347.58" y="255.03" width="14.31" height="14.58" fill="#04030f"/>
<rect x="361.59" y="255.03" width="14.31" height="14.58" fill="#080428"/>
<rect x="263.50" y="212.20" width="112.10" height="57.10" fill="none" stroke="#222" stroke-width="0.5"/>
<defs><linearGradient id="cb4032" x1="0" y1="0" x2="0" y2="1"><stop offset="0.00" stop-color="#fcffa4"/><stop offset="0.05" stop-color="#f9eb75"/><stop offset="0.10" stop-color="#f6d746"/><stop offset="0.15" stop-color="#f9be28"/><stop offset="0.20" stop-color="#fca50a"/><stop offset="0.25" stop-color="#f88e12"/><stop offset="0.30" stop-color="#f37819"/><stop offset="0.35" stop-color="#e86529"/><stop offset="0.40" stop-color="#dd513a"/><stop offset="0.45" stop-color="#cd4447"/><stop offset="0.50" stop-color="#bc3754"/><stop offset="0.55" stop-color="#a72e5e"/><stop offset="0.60" stop-color="#932667"/><stop offset="0.65" stop-color="#7e1e6a"/><stop offset="0.70" stop-color="#6a176e"/><stop offset="0.75" stop-color="#56106b"/><stop offset="0.80" stop-color="#420a68"/><stop offset="0.85" stop-color="#2c0a50"/><stop offset="0.90" stop-color="#160b39"/><stop offset="0.95" stop-color="#0b061f"/><stop offset="1.00" stop-color="#000004"/></linearGradient></defs>
<rect x="382.00" y="212.40" width="7.60" height="56.20" fill="url(#cb4032)" stroke="#222" stroke-width="0.5"/>
<line x1="389.60" y1="214.60" x2="391.10" y2="214.60" stroke="#222" stroke-width="0.5"/>
<text x="391.80" y="216.33" font-size="4.8" text-anchor="start" fill="#111">60</text>
<line x1="389.60" y1="233.30" x2="391.10" y2="233.30" stroke="#222" stroke-width="0.5"/>
<text x="391.80" y="235.03" font-size="4.8" text-anchor="start" fill="#111">40</text>
<line x1="389.60" y1="252.00" x2="391.10" y2="252.00" stroke="#222" stroke-width="0.5"/>
<text x="391.80" y="253.73" font-size="4.8" text-anchor="start" fill="#111">20</text>
<line x1="261.30" y1="219.20" x2="263.50" y2="219.20" stroke="#222" stroke-width="0.6"/>
<text x="260.80" y="221.22" font-size="5.6" text-anchor="end" fill="#111" font-weight="bold">Naive</text>
<line x1="261.30" y1="233.40" x2="263.50" y2="233.40" stroke="#222" stroke-width="0.6"/>
<text x="260.80" y="235.42" font-size="5.6" text-anchor="end" fill="#111" font-weight="bold">CM</text>
<line x1="261.30" y1="247.80" x2="263.50" y2="247.80" stroke="#222" stroke-width="0.6"/>
<text x="260.80" y="249.82" font-size="5.6" text-anchor="end" fill="#111" font-weight="bold">EM</text>
<line x1="261.30" y1="262.00" x2="263.50" y2="262.00" stroke="#222" stroke-width="0.6"/>
<text x="260.80" y="264.02" font-size="5.6" text-anchor="end" fill="#111" font-weight="bold">CTL</text>
<line x1="270.50" y1="269.30" x2="270.50" y2="271.30" stroke="#222" stroke-width="0.6"/>
<text x="271.50" y="275.0" font-size="5.25" font-weight="bold" text-anchor="end" fill="#111" transform="rotate(-45 271.50 275.0)">Mock+ Macrophages</text>
<line x1="284.51" y1="269.30" x2="284.51" y2="271.30" stroke="#222" stroke-width="0.6"/>
<text x="285.51" y="275.0" font-size="5.25" font-weight="bold" text-anchor="end" fill="#111" transform="rotate(-45 285.51 275.0)">Mock+ Trained Macrophages</text>
<line x1="298.52" y1="269.30" x2="298.52" y2="271.30" stroke="#222" stroke-width="0.6"/>
<text x="299.52" y="275.0" font-size="5.25" font-weight="bold" text-anchor="end" fill="#111" transform="rotate(-45 299.52 275.0)">Mock+ NK</text>
<line x1="312.53" y1="269.30" x2="312.53" y2="271.30" stroke="#222" stroke-width="0.6"/>
<text x="313.53" y="275.0" font-size="5.25" font-weight="bold" text-anchor="end" fill="#111" transform="rotate(-45 313.53 275.0)">Mock+ Trained NK</text>
<line x1="326.55" y1="269.30" x2="326.55" y2="271.30" stroke="#222" stroke-width="0.6"/>
<text x="327.55" y="275.0" font-size="5.25" font-weight="bold" text-anchor="end" fill="#111" transform="rotate(-45 327.55 275.0)">PC+ Macrophages</text>
<line x1="340.56" y1="269.30" x2="340.56" y2="271.30" stroke="#222" stroke-width="0.6"/>
<text x="341.56" y="275.0" font-size="5.25" font-weight="bold" text-anchor="end" fill="#111" transform="rotate(-45 341.56 275.0)">PC+ Trained Macrophages</text>
<line x1="354.56" y1="269.30" x2="354.56" y2="271.30" stroke="#222" stroke-width="0.6"/>
<text x="355.56" y="275.0" font-size="5.25" font-weight="bold" text-anchor="end" fill="#111" transform="rotate(-45 355.56 275.0)">PC+ NK</text>
<line x1="368.57" y1="269.30" x2="368.57" y2="271.30" stroke="#222" stroke-width="0.6"/>
<text x="369.57" y="275.0" font-size="5.25" font-weight="bold" text-anchor="end" fill="#111" transform="rotate(-45 369.57 275.0)">PC+ Trained NK</text>
<text x="580.20" y="136.89" font-size="5.8" text-anchor="middle" fill="#111" font-weight="bold">CD8+ INF-γ</text>
<line x1="556.30" y1="151.00" x2="558.50" y2="151.00" stroke="#222" stroke-width="0.6"/>
<text x="555.90" y="153.12" font-size="5.9" text-anchor="end" fill="#111" font-weight="bold">PC+ Trained NK</text>
<rect x="558.50" y="148.40" width="5.40" height="5.20" fill="#f2639c"/>
<circle cx="566.50" cy="151.00" r="0.90" fill="#f2639c"/>
<line x1="556.30" y1="158.66" x2="558.50" y2="158.66" stroke="#222" stroke-width="0.6"/>
<text x="555.90" y="160.78" font-size="5.9" text-anchor="end" fill="#111" font-weight="bold">PC+ NK</text>
<rect x="558.50" y="156.06" width="2.50" height="5.20" fill="#1e1e1e" stroke="#111" stroke-width="0.3"/>
<line x1="556.30" y1="166.32" x2="558.50" y2="166.32" stroke="#222" stroke-width="0.6"/>
<text x="555.90" y="168.44" font-size="5.9" text-anchor="end" fill="#111" font-weight="bold">PC+ Trained Macrophages</text>
<rect x="558.50" y="163.72" width="26.50" height="5.20" fill="#a9def5"/>
<circle cx="593.00" cy="166.32" r="0.90" fill="#56c3ee"/>
<circle cx="597.00" cy="166.32" r="0.90" fill="#56c3ee"/>
<line x1="556.30" y1="173.98" x2="558.50" y2="173.98" stroke="#222" stroke-width="0.6"/>
<text x="555.90" y="176.10" font-size="5.9" text-anchor="end" fill="#111" font-weight="bold">PC+ Macrophages</text>
<rect x="558.50" y="171.38" width="8.50" height="5.20" fill="#c6a6f4"/>
<circle cx="573.00" cy="173.98" r="0.90" fill="#c6a6f4"/>
<line x1="556.30" y1="181.64" x2="558.50" y2="181.64" stroke="#222" stroke-width="0.6"/>
<text x="555.90" y="183.76" font-size="5.9" text-anchor="end" fill="#111" font-weight="bold">Mock+ Trained NK</text>
<rect x="558.50" y="179.04" width="5.40" height="5.20" fill="#6b3db3"/>
<line x1="556.30" y1="189.30" x2="558.50" y2="189.30" stroke="#222" stroke-width="0.6"/>
<text x="555.90" y="191.42" font-size="5.9" text-anchor="end" fill="#111" font-weight="bold">Mock+ NK</text>
<rect x="558.50" y="186.70" width="4.50" height="5.20" fill="#1f9c9c"/>
<line x1="556.30" y1="196.96" x2="558.50" y2="196.96" stroke="#222" stroke-width="0.6"/>
<text x="555.90" y="199.08" font-size="5.9" text-anchor="end" fill="#111" font-weight="bold">Mock+ Trained Macrophages</text>
<rect x="558.50" y="194.36" width="5.00" height="5.20" fill="#f2639c"/>
<circle cx="568.00" cy="196.96" r="0.90" fill="#f2639c"/>
<line x1="556.30" y1="204.62" x2="558.50" y2="204.62" stroke="#222" stroke-width="0.6"/>
<text x="555.90" y="206.74" font-size="5.9" text-anchor="end" fill="#111" font-weight="bold">Mock+ Macrophages</text>
<rect x="558.50" y="202.02" width="3.50" height="5.20" fill="#1e1e1e" stroke="#111" stroke-width="0.3"/>
<circle cx="565.00" cy="204.62" r="0.90" fill="#1e1e1e"/>
<line x1="558.50" y1="147.00" x2="558.50" y2="209.00" stroke="#111" stroke-width="0.8"/>
<line x1="558.10" y1="209.00" x2="600.50" y2="209.00" stroke="#111" stroke-width="0.8"/>
<line x1="558.50" y1="209.00" x2="558.50" y2="211.00" stroke="#111" stroke-width="0.6"/>
<text x="558.50" y="217.06" font-size="4.6" text-anchor="middle" fill="#111" font-weight="bold">0</text>
<line x1="572.90" y1="209.00" x2="572.90" y2="211.00" stroke="#111" stroke-width="0.6"/>
<text x="572.90" y="217.06" font-size="4.6" text-anchor="middle" fill="#111" font-weight="bold">10</text>
<line x1="587.00" y1="209.00" x2="587.00" y2="211.00" stroke="#111" stroke-width="0.6"/>
<text x="587.00" y="217.06" font-size="4.6" text-anchor="middle" fill="#111" font-weight="bold">20</text>
<line x1="600.50" y1="209.00" x2="600.50" y2="211.00" stroke="#111" stroke-width="0.6"/>
<text x="600.50" y="217.06" font-size="4.6" text-anchor="middle" fill="#111" font-weight="bold">30</text>
<text x="579.50" y="225.51" font-size="5.3" text-anchor="middle" fill="#111" font-weight="bold">%CD8+ IFNγ+</text>
<path d="M569.00 151.00 L641.30 151.00 L641.30 165.30 L637.50 165.30" fill="none" stroke="#383838" stroke-width="0.7"/>
<circle cx="647.00" cy="154.80" r="1.20" fill="#111"/>
<circle cx="647.00" cy="158.00" r="1.20" fill="#111"/>
<circle cx="647.00" cy="161.20" r="1.20" fill="#111"/>
<path d="M564.50 158.66 L616.70 158.66 L616.70 165.00 L612.90 165.00" fill="none" stroke="#383838" stroke-width="0.7"/>
<circle cx="621.00" cy="157.00" r="1.20" fill="#111"/>
<circle cx="621.00" cy="160.20" r="1.20" fill="#111"/>
<circle cx="621.00" cy="163.40" r="1.20" fill="#111"/>
<circle cx="621.00" cy="166.60" r="1.20" fill="#111"/>
<path d="M600.00 166.30 L604.30 166.30 L604.30 173.98 L579.70 173.98" fill="none" stroke="#383838" stroke-width="0.7"/>
<circle cx="608.50" cy="169.20" r="1.20" fill="#111"/>
<circle cx="608.50" cy="172.40" r="1.20" fill="#111"/>
<path d="M612.00 167.30 L616.70 167.30 L616.70 196.96 L572.00 196.96" fill="none" stroke="#383838" stroke-width="0.7"/>
<circle cx="621.00" cy="178.60" r="1.20" fill="#111"/>
<circle cx="621.00" cy="181.80" r="1.20" fill="#111"/>
<circle cx="621.00" cy="185.00" r="1.20" fill="#111"/>
<path d="M625.00 166.30 L629.00 166.30 L629.00 181.50 L625.00 181.50" fill="none" stroke="#383838" stroke-width="0.7"/>
<circle cx="633.00" cy="167.90" r="1.20" fill="#111"/>
<circle cx="633.00" cy="171.10" r="1.20" fill="#111"/>
<circle cx="633.00" cy="174.30" r="1.20" fill="#111"/>
<circle cx="633.00" cy="177.50" r="1.20" fill="#111"/>
<path d="M638.50 168.00 L642.30 168.00 L642.30 189.30 L625.60 189.30" fill="none" stroke="#383838" stroke-width="0.7"/>
<circle cx="647.00" cy="175.20" r="1.20" fill="#111"/>
<circle cx="647.00" cy="178.40" r="1.20" fill="#111"/>
<circle cx="647.00" cy="181.60" r="1.20" fill="#111"/>
<path d="M650.80 166.30 L654.60 166.30 L654.60 204.62 L569.00 204.62" fill="none" stroke="#383838" stroke-width="0.7"/>
<circle cx="659.40" cy="182.10" r="1.20" fill="#111"/>
<circle cx="659.40" cy="185.30" r="1.20" fill="#111"/>
<circle cx="659.40" cy="188.50" r="1.20" fill="#111"/>
<text x="583.50" y="236.69" font-size="5.8" text-anchor="middle" fill="#111" font-weight="bold">CD8+ TNF-α</text>
<line x1="560.40" y1="252.00" x2="562.60" y2="252.00" stroke="#222" stroke-width="0.6"/>
<text x="560.00" y="254.12" font-size="5.9" text-anchor="end" fill="#111" font-weight="bold">PC+ Trained NK</text>
<rect x="562.60" y="249.40" width="14.00" height="5.20" fill="#f2639c"/>
<circle cx="578.50" cy="252.00" r="0.90" fill="#f2639c"/>
<line x1="560.40" y1="259.61" x2="562.60" y2="259.61" stroke="#222" stroke-width="0.6"/>
<text x="560.00" y="261.73" font-size="5.9" text-anchor="end" fill="#111" font-weight="bold">PC+ NK</text>
<rect x="562.60" y="257.01" width="7.40" height="5.20" fill="#1e1e1e" stroke="#111" stroke-width="0.3"/>
<circle cx="572.00" cy="259.61" r="0.90" fill="#1e1e1e"/>
<line x1="560.40" y1="267.22" x2="562.60" y2="267.22" stroke="#222" stroke-width="0.6"/>
<text x="560.00" y="269.34" font-size="5.9" text-anchor="end" fill="#111" font-weight="bold">PC+ Trained Macrophages</text>
<rect x="562.60" y="264.62" width="25.20" height="5.20" fill="#a9def5"/>
<circle cx="592.50" cy="267.22" r="0.90" fill="#56c3ee"/>
<circle cx="596.50" cy="267.22" r="0.90" fill="#56c3ee"/>
<line x1="560.40" y1="274.83" x2="562.60" y2="274.83" stroke="#222" stroke-width="0.6"/>
<text x="560.00" y="276.95" font-size="5.9" text-anchor="end" fill="#111" font-weight="bold">PC+ Macrophages</text>
<rect x="562.60" y="272.23" width="4.90" height="5.20" fill="#c6a6f4"/>
<circle cx="570.50" cy="274.83" r="0.90" fill="#c6a6f4"/>
<line x1="560.40" y1="282.44" x2="562.60" y2="282.44" stroke="#222" stroke-width="0.6"/>
<text x="560.00" y="284.56" font-size="5.9" text-anchor="end" fill="#111" font-weight="bold">Mock+ Trained NK</text>
<rect x="562.60" y="279.84" width="11.70" height="5.20" fill="#6b3db3"/>
<line x1="560.40" y1="290.05" x2="562.60" y2="290.05" stroke="#222" stroke-width="0.6"/>
<text x="560.00" y="292.17" font-size="5.9" text-anchor="end" fill="#111" font-weight="bold">Mock+ NK</text>
<rect x="562.60" y="287.45" width="11.10" height="5.20" fill="#1f9c9c"/>
<circle cx="576.20" cy="290.05" r="0.90" fill="#1f9c9c"/>
<line x1="560.40" y1="297.66" x2="562.60" y2="297.66" stroke="#222" stroke-width="0.6"/>
<text x="560.00" y="299.78" font-size="5.9" text-anchor="end" fill="#111" font-weight="bold">Mock+ Trained Macrophages</text>
<rect x="562.60" y="295.06" width="8.80" height="5.20" fill="#f2639c"/>
<line x1="560.40" y1="305.27" x2="562.60" y2="305.27" stroke="#222" stroke-width="0.6"/>
<text x="560.00" y="307.39" font-size="5.9" text-anchor="end" fill="#111" font-weight="bold">Mock+ Macrophages</text>
<rect x="562.60" y="302.67" width="6.90" height="5.20" fill="#1e1e1e" stroke="#111" stroke-width="0.3"/>
<circle cx="576.00" cy="305.27" r="0.90" fill="#1e1e1e"/>
<line x1="562.60" y1="248.00" x2="562.60" y2="310.00" stroke="#111" stroke-width="0.8"/>
<line x1="562.20" y1="310.00" x2="605.10" y2="310.00" stroke="#111" stroke-width="0.8"/>
<line x1="562.60" y1="310.00" x2="562.60" y2="312.00" stroke="#111" stroke-width="0.6"/>
<text x="562.60" y="317.86" font-size="4.6" text-anchor="middle" fill="#111" font-weight="bold">0</text>
<line x1="573.20" y1="310.00" x2="573.20" y2="312.00" stroke="#111" stroke-width="0.6"/>
<text x="573.20" y="317.86" font-size="4.6" text-anchor="middle" fill="#111" font-weight="bold">10</text>
<line x1="583.90" y1="310.00" x2="583.90" y2="312.00" stroke="#111" stroke-width="0.6"/>
<text x="583.90" y="317.86" font-size="4.6" text-anchor="middle" fill="#111" font-weight="bold">20</text>
<line x1="594.50" y1="310.00" x2="594.50" y2="312.00" stroke="#111" stroke-width="0.6"/>
<text x="594.50" y="317.86" font-size="4.6" text-anchor="middle" fill="#111" font-weight="bold">30</text>
<line x1="605.10" y1="310.00" x2="605.10" y2="312.00" stroke="#111" stroke-width="0.6"/>
<text x="605.10" y="317.86" font-size="4.6" text-anchor="middle" fill="#111" font-weight="bold">40</text>
<text x="582.80" y="326.11" font-size="5.3" text-anchor="middle" fill="#111" font-weight="bold">%CD8+ TNF-α+</text>
<path d="M583.90 252.00 L629.20 252.00 L629.20 266.20 L625.30 266.20" fill="none" stroke="#383838" stroke-width="0.7"/>
<circle cx="633.60" cy="259.40" r="1.20" fill="#111"/>
<path d="M612.80 259.61 L616.30 259.61 L616.30 265.20 L612.80 265.20" fill="none" stroke="#383838" stroke-width="0.7"/>
<circle cx="621.50" cy="261.10" r="1.20" fill="#111"/>
<circle cx="621.50" cy="264.30" r="1.20" fill="#111"/>
<path d="M600.30 267.10 L603.20 267.10 L603.20 274.83 L574.30 274.83" fill="none" stroke="#383838" stroke-width="0.7"/>
<circle cx="608.60" cy="266.40" r="1.20" fill="#111"/>
<circle cx="608.60" cy="269.60" r="1.20" fill="#111"/>
<circle cx="608.60" cy="272.80" r="1.20" fill="#111"/>
<circle cx="608.60" cy="276.00" r="1.20" fill="#111"/>
<path d="M612.80 269.10 L616.70 269.10 L616.70 290.05 L579.00 290.05" fill="none" stroke="#383838" stroke-width="0.7"/>
<circle cx="621.50" cy="278.10" r="1.20" fill="#111"/>
<circle cx="621.50" cy="281.30" r="1.20" fill="#111"/>
<path d="M625.30 269.10 L629.20 269.10 L629.20 283.10 L625.30 283.10" fill="none" stroke="#383838" stroke-width="0.7"/>
<circle cx="633.60" cy="273.70" r="1.20" fill="#111"/>
<circle cx="633.60" cy="276.90" r="1.20" fill="#111"/>
<path d="M638.20 266.50 L642.00 266.50 L642.00 297.66 L579.00 297.66" fill="none" stroke="#383838" stroke-width="0.7"/>
<circle cx="646.50" cy="279.10" r="1.20" fill="#111"/>
<circle cx="646.50" cy="282.30" r="1.20" fill="#111"/>
<circle cx="646.50" cy="285.50" r="1.20" fill="#111"/>
<path d="M645.60 266.50 L654.80 266.50 L654.80 305.27 L578.00 305.27" fill="none" stroke="#383838" stroke-width="0.7"/>
<circle cx="659.40" cy="283.00" r="1.20" fill="#111"/>
<circle cx="659.40" cy="286.20" r="1.20" fill="#111"/>
<circle cx="659.40" cy="289.40" r="1.20" fill="#111"/>
<path d="M49.6 343.5 L92.4 343.5 L92.4 375.5 Q92.4 377.2 90.7 377.2 L51.3 377.2 Q49.6 377.2 49.6 375.5 Z" fill="#f8bfd0"/>
<path d="M55.8 343.5 L86.6 343.5 L86.6 367.6 Q86.6 368.6 85.6 368.6 L56.8 368.6 Q55.8 368.6 55.8 367.6 Z" fill="#fbdbe4"/>
<path d="M48.2 329.6 L48.2 376.4 Q48.2 378.8 50.6 378.8 L91.8 378.8 Q94.2 378.8 94.2 376.4 L94.2 329.6 L92.3 329.6 L92.3 375.6 Q92.3 376.9 91.0 376.9 L51.4 376.9 Q50.1 376.9 50.1 375.6 L50.1 329.6 Z" fill="#d3e5e0" stroke="#a6c2ba" stroke-width="0.45"/>
<path d="M54.6 329.6 L54.6 368.0 Q54.6 370.0 56.6 370.0 L86.0 370.0 Q88.0 370.0 88.0 368.0 L88.0 329.6 L86.3 329.6 L86.3 367.4 Q86.3 368.4 85.3 368.4 L57.3 368.4 Q56.3 368.4 56.3 367.4 L56.3 329.6 Z" fill="#d3e5e0" stroke="#a6c2ba" stroke-width="0.45"/>
<rect x="47.40" y="328.60" width="10.00" height="1.60" fill="#d3e5e0" stroke="#a6c2ba" stroke-width="0.45"/>
<rect x="85.20" y="328.60" width="10.00" height="1.60" fill="#d3e5e0" stroke="#a6c2ba" stroke-width="0.45"/>
<circle cx="58.00" cy="368.90" r="0.35" fill="#9fb8b2"/>
<circle cx="59.75" cy="368.90" r="0.35" fill="#9fb8b2"/>
<circle cx="61.50" cy="368.90" r="0.35" fill="#9fb8b2"/>
<circle cx="63.25" cy="368.90" r="0.35" fill="#9fb8b2"/>
<circle cx="65.00" cy="368.90" r="0.35" fill="#9fb8b2"/>
<circle cx="66.75" cy="368.90" r="0.35" fill="#9fb8b2"/>
<circle cx="68.50" cy="368.90" r="0.35" fill="#9fb8b2"/>
<circle cx="70.25" cy="368.90" r="0.35" fill="#9fb8b2"/>
<circle cx="72.00" cy="368.90" r="0.35" fill="#9fb8b2"/>
<circle cx="73.75" cy="368.90" r="0.35" fill="#9fb8b2"/>
<circle cx="75.50" cy="368.90" r="0.35" fill="#9fb8b2"/>
<circle cx="77.25" cy="368.90" r="0.35" fill="#9fb8b2"/>
<circle cx="79.00" cy="368.90" r="0.35" fill="#9fb8b2"/>
<circle cx="80.75" cy="368.90" r="0.35" fill="#9fb8b2"/>
<circle cx="82.50" cy="368.90" r="0.35" fill="#9fb8b2"/>
<circle cx="84.25" cy="368.90" r="0.35" fill="#9fb8b2"/>
<circle cx="61.50" cy="345.20" r="1.25" fill="#b9e6b0"/>
<circle cx="61.50" cy="345.20" r="0.60" fill="#86cf84"/>
<circle cx="69.20" cy="345.20" r="1.25" fill="#b9e6b0"/>
<circle cx="69.20" cy="345.20" r="0.60" fill="#86cf84"/>
<circle cx="79.00" cy="345.20" r="1.25" fill="#b9e6b0"/>
<circle cx="79.00" cy="345.20" r="0.60" fill="#86cf84"/>
<circle cx="60.50" cy="351.00" r="1.25" fill="#b9e6b0"/>
<circle cx="60.50" cy="351.00" r="0.60" fill="#86cf84"/>
<circle cx="65.30" cy="352.00" r="1.25" fill="#b9e6b0"/>
<circle cx="65.30" cy="352.00" r="0.60" fill="#86cf84"/>
<circle cx="70.20" cy="350.70" r="1.25" fill="#b9e6b0"/>
<circle cx="70.20" cy="350.70" r="0.60" fill="#86cf84"/>
<circle cx="76.50" cy="350.00" r="1.25" fill="#b9e6b0"/>
<circle cx="76.50" cy="350.00" r="0.60" fill="#86cf84"/>
<circle cx="82.60" cy="350.00" r="1.25" fill="#b9e6b0"/>
<circle cx="82.60" cy="350.00" r="0.60" fill="#86cf84"/>
<circle cx="63.60" cy="356.30" r="1.25" fill="#b9e6b0"/>
<circle cx="63.60" cy="356.30" r="0.60" fill="#86cf84"/>
<circle cx="70.80" cy="356.30" r="1.25" fill="#b9e6b0"/>
<circle cx="70.80" cy="356.30" r="0.60" fill="#86cf84"/>
<circle cx="77.60" cy="356.30" r="1.25" fill="#b9e6b0"/>
<circle cx="77.60" cy="356.30" r="0.60" fill="#86cf84"/>
<circle cx="60.00" cy="359.70" r="1.25" fill="#b9e6b0"/>
<circle cx="60.00" cy="359.70" r="0.60" fill="#86cf84"/>
<circle cx="67.00" cy="360.30" r="1.25" fill="#b9e6b0"/>
<circle cx="67.00" cy="360.30" r="0.60" fill="#86cf84"/>
<circle cx="74.00" cy="360.00" r="1.25" fill="#b9e6b0"/>
<circle cx="74.00" cy="360.00" r="0.60" fill="#86cf84"/>
<circle cx="81.30" cy="360.00" r="1.25" fill="#b9e6b0"/>
<circle cx="81.30" cy="360.00" r="0.60" fill="#86cf84"/>
<path d="M52.50 371.00 L55.10 371.0 L53.80 373.2 Z" fill="#e2647a"/>
<circle cx="53.80" cy="371.20" r="0.90" fill="#e2647a"/>
<path d="M64.10 371.00 L66.70 371.0 L65.40 373.2 Z" fill="#e2647a"/>
<circle cx="65.40" cy="371.20" r="0.90" fill="#e2647a"/>
<path d="M75.10 371.00 L77.70 371.0 L76.40 373.2 Z" fill="#e2647a"/>
<circle cx="76.40" cy="371.20" r="0.90" fill="#e2647a"/>
<path d="M56.5 376.6 Q59 373.6 62 375.4 Q64.5 376.4 66.5 374.6 Q69 373.2 71.5 375.4 Q74 376.4 76 374.6 Q79 373.0 81 375.2 Q83 376.2 85.2 376.6 Z" fill="#8e9ddf"/>
<line x1="46.30" y1="357.80" x2="61.40" y2="357.80" stroke="#777" stroke-width="0.4"/>
<line x1="37.00" y1="371.40" x2="52.10" y2="371.40" stroke="#555" stroke-width="0.4"/>
<line x1="85.70" y1="375.10" x2="99.50" y2="375.10" stroke="#aaa" stroke-width="0.4"/>
<text x="37.20" y="354.22" font-size="4.5" text-anchor="middle" fill="#222">CFSE</text>
<text x="37.20" y="359.22" font-size="4.5" text-anchor="middle" fill="#222">Labelled</text>
<text x="37.20" y="364.22" font-size="4.5" text-anchor="middle" fill="#222">NK cells</text>
<text x="15.00" y="372.85" font-size="4.3" text-anchor="start" fill="#222">Adenovirus</text>
<text x="100.20" y="376.35" font-size="4.3" text-anchor="start" fill="#333">Macrophages</text>
<text x="76.50" y="391.19" font-size="4.7" text-anchor="middle" fill="#111" font-weight="bold">Mθ-NK</text>
<line x1="48.50" y1="398.30" x2="48.50" y2="450.60" stroke="#111" stroke-width="0.8"/>
<line x1="48.20" y1="450.30" x2="103.50" y2="450.30" stroke="#111" stroke-width="0.8"/>
<line x1="46.50" y1="450.30" x2="48.50" y2="450.30" stroke="#111" stroke-width="0.6"/>
<text x="46.10" y="451.74" font-size="4.0" text-anchor="end" fill="#111" font-weight="bold">0</text>
<line x1="46.50" y1="433.10" x2="48.50" y2="433.10" stroke="#111" stroke-width="0.6"/>
<text x="46.10" y="434.54" font-size="4.0" text-anchor="end" fill="#111" font-weight="bold">50</text>
<line x1="46.50" y1="415.90" x2="48.50" y2="415.90" stroke="#111" stroke-width="0.6"/>
<text x="46.10" y="417.34" font-size="4.0" text-anchor="end" fill="#111" font-weight="bold">100</text>
<line x1="46.50" y1="398.70" x2="48.50" y2="398.70" stroke="#111" stroke-width="0.6"/>
<text x="46.10" y="400.14" font-size="4.0" text-anchor="end" fill="#111" font-weight="bold">150</text>
<text x="32.80" y="426.01" font-size="4.2" text-anchor="middle" fill="#111" font-weight="bold" transform="rotate(-90 32.80 424.50)">Absolute number (cells/ul)</text>
<rect x="54.00" y="443.08" width="10.90" height="7.22" fill="#777777" stroke="#111" stroke-width="0.6"/>
<line x1="59.45" y1="443.08" x2="59.45" y2="441.70" stroke="#111" stroke-width="0.5"/>
<line x1="57.95" y1="441.70" x2="60.95" y2="441.70" stroke="#111" stroke-width="0.5"/>
<circle cx="57.00" cy="443.30" r="0.80" fill="#111"/>
<circle cx="60.00" cy="442.70" r="0.80" fill="#111"/>
<circle cx="62.00" cy="441.40" r="0.80" fill="#111"/>
<rect x="71.00" y="407.30" width="11.40" height="43.00" fill="#f37ca6" stroke="#e0407a" stroke-width="0.6"/>
<line x1="76.70" y1="407.30" x2="76.70" y2="405.58" stroke="#e0407a" stroke-width="0.5"/>
<line x1="75.20" y1="405.58" x2="78.20" y2="405.58" stroke="#e0407a" stroke-width="0.5"/>
<circle cx="74.50" cy="406.00" r="0.80" fill="#e0407a"/>
<circle cx="76.50" cy="404.40" r="0.80" fill="#e0407a"/>
<circle cx="79.30" cy="407.50" r="0.80" fill="#e0407a"/>
<rect x="88.30" y="442.39" width="11.00" height="7.91" fill="#5cc3c3" stroke="#2a9a9a" stroke-width="0.6"/>
<line x1="93.80" y1="442.39" x2="93.80" y2="441.01" stroke="#2a9a9a" stroke-width="0.5"/>
<line x1="92.30" y1="441.01" x2="95.30" y2="441.01" stroke="#2a9a9a" stroke-width="0.5"/>
<circle cx="91.00" cy="442.20" r="0.80" fill="#2a9a9a"/>
<circle cx="93.00" cy="441.00" r="0.80" fill="#2a9a9a"/>
<circle cx="96.00" cy="443.00" r="0.80" fill="#2a9a9a"/>
<line x1="59.40" y1="450.30" x2="59.40" y2="452.10" stroke="#111" stroke-width="0.6"/>
<text x="60.20" y="454.6" font-size="4.95" font-weight="bold" text-anchor="end" fill="#111" transform="rotate(-45 60.20 454.6)">Mock</text>
<line x1="76.70" y1="450.30" x2="76.70" y2="452.10" stroke="#111" stroke-width="0.6"/>
<text x="77.50" y="454.6" font-size="4.95" font-weight="bold" text-anchor="end" fill="#111" transform="rotate(-45 77.50 454.6)">Trainde PC</text>
<line x1="93.80" y1="450.30" x2="93.80" y2="452.10" stroke="#111" stroke-width="0.6"/>
<text x="94.60" y="454.6" font-size="4.95" font-weight="bold" text-anchor="end" fill="#111" transform="rotate(-45 94.60 454.6)">Trainde+ PC CXCL3 ab</text>
<defs>
<filter id="bl1" x="-5%" y="-5%" width="110%" height="110%"><feGaussianBlur stdDeviation="0.55"/></filter>
<filter id="bl2" x="-5%" y="-5%" width="110%" height="110%"><feGaussianBlur stdDeviation="0.7"/></filter>
<filter id="bl4" x="-10%" y="-10%" width="120%" height="120%"><feGaussianBlur stdDeviation="3"/></filter>
<clipPath id="ck1"><rect x="186.2" y="341" width="97.6" height="73.6"/></clipPath>
<clipPath id="ck2"><rect x="186.2" y="416.1" width="97.6" height="73.2"/></clipPath>
<clipPath id="cm1"><rect x="446.2" y="376.7" width="98.8" height="73.6"/></clipPath>
<clipPath id="cm2"><rect x="570.9" y="376.7" width="97.5" height="73.5"/></clipPath>
</defs>
<text x="154.60" y="374.34" font-size="6.5" text-anchor="middle" fill="#111" font-weight="bold">Trained+PC</text>
<text x="156.00" y="432.94" font-size="6.5" text-anchor="middle" fill="#111" font-weight="bold">Mock</text>
<g clip-path="url(#ck1)">
<rect x="186.20" y="341.00" width="97.60" height="73.60" fill="#a6a6a6"/>
<ellipse cx="215" cy="372" rx="30" ry="25" fill="#909090" filter="url(#bl4)" opacity="0.6"/>
<ellipse cx="262" cy="390" rx="25" ry="20" fill="#b0b0b0" filter="url(#bl4)" opacity="0.6"/>
<path d="M186.7 348.7h1.0v1.0h-1.0zM252.7 350.8h0.7v0.7h-0.7zM208.3 395.9h0.8v0.8h-0.8zM258.2 389.0h0.8v0.8h-0.8zM238.0 373.2h1.0v1.0h-1.0zM283.3 347.5h0.6v0.6h-0.6zM277.7 370.0h0.8v0.8h-0.8zM217.6 366.9h1.5v1.5h-1.5zM206.0 356.3h1.2v1.2h-1.2zM239.0 409.9h1.4v1.4h-1.4zM220.1 355.2h1.4v1.4h-1.4zM282.3 342.6h1.3v1.3h-1.3zM270.7 388.1h0.8v0.8h-0.8zM263.7 393.9h0.8v0.8h-0.8zM248.5 356.7h0.7v0.7h-0.7zM218.4 364.9h1.0v1.0h-1.0zM248.6 401.3h1.5v1.5h-1.5zM281.0 412.9h1.3v1.3h-1.3zM215.4 353.3h1.2v1.2h-1.2zM239.1 389.9h0.7v0.7h-0.7zM204.3 407.6h1.2v1.2h-1.2zM253.7 347.5h1.0v1.0h-1.0zM274.4 387.6h1.5v1.5h-1.5zM204.6 373.5h1.4v1.4h-1.4zM229.0 398.0h1.1v1.1h-1.1zM196.8 347.5h1.5v1.5h-1.5zM197.2 354.7h0.9v0.9h-0.9zM255.4 402.8h1.1v1.1h-1.1zM234.4 398.1h0.9v0.9h-0.9zM221.9 385.1h1.2v1.2h-1.2zM189.4 348.8h0.8v0.8h-0.8zM256.3 390.8h1.5v1.5h-1.5zM260.6 358.9h1.3v1.3h-1.3zM282.2 366.1h0.6v0.6h-0.6zM222.4 361.2h0.8v0.8h-0.8zM189.7 349.4h1.4v1.4h-1.4zM190.5 385.4h0.8v0.8h-0.8zM204.5 400.5h0.9v0.9h-0.9zM203.4 373.6h1.3v1.3h-1.3zM236.9 403.3h1.0v1.0h-1.0zM236.8 392.8h1.0v1.0h-1.0zM255.9 374.7h0.8v0.8h-0.8zM197.5 397.5h1.3v1.3h-1.3zM277.8 390.8h1.2v1.2h-1.2zM201.9 402.9h0.7v0.7h-0.7zM227.2 350.8h1.0v1.0h-1.0zM215.5 371.4h1.3v1.3h-1.3zM238.4 358.1h1.3v1.3h-1.3zM257.7 401.1h0.7v0.7h-0.7zM245.8 405.9h0.9v0.9h-0.9zM205.3 399.9h1.0v1.0h-1.0zM224.8 400.2h1.0v1.0h-1.0zM205.0 356.2h0.9v0.9h-0.9zM253.7 367.2h1.3v1.3h-1.3zM191.9 358.6h1.2v1.2h-1.2zM232.3 376.8h1.5v1.5h-1.5zM212.9 353.9h0.7v0.7h-0.7zM232.8 362.2h1.1v1.1h-1.1zM186.1 340.5h1.0v1.0h-1.0zM259.5 362.2h1.5v1.5h-1.5zM242.1 369.8h1.3v1.3h-1.3zM208.2 384.5h1.4v1.4h-1.4zM238.7 364.0h0.7v0.7h-0.7zM241.8 354.2h1.0v1.0h-1.0zM238.5 409.1h1.2v1.2h-1.2zM236.4 403.2h0.9v0.9h-0.9zM223.4 389.9h1.1v1.1h-1.1zM207.0 370.3h1.4v1.4h-1.4zM209.4 392.2h0.7v0.7h-0.7zM279.1 390.5h0.9v0.9h-0.9zM282.0 398.8h0.7v0.7h-0.7zM209.6 376.1h1.5v1.5h-1.5zM199.3 344.0h0.9v0.9h-0.9zM189.8 370.3h1.1v1.1h-1.1zM228.8 351.0h0.7v0.7h-0.7zM264.1 372.6h1.1v1.1h-1.1zM232.1 390.3h1.4v1.4h-1.4zM266.6 393.6h0.9v0.9h-0.9zM201.8 346.9h1.4v1.4h-1.4zM190.9 381.8h1.4v1.4h-1.4zM217.1 368.9h1.0v1.0h-1.0zM277.9 390.3h1.4v1.4h-1.4zM189.3 393.8h1.0v1.0h-1.0zM224.7 400.0h1.3v1.3h-1.3zM274.5 394.2h1.4v1.4h-1.4zM227.3 380.9h1.3v1.3h-1.3zM229.9 350.4h1.2v1.2h-1.2zM271.0 404.2h0.7v0.7h-0.7zM222.9 357.2h0.9v0.9h-0.9zM279.6 371.3h0.9v0.9h-0.9zM212.1 372.5h1.2v1.2h-1.2zM219.2 354.2h0.8v0.8h-0.8zM211.1 406.8h0.8v0.8h-0.8zM259.2 348.2h1.3v1.3h-1.3zM211.6 397.4h1.0v1.0h-1.0zM193.0 347.2h1.3v1.3h-1.3zM238.6 376.0h0.9v0.9h-0.9zM253.4 375.9h0.7v0.7h-0.7zM244.2 363.2h1.4v1.4h-1.4zM239.4 397.1h0.7v0.7h-0.7zM254.6 384.9h1.4v1.4h-1.4zM272.1 380.7h1.2v1.2h-1.2zM260.6 359.7h1.1v1.1h-1.1zM262.6 383.8h1.1v1.1h-1.1zM269.4 411.8h0.9v0.9h-0.9zM193.0 385.4h0.8v0.8h-0.8zM280.5 375.1h1.1v1.1h-1.1zM265.7 404.1h0.8v0.8h-0.8zM229.9 353.6h1.0v1.0h-1.0zM198.6 404.5h1.0v1.0h-1.0zM223.5 405.8h1.4v1.4h-1.4zM218.3 376.9h1.2v1.2h-1.2zM203.7 350.2h1.4v1.4h-1.4zM201.2 392.0h1.3v1.3h-1.3zM243.3 365.5h1.4v1.4h-1.4zM262.4 345.5h1.4v1.4h-1.4zM248.0 361.7h0.8v0.8h-0.8zM194.9 399.5h1.4v1.4h-1.4zM219.7 353.8h0.7v0.7h-0.7zM226.2 362.4h0.7v0.7h-0.7zM214.8 400.6h0.7v0.7h-0.7zM225.2 378.2h0.8v0.8h-0.8zM189.2 346.0h0.8v0.8h-0.8zM280.9 403.3h1.3v1.3h-1.3zM273.7 364.3h0.9v0.9h-0.9zM270.5 384.5h1.5v1.5h-1.5zM220.5 370.5h1.3v1.3h-1.3zM272.0 352.7h0.9v0.9h-0.9zM186.6 381.1h1.5v1.5h-1.5zM241.0 351.2h1.3v1.3h-1.3zM249.0 348.0h1.5v1.5h-1.5zM250.2 376.3h0.9v0.9h-0.9zM201.2 374.7h1.0v1.0h-1.0zM208.2 387.6h1.2v1.2h-1.2zM279.0 411.2h1.0v1.0h-1.0zM255.7 367.9h1.0v1.0h-1.0zM241.2 412.3h0.7v0.7h-0.7zM230.7 364.9h1.4v1.4h-1.4zM278.8 375.1h0.7v0.7h-0.7zM243.6 383.3h1.2v1.2h-1.2zM261.5 374.3h1.1v1.1h-1.1zM260.8 342.6h0.8v0.8h-0.8zM252.6 411.6h1.5v1.5h-1.5zM213.2 411.5h0.9v0.9h-0.9zM229.8 352.0h1.2v1.2h-1.2zM223.6 390.3h1.5v1.5h-1.5zM197.9 388.4h1.2v1.2h-1.2zM212.1 342.8h1.5v1.5h-1.5zM253.8 386.3h0.7v0.7h-0.7zM273.7 369.6h1.0v1.0h-1.0zM239.8 372.8h1.5v1.5h-1.5zM231.1 389.8h1.3v1.3h-1.3zM277.0 353.0h0.9v0.9h-0.9zM278.6 384.8h1.0v1.0h-1.0zM271.9 349.2h0.9v0.9h-0.9zM192.2 389.4h1.1v1.1h-1.1zM215.4 372.7h0.9v0.9h-0.9zM255.0 396.0h1.0v1.0h-1.0zM270.6 343.7h1.1v1.1h-1.1zM200.5 349.0h1.1v1.1h-1.1zM194.1 346.0h0.8v0.8h-0.8zM222.5 401.2h0.9v0.9h-0.9zM197.3 396.4h1.4v1.4h-1.4zM283.2 344.2h0.8v0.8h-0.8zM227.9 412.8h1.1v1.1h-1.1zM272.1 356.8h1.1v1.1h-1.1zM252.8 357.0h1.1v1.1h-1.1zM266.2 399.9h1.3v1.3h-1.3zM266.6 413.1h1.2v1.2h-1.2zM210.1 356.9h0.7v0.7h-0.7zM275.5 382.1h1.2v1.2h-1.2zM271.0 390.9h1.0v1.0h-1.0zM243.0 346.6h0.9v0.9h-0.9zM219.1 398.4h1.2v1.2h-1.2zM244.7 369.4h0.9v0.9h-0.9zM223.2 344.2h1.0v1.0h-1.0zM274.7 400.1h0.9v0.9h-0.9zM234.5 395.0h0.8v0.8h-0.8zM220.5 383.4h0.8v0.8h-0.8zM274.4 341.7h1.4v1.4h-1.4zM251.1 369.6h0.9v0.9h-0.9zM270.7 392.5h0.8v0.8h-0.8zM216.5 347.2h1.2v1.2h-1.2zM226.9 363.6h1.3v1.3h-1.3zM210.2 350.7h1.3v1.3h-1.3zM272.3 399.4h1.1v1.1h-1.1zM256.0 403.7h0.7v0.7h-0.7zM214.7 366.3h1.3v1.3h-1.3zM218.5 396.3h0.9v0.9h-0.9zM278.2 372.2h1.2v1.2h-1.2zM247.0 400.4h1.1v1.1h-1.1zM206.2 372.6h1.1v1.1h-1.1zM192.7 401.1h0.9v0.9h-0.9zM275.5 367.4h1.5v1.5h-1.5zM256.1 369.1h1.3v1.3h-1.3zM185.4 346.6h1.2v1.2h-1.2zM215.5 370.1h1.3v1.3h-1.3zM231.7 385.0h1.3v1.3h-1.3zM267.2 348.0h1.4v1.4h-1.4zM258.5 357.2h0.7v0.7h-0.7zM204.4 347.0h1.1v1.1h-1.1zM283.1 376.0h0.9v0.9h-0.9zM202.1 411.5h1.1v1.1h-1.1zM208.9 407.0h1.0v1.0h-1.0zM282.1 377.9h0.9v0.9h-0.9zM203.6 341.5h1.4v1.4h-1.4zM217.4 393.5h1.4v1.4h-1.4zM224.8 377.6h1.3v1.3h-1.3zM248.6 367.1h0.8v0.8h-0.8zM213.3 341.9h1.2v1.2h-1.2zM248.3 397.0h1.0v1.0h-1.0zM257.0 381.1h1.4v1.4h-1.4zM239.4 389.5h1.2v1.2h-1.2zM205.2 345.9h1.4v1.4h-1.4zM253.1 377.5h1.5v1.5h-1.5zM203.3 393.9h1.1v1.1h-1.1zM196.0 350.1h0.7v0.7h-0.7zM204.0 397.2h1.1v1.1h-1.1zM189.9 376.3h1.5v1.5h-1.5zM262.6 362.4h1.1v1.1h-1.1zM221.4 357.3h1.2v1.2h-1.2zM187.5 374.8h1.5v1.5h-1.5zM259.4 388.2h1.4v1.4h-1.4zM278.6 360.0h1.5v1.5h-1.5zM273.2 376.7h0.8v0.8h-0.8zM237.5 376.5h1.5v1.5h-1.5zM209.4 392.8h1.3v1.3h-1.3zM244.2 361.0h1.4v1.4h-1.4zM210.3 402.9h1.4v1.4h-1.4zM237.6 344.4h0.9v0.9h-0.9zM192.0 354.1h1.0v1.0h-1.0zM241.9 399.4h0.7v0.7h-0.7zM258.3 348.4h1.3v1.3h-1.3zM186.3 366.3h1.5v1.5h-1.5zM271.2 344.4h1.0v1.0h-1.0zM275.1 353.4h1.0v1.0h-1.0zM211.1 362.1h1.1v1.1h-1.1zM198.9 351.5h1.5v1.5h-1.5zM260.3 384.2h0.8v0.8h-0.8zM198.4 385.8h1.2v1.2h-1.2zM186.5 410.9h1.0v1.0h-1.0zM211.6 386.7h1.5v1.5h-1.5zM219.9 377.9h0.7v0.7h-0.7zM231.0 405.8h1.5v1.5h-1.5zM219.5 403.1h1.5v1.5h-1.5zM215.3 403.0h0.9v0.9h-0.9zM279.8 406.0h1.5v1.5h-1.5zM225.3 390.5h1.3v1.3h-1.3zM242.5 344.1h1.2v1.2h-1.2zM264.0 387.2h1.4v1.4h-1.4zM279.9 387.3h1.0v1.0h-1.0zM235.3 353.9h0.8v0.8h-0.8zM281.4 372.7h1.1v1.1h-1.1zM272.6 398.9h0.7v0.7h-0.7zM226.0 379.4h0.8v0.8h-0.8zM260.3 385.5h1.4v1.4h-1.4zM198.8 354.2h0.9v0.9h-0.9zM236.2 359.0h1.1v1.1h-1.1zM219.2 344.8h1.4v1.4h-1.4zM238.5 406.2h1.1v1.1h-1.1zM269.7 384.9h1.1v1.1h-1.1zM277.3 366.6h1.5v1.5h-1.5zM243.3 409.9h0.7v0.7h-0.7zM238.2 363.3h1.4v1.4h-1.4zM274.8 403.3h1.0v1.0h-1.0zM192.8 411.7h0.8v0.8h-0.8zM266.3 383.6h1.3v1.3h-1.3zM254.8 357.8h1.0v1.0h-1.0zM223.1 391.7h1.2v1.2h-1.2zM282.6 379.8h0.9v0.9h-0.9zM197.2 372.7h1.2v1.2h-1.2zM253.0 342.6h0.8v0.8h-0.8zM247.6 397.6h1.5v1.5h-1.5zM199.0 393.6h1.0v1.0h-1.0zM243.4 390.4h1.0v1.0h-1.0zM245.1 411.2h0.6v0.6h-0.6zM239.3 413.3h1.4v1.4h-1.4zM209.8 397.4h1.5v1.5h-1.5zM225.7 380.7h0.9v0.9h-0.9zM283.1 353.8h1.3v1.3h-1.3zM282.3 411.5h1.4v1.4h-1.4zM227.8 408.8h1.4v1.4h-1.4zM226.8 367.9h0.9v0.9h-0.9zM217.3 382.2h1.0v1.0h-1.0zM279.4 340.5h1.2v1.2h-1.2zM227.4 413.1h1.5v1.5h-1.5zM255.5 393.8h1.0v1.0h-1.0zM253.7 358.1h1.4v1.4h-1.4zM241.9 357.5h0.8v0.8h-0.8zM223.5 365.6h1.2v1.2h-1.2zM231.0 343.0h0.9v0.9h-0.9zM229.7 412.5h1.5v1.5h-1.5zM246.0 411.0h0.8v0.8h-0.8zM205.8 351.6h0.9v0.9h-0.9zM212.8 379.7h1.4v1.4h-1.4zM220.1 364.1h1.1v1.1h-1.1zM278.2 377.2h1.5v1.5h-1.5zM215.6 380.7h1.2v1.2h-1.2zM256.2 401.7h0.7v0.7h-0.7zM205.5 348.1h1.3v1.3h-1.3zM234.1 376.7h0.7v0.7h-0.7zM264.1 411.5h0.6v0.6h-0.6zM282.5 376.0h0.7v0.7h-0.7zM188.2 391.5h1.4v1.4h-1.4zM225.9 404.1h0.6v0.6h-0.6zM270.8 352.2h0.8v0.8h-0.8zM218.2 364.4h1.4v1.4h-1.4zM234.8 371.6h1.4v1.4h-1.4zM227.8 363.3h0.9v0.9h-0.9zM242.3 406.7h1.5v1.5h-1.5zM187.6 367.1h1.3v1.3h-1.3zM233.9 394.0h1.5v1.5h-1.5zM190.1 391.4h0.8v0.8h-0.8zM249.6 354.5h0.8v0.8h-0.8zM268.5 388.2h1.2v1.2h-1.2zM227.8 359.3h0.7v0.7h-0.7zM278.3 398.2h1.3v1.3h-1.3zM193.2 341.4h1.1v1.1h-1.1zM195.4 385.3h0.9v0.9h-0.9zM261.7 352.5h1.1v1.1h-1.1zM225.9 357.5h0.9v0.9h-0.9zM204.2 362.6h1.0v1.0h-1.0zM223.7 388.4h1.4v1.4h-1.4zM234.9 355.0h1.1v1.1h-1.1zM200.4 402.1h0.6v0.6h-0.6zM213.1 408.1h1.2v1.2h-1.2zM219.1 343.2h0.8v0.8h-0.8zM267.4 346.0h1.3v1.3h-1.3zM201.6 395.9h0.7v0.7h-0.7zM198.0 354.6h1.5v1.5h-1.5zM187.0 375.1h1.4v1.4h-1.4zM251.6 341.5h1.2v1.2h-1.2zM215.9 356.8h0.8v0.8h-0.8zM196.5 381.4h1.3v1.3h-1.3zM273.6 387.1h1.0v1.0h-1.0zM274.8 352.6h1.5v1.5h-1.5zM281.6 379.8h1.3v1.3h-1.3zM245.9 391.3h1.2v1.2h-1.2zM253.1 389.9h1.1v1.1h-1.1zM204.0 364.9h0.9v0.9h-0.9zM252.7 350.1h1.3v1.3h-1.3zM231.8 407.9h1.0v1.0h-1.0zM258.9 351.2h0.8v0.8h-0.8zM269.1 400.5h0.8v0.8h-0.8zM226.9 396.3h0.7v0.7h-0.7zM252.2 391.0h1.5v1.5h-1.5zM283.4 397.2h0.7v0.7h-0.7zM265.7 352.3h0.9v0.9h-0.9zM265.4 376.6h1.0v1.0h-1.0zM272.3 402.4h0.9v0.9h-0.9zM267.4 412.8h1.2v1.2h-1.2zM207.1 379.3h1.1v1.1h-1.1zM213.6 394.9h0.7v0.7h-0.7zM202.2 409.9h0.9v0.9h-0.9zM199.8 397.4h1.4v1.4h-1.4zM228.9 376.3h0.6v0.6h-0.6zM186.7 406.2h1.5v1.5h-1.5zM255.9 390.7h1.0v1.0h-1.0zM215.1 393.5h1.3v1.3h-1.3zM193.8 349.2h0.7v0.7h-0.7zM254.8 375.9h0.7v0.7h-0.7zM234.5 408.8h1.3v1.3h-1.3zM257.3 387.3h0.8v0.8h-0.8zM238.6 372.8h1.5v1.5h-1.5zM188.1 342.4h0.7v0.7h-0.7zM192.6 363.5h1.2v1.2h-1.2zM259.5 399.6h0.7v0.7h-0.7zM226.2 383.4h0.9v0.9h-0.9zM212.2 353.1h0.9v0.9h-0.9zM195.0 413.3h1.3v1.3h-1.3zM278.6 345.1h0.7v0.7h-0.7zM249.5 411.8h1.0v1.0h-1.0zM216.4 369.7h0.6v0.6h-0.6zM205.5 351.5h0.8v0.8h-0.8zM280.7 387.9h1.4v1.4h-1.4zM227.1 379.5h1.0v1.0h-1.0zM230.9 398.1h1.2v1.2h-1.2zM200.6 359.7h1.2v1.2h-1.2zM235.5 379.9h0.7v0.7h-0.7zM213.4 372.4h1.4v1.4h-1.4zM280.9 346.9h1.0v1.0h-1.0zM203.8 370.6h1.2v1.2h-1.2zM257.5 383.2h1.2v1.2h-1.2zM243.6 353.9h0.8v0.8h-0.8zM233.9 345.8h1.0v1.0h-1.0zM246.5 404.0h1.5v1.5h-1.5zM241.9 350.8h1.1v1.1h-1.1zM252.0 356.2h1.4v1.4h-1.4zM204.1 387.5h1.5v1.5h-1.5zM268.9 395.7h0.9v0.9h-0.9zM226.2 405.6h1.1v1.1h-1.1zM205.6 365.4h0.7v0.7h-0.7zM279.3 368.1h1.1v1.1h-1.1zM191.5 386.2h0.8v0.8h-0.8zM205.3 396.8h1.1v1.1h-1.1zM240.3 360.4h0.7v0.7h-0.7zM217.9 368.3h1.4v1.4h-1.4zM255.6 373.9h1.1v1.1h-1.1zM254.4 394.8h1.3v1.3h-1.3zM213.5 369.3h0.9v0.9h-0.9zM222.4 400.7h1.0v1.0h-1.0zM190.1 394.4h0.9v0.9h-0.9zM255.1 407.1h1.4v1.4h-1.4zM240.4 341.5h1.4v1.4h-1.4zM190.5 378.8h0.7v0.7h-0.7zM192.2 403.1h1.2v1.2h-1.2zM245.9 354.0h0.9v0.9h-0.9zM215.1 399.4h0.8v0.8h-0.8zM242.9 402.9h0.7v0.7h-0.7zM225.0 358.6h1.2v1.2h-1.2zM217.8 410.7h0.9v0.9h-0.9zM269.9 369.9h1.1v1.1h-1.1zM258.6 393.6h1.2v1.2h-1.2zM208.4 373.7h0.7v0.7h-0.7zM206.9 374.1h1.4v1.4h-1.4zM270.3 359.7h1.3v1.3h-1.3zM281.8 390.4h1.4v1.4h-1.4zM229.5 399.1h1.2v1.2h-1.2zM238.7 374.0h1.2v1.2h-1.2zM235.5 381.4h0.7v0.7h-0.7z" fill="#2a2a2a" filter="url(#bl1)" opacity="0.85"/>
<path d="M192.9 355.9h1.4v1.4h-1.4zM273.3 376.3h1.9v1.9h-1.9zM194.8 377.2h2.0v2.0h-2.0zM236.2 408.9h2.0v2.0h-2.0zM221.4 340.1h1.9v1.9h-1.9zM197.5 340.8h1.9v1.9h-1.9zM267.5 401.0h2.1v2.1h-2.1zM205.2 346.3h1.2v1.2h-1.2zM281.2 348.5h1.3v1.3h-1.3zM187.4 344.0h1.1v1.1h-1.1zM219.9 352.2h1.4v1.4h-1.4zM276.0 352.2h2.0v2.0h-2.0zM257.5 381.7h1.7v1.7h-1.7zM260.8 383.2h1.3v1.3h-1.3zM217.5 358.1h1.5v1.5h-1.5zM282.2 371.6h1.2v1.2h-1.2zM231.9 399.5h1.6v1.6h-1.6zM254.3 347.1h1.1v1.1h-1.1zM250.1 343.8h1.4v1.4h-1.4zM223.1 354.6h1.1v1.1h-1.1zM185.7 409.6h1.8v1.8h-1.8zM278.2 375.8h2.1v2.1h-2.1zM269.7 385.3h1.6v1.6h-1.6zM235.1 356.7h1.5v1.5h-1.5zM255.8 354.3h2.0v2.0h-2.0zM235.0 384.1h2.0v2.0h-2.0zM248.7 350.4h1.3v1.3h-1.3zM185.0 341.9h2.1v2.1h-2.1zM243.2 410.8h1.9v1.9h-1.9zM215.9 410.6h2.1v2.1h-2.1zM230.0 346.4h1.4v1.4h-1.4zM201.7 367.1h1.2v1.2h-1.2zM255.2 411.9h1.3v1.3h-1.3zM261.6 382.9h1.6v1.6h-1.6zM273.9 367.6h2.0v2.0h-2.0zM188.8 410.8h1.3v1.3h-1.3zM185.4 404.4h1.9v1.9h-1.9zM251.4 396.2h1.5v1.5h-1.5zM196.2 363.2h2.1v2.1h-2.1zM281.4 357.0h1.6v1.6h-1.6zM229.6 406.5h1.1v1.1h-1.1zM266.4 358.7h1.7v1.7h-1.7zM197.6 346.1h2.0v2.0h-2.0zM234.3 410.9h2.0v2.0h-2.0zM258.9 345.6h1.7v1.7h-1.7zM282.7 377.1h1.2v1.2h-1.2zM203.0 412.1h2.1v2.1h-2.1zM209.3 363.3h1.9v1.9h-1.9zM234.7 353.5h2.1v2.1h-2.1zM246.3 367.1h1.1v1.1h-1.1zM235.4 395.3h1.3v1.3h-1.3zM193.5 392.8h2.1v2.1h-2.1zM222.1 374.6h1.8v1.8h-1.8zM236.3 349.7h1.4v1.4h-1.4zM205.6 354.8h1.2v1.2h-1.2zM223.3 356.0h2.0v2.0h-2.0zM216.6 410.3h2.0v2.0h-2.0zM211.5 351.4h1.7v1.7h-1.7zM231.8 379.4h1.2v1.2h-1.2zM237.3 395.6h1.6v1.6h-1.6zM210.3 407.6h1.4v1.4h-1.4zM283.0 390.7h1.1v1.1h-1.1zM228.9 350.9h1.9v1.9h-1.9zM226.2 346.2h2.1v2.1h-2.1zM263.5 384.5h1.7v1.7h-1.7zM192.6 412.0h1.4v1.4h-1.4zM236.6 376.0h1.6v1.6h-1.6zM187.0 405.4h1.6v1.6h-1.6zM223.5 402.8h2.0v2.0h-2.0zM255.7 406.5h1.5v1.5h-1.5zM195.4 365.5h1.7v1.7h-1.7zM262.2 393.7h1.8v1.8h-1.8zM244.0 388.8h1.7v1.7h-1.7zM186.8 380.2h1.4v1.4h-1.4zM192.1 384.7h2.0v2.0h-2.0zM212.8 389.0h1.8v1.8h-1.8zM251.9 403.7h1.8v1.8h-1.8zM193.1 385.3h1.5v1.5h-1.5zM226.2 389.6h1.3v1.3h-1.3zM246.9 408.9h1.2v1.2h-1.2zM268.7 391.9h1.5v1.5h-1.5zM260.4 346.2h1.3v1.3h-1.3zM283.1 385.8h1.3v1.3h-1.3zM197.8 372.8h1.7v1.7h-1.7zM282.1 353.7h1.8v1.8h-1.8zM228.1 380.6h2.1v2.1h-2.1zM196.7 401.0h1.9v1.9h-1.9zM211.3 348.8h1.9v1.9h-1.9zM269.0 365.6h1.2v1.2h-1.2zM239.7 389.2h1.5v1.5h-1.5zM225.6 347.9h1.2v1.2h-1.2zM207.2 395.7h1.2v1.2h-1.2zM204.8 374.2h1.3v1.3h-1.3zM208.8 394.1h1.3v1.3h-1.3zM240.2 346.3h1.6v1.6h-1.6zM253.8 373.0h1.3v1.3h-1.3zM188.2 360.3h1.5v1.5h-1.5zM195.1 371.3h1.6v1.6h-1.6zM191.2 388.4h2.1v2.1h-2.1zM253.9 372.8h2.0v2.0h-2.0zM277.6 409.3h2.1v2.1h-2.1zM260.1 408.9h1.9v1.9h-1.9zM217.0 350.0h1.6v1.6h-1.6zM254.2 359.9h1.5v1.5h-1.5zM193.4 343.3h1.4v1.4h-1.4zM268.5 344.8h1.2v1.2h-1.2zM224.5 411.0h1.3v1.3h-1.3zM189.6 343.8h1.5v1.5h-1.5zM186.0 389.4h1.1v1.1h-1.1zM203.9 345.9h1.4v1.4h-1.4zM194.0 352.3h1.3v1.3h-1.3zM208.1 386.6h1.5v1.5h-1.5zM205.3 340.9h2.0v2.0h-2.0zM268.7 409.3h1.8v1.8h-1.8zM227.8 364.3h1.3v1.3h-1.3zM228.1 370.5h2.1v2.1h-2.1zM204.7 391.1h1.9v1.9h-1.9zM250.0 385.2h1.1v1.1h-1.1zM199.5 378.0h1.7v1.7h-1.7zM279.7 397.7h1.3v1.3h-1.3zM200.0 396.9h1.1v1.1h-1.1zM274.5 346.5h1.7v1.7h-1.7zM268.3 346.5h1.2v1.2h-1.2zM247.4 393.0h1.1v1.1h-1.1zM230.9 398.0h1.9v1.9h-1.9zM223.7 340.7h1.7v1.7h-1.7zM237.7 370.9h1.7v1.7h-1.7zM242.4 375.3h1.7v1.7h-1.7zM240.1 396.4h1.9v1.9h-1.9zM187.5 397.6h1.3v1.3h-1.3zM226.6 356.2h1.4v1.4h-1.4zM224.4 373.5h1.2v1.2h-1.2zM214.1 373.6h1.5v1.5h-1.5zM237.1 345.2h1.7v1.7h-1.7zM273.9 394.1h1.7v1.7h-1.7zM264.3 368.1h1.3v1.3h-1.3zM245.3 358.2h1.4v1.4h-1.4zM260.7 377.5h1.3v1.3h-1.3zM206.4 393.7h1.8v1.8h-1.8zM273.4 394.2h1.4v1.4h-1.4zM253.8 404.3h2.0v2.0h-2.0zM274.8 350.9h1.3v1.3h-1.3zM202.0 399.7h1.8v1.8h-1.8zM239.9 354.6h1.5v1.5h-1.5zM252.6 342.3h2.0v2.0h-2.0zM253.9 405.2h2.1v2.1h-2.1zM235.8 362.2h1.5v1.5h-1.5zM233.1 384.5h1.4v1.4h-1.4zM213.3 377.5h1.9v1.9h-1.9zM186.5 405.9h1.8v1.8h-1.8z" fill="#5a5a5a" filter="url(#bl1)" opacity="0.6"/>
<path d="M240.4 353.7h2.3v2.3h-2.3zM241.6 351.6h2.0v2.0h-2.0zM239.6 350.8h2.4v2.4h-2.4zM239.3 351.6h2.4v2.4h-2.4zM240.4 351.4h1.5v1.5h-1.5zM233.5 339.8h2.0v2.0h-2.0zM235.0 340.5h1.8v1.8h-1.8zM233.8 341.2h2.1v2.1h-2.1zM233.4 341.8h2.0v2.0h-2.0zM233.9 340.8h1.3v1.3h-1.3zM208.8 345.7h0.8v0.8h-0.8zM209.6 346.2h0.6v0.6h-0.6zM210.1 344.9h0.9v0.9h-0.9zM209.7 346.1h0.6v0.6h-0.6zM209.3 346.0h0.7v0.7h-0.7zM203.9 344.3h1.4v1.4h-1.4zM203.2 343.5h1.4v1.4h-1.4zM206.4 344.5h1.5v1.5h-1.5zM205.0 343.1h2.1v2.1h-2.1zM206.6 344.0h1.5v1.5h-1.5zM216.7 358.2h1.8v1.8h-1.8zM216.5 357.1h1.8v1.8h-1.8zM216.0 355.8h1.6v1.6h-1.6zM214.9 356.8h2.1v2.1h-2.1zM217.7 357.0h1.1v1.1h-1.1zM224.7 355.9h1.4v1.4h-1.4zM223.7 355.1h1.4v1.4h-1.4zM224.3 353.1h1.6v1.6h-1.6zM222.6 356.1h1.6v1.6h-1.6zM225.3 354.5h1.3v1.3h-1.3zM235.4 355.8h1.1v1.1h-1.1zM235.1 357.8h1.7v1.7h-1.7zM235.3 356.8h2.1v2.1h-2.1zM237.5 357.3h1.9v1.9h-1.9zM231.9 354.6h1.8v1.8h-1.8zM187.7 357.5h1.0v1.0h-1.0zM186.0 358.1h1.6v1.6h-1.6zM186.4 357.7h0.9v0.9h-0.9zM184.7 359.3h1.6v1.6h-1.6zM187.6 356.2h1.6v1.6h-1.6zM268.1 340.2h0.8v0.8h-0.8zM267.9 341.3h0.8v0.8h-0.8zM266.8 341.0h0.7v0.7h-0.7zM267.9 341.2h0.6v0.6h-0.6zM268.1 341.4h0.6v0.6h-0.6zM263.5 350.3h0.9v0.9h-0.9zM264.6 351.2h1.2v1.2h-1.2zM263.5 351.3h1.7v1.7h-1.7zM264.9 350.8h1.3v1.3h-1.3zM263.5 352.4h1.1v1.1h-1.1zM188.4 343.3h2.7v2.7h-2.7zM187.1 340.4h1.7v1.7h-1.7zM189.5 342.9h1.6v1.6h-1.6zM189.4 341.2h2.4v2.4h-2.4zM187.3 345.3h1.3v1.3h-1.3zM247.1 343.3h1.4v1.4h-1.4zM246.1 345.1h1.4v1.4h-1.4zM246.1 343.5h1.2v1.2h-1.2zM247.9 343.6h1.1v1.1h-1.1zM246.1 344.1h1.3v1.3h-1.3zM201.4 345.3h0.9v0.9h-0.9zM201.3 345.2h1.1v1.1h-1.1zM201.3 344.9h0.9v0.9h-0.9zM202.3 343.8h1.0v1.0h-1.0zM202.0 345.3h1.3v1.3h-1.3zM271.8 349.3h1.8v1.8h-1.8zM272.4 350.6h1.1v1.1h-1.1zM272.4 350.2h1.1v1.1h-1.1zM271.6 351.1h1.0v1.0h-1.0zM273.3 351.1h1.7v1.7h-1.7zM216.8 354.2h1.5v1.5h-1.5zM212.5 356.7h1.5v1.5h-1.5zM212.2 353.8h2.5v2.5h-2.5zM214.7 356.7h1.2v1.2h-1.2zM214.2 357.5h1.6v1.6h-1.6zM266.3 351.6h1.7v1.7h-1.7zM265.6 353.6h1.1v1.1h-1.1zM266.8 350.5h1.0v1.0h-1.0zM265.9 352.2h1.5v1.5h-1.5zM265.0 354.9h1.5v1.5h-1.5zM235.7 347.7h0.7v0.7h-0.7zM234.1 346.7h1.3v1.3h-1.3zM235.5 349.9h0.8v0.8h-0.8zM234.9 347.6h0.9v0.9h-0.9zM236.9 347.0h0.8v0.8h-0.8zM202.5 356.6h1.1v1.1h-1.1zM202.0 355.3h1.4v1.4h-1.4zM203.7 356.2h1.4v1.4h-1.4zM201.7 357.2h1.7v1.7h-1.7zM202.3 355.1h1.0v1.0h-1.0zM246.2 345.8h1.2v1.2h-1.2zM246.7 345.8h1.2v1.2h-1.2zM246.9 346.5h1.2v1.2h-1.2zM247.3 345.7h1.3v1.3h-1.3zM245.9 347.6h0.8v0.8h-0.8zM250.2 339.3h1.8v1.8h-1.8zM249.3 341.4h1.6v1.6h-1.6zM249.4 340.5h1.7v1.7h-1.7zM250.3 339.2h1.6v1.6h-1.6zM251.8 340.6h1.4v1.4h-1.4zM265.5 344.9h2.4v2.4h-2.4zM263.3 345.8h1.5v1.5h-1.5zM262.1 345.0h1.6v1.6h-1.6zM264.0 348.9h2.4v2.4h-2.4zM264.2 348.0h1.3v1.3h-1.3zM239.7 356.1h0.9v0.9h-0.9zM238.2 355.8h1.1v1.1h-1.1zM239.3 355.6h1.0v1.0h-1.0zM239.6 356.4h0.9v0.9h-0.9zM238.9 357.4h0.9v0.9h-0.9z" fill="#3cb043" filter="url(#bl1)" opacity="0.85"/>
<path d="M239.4 397.8h1.8v1.8h-1.8zM237.5 397.8h1.6v1.6h-1.6zM239.9 398.4h1.2v1.2h-1.2zM238.7 397.3h1.6v1.6h-1.6zM221.4 410.7h0.4v0.4h-0.4zM221.4 410.9h0.5v0.5h-0.5zM221.3 411.4h0.5v0.5h-0.5zM222.3 411.6h0.5v0.5h-0.5zM198.9 358.0h2.0v2.0h-2.0zM200.0 358.9h1.3v1.3h-1.3zM200.6 360.0h2.0v2.0h-2.0zM199.0 358.6h1.9v1.9h-1.9zM267.3 394.3h1.5v1.5h-1.5zM265.7 394.5h0.9v0.9h-0.9zM266.1 393.6h1.4v1.4h-1.4zM266.8 393.8h1.3v1.3h-1.3zM195.7 411.5h0.9v0.9h-0.9zM195.4 410.5h1.0v1.0h-1.0zM195.4 411.5h0.7v0.7h-0.7zM194.4 410.9h0.5v0.5h-0.5zM223.0 385.0h1.3v1.3h-1.3zM223.3 387.2h0.8v0.8h-0.8zM223.6 384.8h1.3v1.3h-1.3zM222.9 385.9h1.4v1.4h-1.4zM263.1 354.0h1.7v1.7h-1.7zM263.7 353.4h1.9v1.9h-1.9zM264.2 355.6h1.2v1.2h-1.2zM264.0 353.8h1.2v1.2h-1.2zM283.1 378.2h1.3v1.3h-1.3zM282.9 377.8h1.3v1.3h-1.3zM283.4 378.3h1.4v1.4h-1.4zM281.9 378.5h1.2v1.2h-1.2zM280.4 400.3h0.7v0.7h-0.7zM280.0 400.5h0.9v0.9h-0.9zM279.2 400.5h0.6v0.6h-0.6zM279.2 399.9h0.9v0.9h-0.9zM270.4 389.3h0.6v0.6h-0.6zM270.4 389.3h0.8v0.8h-0.8zM270.4 389.8h0.7v0.7h-0.7zM271.0 389.5h0.9v0.9h-0.9zM195.6 377.4h1.7v1.7h-1.7zM197.8 376.5h1.2v1.2h-1.2zM198.9 377.6h1.0v1.0h-1.0zM196.5 377.3h1.6v1.6h-1.6zM231.1 361.6h1.0v1.0h-1.0zM230.6 360.0h0.9v0.9h-0.9zM229.8 361.7h1.5v1.5h-1.5zM229.7 362.4h0.8v0.8h-0.8zM197.7 400.5h0.9v0.9h-0.9zM197.6 400.6h1.3v1.3h-1.3zM197.9 400.7h0.8v0.8h-0.8zM198.3 401.9h0.8v0.8h-0.8zM204.4 380.7h0.7v0.7h-0.7zM205.4 381.5h0.7v0.7h-0.7zM204.6 380.5h0.5v0.5h-0.5zM204.9 381.4h0.4v0.4h-0.4zM204.2 410.5h0.8v0.8h-0.8zM202.9 409.0h0.9v0.9h-0.9zM204.7 409.7h0.8v0.8h-0.8zM204.8 408.0h0.8v0.8h-0.8zM269.3 411.8h1.0v1.0h-1.0zM269.7 410.9h1.0v1.0h-1.0zM270.2 410.9h0.6v0.6h-0.6zM269.7 411.4h0.6v0.6h-0.6zM204.5 412.5h1.5v1.5h-1.5zM204.8 412.1h0.8v0.8h-0.8zM205.0 411.7h1.4v1.4h-1.4zM205.9 413.2h1.3v1.3h-1.3zM245.3 410.1h2.0v2.0h-2.0zM244.8 410.9h1.3v1.3h-1.3zM246.6 411.0h1.2v1.2h-1.2zM245.9 412.9h1.1v1.1h-1.1zM210.4 389.3h0.8v0.8h-0.8zM210.4 389.4h0.9v0.9h-0.9zM209.8 389.2h0.7v0.7h-0.7zM210.3 389.7h0.5v0.5h-0.5zM232.7 395.1h0.8v0.8h-0.8zM233.6 395.9h0.8v0.8h-0.8zM232.3 395.5h1.0v1.0h-1.0zM233.7 394.0h1.0v1.0h-1.0zM204.2 405.2h1.2v1.2h-1.2zM202.8 404.6h1.3v1.3h-1.3zM204.4 404.4h1.5v1.5h-1.5zM203.8 404.9h1.5v1.5h-1.5zM212.9 366.5h1.0v1.0h-1.0zM212.5 368.1h1.2v1.2h-1.2zM212.1 366.6h1.1v1.1h-1.1zM212.5 367.6h1.1v1.1h-1.1zM192.8 355.4h1.2v1.2h-1.2zM193.7 356.4h1.3v1.3h-1.3zM193.1 355.1h1.4v1.4h-1.4zM192.6 354.6h1.7v1.7h-1.7zM278.9 387.4h1.2v1.2h-1.2zM276.7 390.7h1.2v1.2h-1.2zM276.3 387.7h1.4v1.4h-1.4zM275.8 389.5h0.8v0.8h-0.8zM191.8 354.1h1.8v1.8h-1.8zM192.2 355.8h1.4v1.4h-1.4zM193.1 355.0h0.9v0.9h-0.9zM193.4 354.3h1.8v1.8h-1.8zM283.1 358.1h0.6v0.6h-0.6zM283.2 357.8h1.0v1.0h-1.0zM282.2 357.5h1.0v1.0h-1.0zM282.6 356.8h0.5v0.5h-0.5z" fill="#3aa040" filter="url(#bl1)" opacity="0.75"/>
<path d="M236.9 382.9h1.8v1.8h-1.8zM273.4 404.8h1.3v1.3h-1.3zM278.4 371.3h1.2v1.2h-1.2zM194.7 377.8h1.1v1.1h-1.1zM212.0 384.7h1.7v1.7h-1.7zM259.3 346.8h1.0v1.0h-1.0zM210.1 380.4h1.8v1.8h-1.8zM263.7 408.4h1.5v1.5h-1.5zM247.8 361.7h1.2v1.2h-1.2zM205.4 379.3h1.6v1.6h-1.6zM241.5 368.9h1.4v1.4h-1.4zM209.6 399.7h1.5v1.5h-1.5zM258.8 399.6h1.2v1.2h-1.2zM196.5 360.7h1.9v1.9h-1.9zM262.7 369.7h1.7v1.7h-1.7zM219.0 403.7h1.0v1.0h-1.0zM257.9 411.9h1.4v1.4h-1.4zM230.7 350.0h1.2v1.2h-1.2zM208.4 362.1h1.0v1.0h-1.0zM214.6 347.9h1.5v1.5h-1.5zM224.9 356.6h1.9v1.9h-1.9zM215.4 378.9h1.9v1.9h-1.9zM259.5 410.7h1.6v1.6h-1.6zM270.5 344.9h1.7v1.7h-1.7zM218.1 363.6h1.7v1.7h-1.7zM258.0 365.3h1.3v1.3h-1.3zM212.5 408.4h1.6v1.6h-1.6zM211.0 379.4h1.0v1.0h-1.0zM211.4 376.6h2.0v2.0h-2.0zM269.2 380.1h1.7v1.7h-1.7zM209.7 390.7h2.0v2.0h-2.0zM200.1 408.1h2.0v2.0h-2.0zM221.1 399.4h2.0v2.0h-2.0zM199.7 374.2h1.5v1.5h-1.5zM262.9 359.6h1.7v1.7h-1.7zM254.1 402.8h1.7v1.7h-1.7zM269.6 384.4h1.5v1.5h-1.5zM230.5 370.0h1.4v1.4h-1.4zM233.8 369.1h1.1v1.1h-1.1zM224.4 409.4h1.2v1.2h-1.2zM281.6 401.1h1.4v1.4h-1.4zM206.4 404.2h1.9v1.9h-1.9zM215.6 389.0h1.7v1.7h-1.7zM246.3 349.2h1.2v1.2h-1.2zM255.9 386.5h1.6v1.6h-1.6zM212.6 404.4h1.7v1.7h-1.7zM232.9 402.8h1.2v1.2h-1.2zM237.3 378.0h1.9v1.9h-1.9zM277.0 365.0h1.7v1.7h-1.7zM214.2 404.5h1.9v1.9h-1.9zM252.2 343.0h1.2v1.2h-1.2zM202.3 377.4h0.9v0.9h-0.9zM191.2 347.3h1.8v1.8h-1.8zM244.0 403.3h1.9v1.9h-1.9zM241.0 402.1h1.4v1.4h-1.4zM245.0 352.5h1.4v1.4h-1.4zM194.5 373.7h1.9v1.9h-1.9zM282.7 395.3h0.9v0.9h-0.9zM282.1 379.0h1.6v1.6h-1.6zM225.3 397.0h1.2v1.2h-1.2z" fill="#3c7a3c" filter="url(#bl1)" opacity="0.8"/>
</g>
<line x1="261.00" y1="408.60" x2="283.00" y2="408.60" stroke="#ffffff" stroke-width="0.9"/>
<text x="272.00" y="412.61" font-size="2.8" text-anchor="middle" fill="#f4f4f4">400 µm</text>
<g clip-path="url(#ck2)">
<rect x="186.20" y="416.10" width="97.60" height="73.20" fill="#b0b0b0"/>
<ellipse cx="191" cy="433" rx="5" ry="4" fill="#888" filter="url(#bl4)" opacity="0.7"/>
<ellipse cx="246" cy="445" rx="9" ry="6" fill="#8c8c8c" filter="url(#bl4)" opacity="0.6"/>
<ellipse cx="205" cy="478" rx="22" ry="9" fill="#c0c0c0" filter="url(#bl4)" opacity="0.6"/>
<ellipse cx="260" cy="470" rx="20" ry="10" fill="#a4a4a4" filter="url(#bl4)" opacity="0.5"/>
<circle cx="278.00" cy="460.30" r="1.20" fill="#444" filter="url(#bl1)"/>
<path d="M223.0 433.3h0.7v0.7h-0.7zM275.0 458.1h1.0v1.0h-1.0zM239.7 444.1h1.1v1.1h-1.1zM242.0 472.7h1.0v1.0h-1.0zM267.9 448.3h0.7v0.7h-0.7zM200.4 468.7h0.7v0.7h-0.7zM249.9 461.4h0.6v0.6h-0.6zM262.3 418.8h1.2v1.2h-1.2zM267.9 432.0h1.1v1.1h-1.1zM257.3 425.5h1.0v1.0h-1.0zM197.6 482.2h1.0v1.0h-1.0zM281.7 420.5h0.8v0.8h-0.8zM246.4 460.5h0.7v0.7h-0.7zM272.6 477.6h0.8v0.8h-0.8zM199.9 464.7h0.8v0.8h-0.8zM250.6 452.1h0.8v0.8h-0.8zM187.7 426.3h0.9v0.9h-0.9zM256.8 447.1h1.1v1.1h-1.1zM238.4 479.9h1.0v1.0h-1.0zM217.2 426.7h0.6v0.6h-0.6zM189.3 478.5h1.2v1.2h-1.2zM259.1 424.4h1.0v1.0h-1.0zM198.0 480.5h1.0v1.0h-1.0zM259.0 460.4h0.8v0.8h-0.8zM268.8 485.9h0.7v0.7h-0.7zM228.3 469.3h1.0v1.0h-1.0zM225.6 448.8h1.2v1.2h-1.2zM212.5 431.7h1.0v1.0h-1.0zM212.8 481.2h0.8v0.8h-0.8zM276.0 443.8h1.2v1.2h-1.2zM259.3 469.4h0.7v0.7h-0.7zM201.8 418.9h0.7v0.7h-0.7zM251.0 421.3h0.7v0.7h-0.7zM241.2 427.8h0.8v0.8h-0.8zM208.1 465.4h0.6v0.6h-0.6zM283.2 459.6h1.1v1.1h-1.1zM239.5 452.2h1.2v1.2h-1.2zM273.3 475.9h0.6v0.6h-0.6zM243.3 484.3h1.0v1.0h-1.0zM235.9 463.4h0.7v0.7h-0.7zM257.0 473.1h0.6v0.6h-0.6zM235.6 459.5h0.8v0.8h-0.8zM252.2 482.8h1.2v1.2h-1.2zM215.6 427.3h1.2v1.2h-1.2zM245.4 476.1h1.2v1.2h-1.2zM213.0 458.9h0.8v0.8h-0.8zM263.8 466.4h0.7v0.7h-0.7zM234.7 459.4h0.7v0.7h-0.7zM203.6 450.8h0.6v0.6h-0.6zM234.0 484.1h1.1v1.1h-1.1zM190.8 475.9h1.1v1.1h-1.1zM254.9 418.4h1.1v1.1h-1.1zM204.8 474.4h0.8v0.8h-0.8zM221.3 428.8h1.2v1.2h-1.2zM207.3 479.4h0.9v0.9h-0.9zM200.1 463.7h0.9v0.9h-0.9zM188.3 475.9h0.7v0.7h-0.7zM187.8 471.6h1.1v1.1h-1.1zM223.3 429.9h0.9v0.9h-0.9zM243.0 466.2h0.9v0.9h-0.9zM241.3 468.6h0.7v0.7h-0.7zM203.2 451.3h1.1v1.1h-1.1zM264.2 478.0h0.9v0.9h-0.9zM255.5 424.2h0.8v0.8h-0.8zM191.9 476.5h1.3v1.3h-1.3zM251.2 470.8h0.8v0.8h-0.8zM263.5 422.7h0.8v0.8h-0.8zM220.0 478.9h0.7v0.7h-0.7zM201.0 422.9h1.1v1.1h-1.1zM216.5 481.6h0.8v0.8h-0.8zM267.4 430.4h1.2v1.2h-1.2zM280.9 479.7h1.0v1.0h-1.0zM273.2 482.2h1.2v1.2h-1.2zM212.4 477.6h1.1v1.1h-1.1zM219.3 428.5h1.2v1.2h-1.2zM231.7 454.6h1.2v1.2h-1.2zM232.9 434.7h1.0v1.0h-1.0zM237.6 436.1h1.0v1.0h-1.0zM274.0 434.1h1.1v1.1h-1.1zM259.5 454.3h0.7v0.7h-0.7zM250.8 436.9h0.7v0.7h-0.7zM269.3 436.2h0.6v0.6h-0.6zM268.5 488.3h0.8v0.8h-0.8zM225.1 455.7h1.1v1.1h-1.1zM186.8 463.3h0.7v0.7h-0.7zM276.4 446.2h1.2v1.2h-1.2zM229.8 463.9h0.6v0.6h-0.6zM205.5 437.9h0.8v0.8h-0.8zM202.7 447.0h0.6v0.6h-0.6zM240.9 485.8h1.2v1.2h-1.2zM246.4 487.2h1.1v1.1h-1.1zM247.9 449.6h0.6v0.6h-0.6zM273.0 481.0h1.1v1.1h-1.1zM252.9 474.9h1.2v1.2h-1.2zM281.0 472.1h0.6v0.6h-0.6zM278.4 457.4h0.9v0.9h-0.9zM228.0 436.2h0.6v0.6h-0.6zM246.3 461.2h0.6v0.6h-0.6zM275.9 481.5h1.2v1.2h-1.2zM238.2 444.3h0.9v0.9h-0.9zM221.7 485.2h1.2v1.2h-1.2zM273.6 454.0h0.9v0.9h-0.9zM253.0 437.5h0.7v0.7h-0.7zM282.2 436.0h0.7v0.7h-0.7zM233.8 422.9h0.9v0.9h-0.9zM201.4 476.4h0.6v0.6h-0.6zM264.0 435.8h1.1v1.1h-1.1zM264.1 485.5h0.7v0.7h-0.7zM282.1 427.3h0.8v0.8h-0.8zM186.4 452.3h0.6v0.6h-0.6zM239.9 483.6h1.1v1.1h-1.1zM248.9 422.9h1.3v1.3h-1.3zM221.4 485.0h0.6v0.6h-0.6zM214.8 484.7h1.1v1.1h-1.1zM203.8 449.5h0.9v0.9h-0.9zM210.4 432.4h0.6v0.6h-0.6zM235.5 446.5h0.8v0.8h-0.8zM232.6 441.5h0.8v0.8h-0.8zM260.6 427.4h0.6v0.6h-0.6zM229.4 437.4h0.9v0.9h-0.9zM269.7 484.6h1.1v1.1h-1.1zM275.8 433.2h0.8v0.8h-0.8zM196.6 437.5h0.7v0.7h-0.7zM208.9 440.4h1.2v1.2h-1.2zM236.0 481.3h0.9v0.9h-0.9zM258.9 464.8h1.0v1.0h-1.0zM276.1 459.3h0.9v0.9h-0.9zM208.1 423.7h0.8v0.8h-0.8zM225.2 425.8h1.2v1.2h-1.2zM187.4 448.4h0.7v0.7h-0.7zM225.4 476.6h1.2v1.2h-1.2zM224.5 467.7h1.2v1.2h-1.2zM214.0 445.1h0.9v0.9h-0.9zM267.4 438.2h1.2v1.2h-1.2zM203.7 465.5h1.0v1.0h-1.0zM188.8 440.0h1.1v1.1h-1.1zM224.9 420.7h0.9v0.9h-0.9zM238.6 450.4h0.8v0.8h-0.8zM277.5 464.9h0.9v0.9h-0.9zM229.4 472.1h0.7v0.7h-0.7zM232.9 471.4h0.6v0.6h-0.6zM200.0 420.1h1.0v1.0h-1.0zM263.9 464.2h1.0v1.0h-1.0zM188.7 442.8h0.9v0.9h-0.9zM218.6 434.6h0.8v0.8h-0.8zM207.8 421.6h1.0v1.0h-1.0zM188.0 447.8h0.8v0.8h-0.8zM265.0 467.4h0.9v0.9h-0.9zM186.1 467.7h1.1v1.1h-1.1zM248.1 487.9h0.9v0.9h-0.9z" fill="#cfcfcf" filter="url(#bl1)" opacity="0.8"/>
<path d="M248.3 418.5h0.7v0.7h-0.7zM207.4 469.6h0.9v0.9h-0.9zM273.0 422.9h0.8v0.8h-0.8zM188.5 432.3h0.8v0.8h-0.8zM188.2 430.9h0.9v0.9h-0.9zM239.0 432.4h0.9v0.9h-0.9zM264.8 417.0h1.0v1.0h-1.0zM254.1 441.2h0.6v0.6h-0.6zM279.5 440.9h0.6v0.6h-0.6zM195.0 477.6h0.9v0.9h-0.9zM264.7 469.1h0.8v0.8h-0.8zM280.9 443.8h0.8v0.8h-0.8zM266.8 461.0h1.0v1.0h-1.0zM242.3 467.4h0.6v0.6h-0.6zM208.0 437.5h0.6v0.6h-0.6zM208.5 423.9h0.7v0.7h-0.7zM247.9 442.9h0.7v0.7h-0.7zM206.0 435.7h1.0v1.0h-1.0zM249.2 460.5h0.6v0.6h-0.6zM257.1 428.4h0.7v0.7h-0.7zM282.6 462.7h0.8v0.8h-0.8zM252.6 477.2h1.0v1.0h-1.0zM208.1 419.0h0.7v0.7h-0.7zM211.7 431.7h1.0v1.0h-1.0zM271.4 439.2h0.9v0.9h-0.9zM224.4 482.5h0.8v0.8h-0.8zM211.5 434.3h0.8v0.8h-0.8zM211.2 458.6h1.0v1.0h-1.0zM224.6 432.3h1.1v1.1h-1.1zM235.7 423.3h0.6v0.6h-0.6zM196.3 461.7h1.0v1.0h-1.0zM227.0 421.2h0.7v0.7h-0.7zM283.1 454.6h1.1v1.1h-1.1zM269.9 417.4h0.9v0.9h-0.9zM252.5 455.3h0.7v0.7h-0.7zM248.4 424.6h0.8v0.8h-0.8zM230.0 485.2h1.0v1.0h-1.0zM211.5 452.7h0.6v0.6h-0.6zM275.1 479.3h0.7v0.7h-0.7zM248.3 460.5h0.6v0.6h-0.6z" fill="#8a8a8a" filter="url(#bl1)" opacity="0.7"/>
</g>
<line x1="261.00" y1="484.30" x2="283.00" y2="484.30" stroke="#ffffff" stroke-width="0.9"/>
<text x="272.00" y="488.21" font-size="2.8" text-anchor="middle" fill="#f4f4f4">400 µm</text>
<text x="485.00" y="371.30" font-size="6.4" text-anchor="middle" fill="#111" font-weight="bold">Mock</text>
<text x="619.40" y="371.30" font-size="6.4" text-anchor="middle" fill="#111" font-weight="bold">Trained+PC</text>
<defs><linearGradient id="gm1" x1="0" y1="0" x2="0" y2="1"><stop offset="0" stop-color="#a2a2a2"/><stop offset="0.35" stop-color="#a9a9a9"/><stop offset="0.75" stop-color="#9c9c9c"/><stop offset="0.9" stop-color="#8f8f8f"/><stop offset="1" stop-color="#999"/></linearGradient><linearGradient id="gm2" x1="0" y1="0" x2="1" y2="0.4"><stop offset="0" stop-color="#b3bab0"/><stop offset="0.45" stop-color="#aeb2ac"/><stop offset="1" stop-color="#979897"/></linearGradient></defs>
<g clip-path="url(#cm1)">
<rect x="446.20" y="376.70" width="98.80" height="73.60" fill="url(#gm1)"/>
<path d="M469.8 412.7h1.0v1.0h-1.0zM470.1 412.7h1.3v1.3h-1.3zM469.5 412.3h1.1v1.1h-1.1zM468.9 412.7h1.3v1.3h-1.3zM467.8 414.2h1.2v1.2h-1.2zM470.2 413.3h1.0v1.0h-1.0zM524.3 390.4h2.0v2.0h-2.0zM525.8 388.3h1.8v1.8h-1.8zM524.0 390.0h1.5v1.5h-1.5zM528.4 387.2h1.9v1.9h-1.9zM526.8 387.3h1.6v1.6h-1.6zM527.4 392.1h1.5v1.5h-1.5zM447.9 410.5h0.9v0.9h-0.9zM448.1 407.6h1.0v1.0h-1.0zM446.5 409.0h0.9v0.9h-0.9zM446.8 406.5h1.7v1.7h-1.7zM447.5 406.4h1.8v1.8h-1.8zM448.2 407.5h1.3v1.3h-1.3zM498.5 433.5h1.2v1.2h-1.2zM496.3 435.7h2.0v2.0h-2.0zM495.1 434.4h2.4v2.4h-2.4zM497.2 437.6h2.0v2.0h-2.0zM498.1 439.5h1.3v1.3h-1.3zM495.2 435.8h2.0v2.0h-2.0zM542.1 418.1h1.4v1.4h-1.4zM541.2 415.1h2.2v2.2h-2.2zM543.1 417.0h2.5v2.5h-2.5zM544.1 416.3h2.1v2.1h-2.1zM542.0 414.6h1.8v1.8h-1.8zM543.2 415.9h2.1v2.1h-2.1zM513.3 429.8h1.1v1.1h-1.1zM511.9 426.5h1.6v1.6h-1.6zM510.0 430.7h1.2v1.2h-1.2zM510.9 430.6h1.5v1.5h-1.5zM511.1 428.4h1.3v1.3h-1.3zM511.4 428.6h1.5v1.5h-1.5zM446.2 387.3h1.2v1.2h-1.2zM446.1 384.8h1.2v1.2h-1.2zM445.0 388.5h2.2v2.2h-2.2zM449.2 386.0h1.2v1.2h-1.2zM443.8 385.6h2.2v2.2h-2.2zM447.3 387.7h1.5v1.5h-1.5zM520.0 444.0h1.4v1.4h-1.4zM518.3 442.3h1.0v1.0h-1.0zM516.7 443.0h2.0v2.0h-2.0zM517.1 442.8h1.8v1.8h-1.8zM519.4 445.7h1.6v1.6h-1.6zM517.9 443.4h1.5v1.5h-1.5zM486.8 390.1h1.3v1.3h-1.3zM486.3 391.0h1.9v1.9h-1.9zM483.0 389.9h2.1v2.1h-2.1zM483.9 389.7h2.6v2.6h-2.6zM485.9 389.7h2.3v2.3h-2.3zM487.4 390.8h1.3v1.3h-1.3zM452.4 446.8h0.8v0.8h-0.8zM453.0 448.4h0.7v0.7h-0.7zM450.8 447.3h1.0v1.0h-1.0zM452.1 447.0h1.3v1.3h-1.3zM452.0 447.4h1.0v1.0h-1.0zM452.4 446.6h0.7v0.7h-0.7zM465.2 411.7h2.0v2.0h-2.0zM462.7 410.6h1.1v1.1h-1.1zM462.1 410.6h1.9v1.9h-1.9zM464.5 411.4h1.1v1.1h-1.1zM463.1 410.8h1.8v1.8h-1.8zM462.7 411.4h1.3v1.3h-1.3zM535.7 411.1h0.9v0.9h-0.9zM537.6 410.8h1.0v1.0h-1.0zM537.4 411.7h0.9v0.9h-0.9zM537.0 412.2h1.0v1.0h-1.0zM536.6 410.5h1.1v1.1h-1.1zM536.4 412.5h0.9v0.9h-0.9zM520.5 384.4h0.8v0.8h-0.8zM520.7 384.1h1.1v1.1h-1.1zM520.5 385.6h0.8v0.8h-0.8zM520.9 383.9h0.7v0.7h-0.7zM521.1 385.4h1.3v1.3h-1.3zM520.8 386.9h1.2v1.2h-1.2zM528.8 449.8h1.5v1.5h-1.5zM527.7 447.5h1.9v1.9h-1.9zM529.4 448.9h1.3v1.3h-1.3zM529.1 450.0h2.0v2.0h-2.0zM529.8 449.6h1.0v1.0h-1.0zM528.3 449.1h1.8v1.8h-1.8zM527.7 438.2h1.2v1.2h-1.2zM528.4 439.3h1.1v1.1h-1.1zM526.5 437.3h1.5v1.5h-1.5zM528.2 439.3h0.9v0.9h-0.9zM529.9 438.2h0.8v0.8h-0.8zM527.8 439.1h1.4v1.4h-1.4zM485.1 428.9h0.9v0.9h-0.9zM484.0 429.5h1.4v1.4h-1.4zM483.9 429.2h1.3v1.3h-1.3zM483.6 429.7h1.4v1.4h-1.4zM482.9 430.2h1.7v1.7h-1.7zM484.4 428.9h0.9v0.9h-0.9zM495.3 398.2h1.4v1.4h-1.4zM494.1 400.5h2.1v2.1h-2.1zM497.4 394.8h1.6v1.6h-1.6zM494.0 397.3h1.2v1.2h-1.2zM493.4 397.0h1.7v1.7h-1.7zM493.3 398.1h1.1v1.1h-1.1zM518.2 432.6h1.9v1.9h-1.9zM517.4 433.2h1.7v1.7h-1.7zM516.7 431.5h1.2v1.2h-1.2zM519.0 432.9h2.2v2.2h-2.2zM521.2 430.7h1.3v1.3h-1.3zM518.6 432.7h1.3v1.3h-1.3zM459.3 386.7h1.9v1.9h-1.9zM462.9 384.2h1.8v1.8h-1.8zM463.0 388.6h1.7v1.7h-1.7zM463.4 388.4h2.1v2.1h-2.1zM462.9 387.8h1.2v1.2h-1.2zM462.2 387.9h1.7v1.7h-1.7zM540.7 392.9h1.5v1.5h-1.5zM541.5 393.4h1.1v1.1h-1.1zM541.3 393.2h1.3v1.3h-1.3zM542.2 391.5h0.9v0.9h-0.9zM542.2 392.7h1.4v1.4h-1.4zM541.3 393.6h1.2v1.2h-1.2zM543.9 394.4h1.9v1.9h-1.9zM542.5 394.4h2.1v2.1h-2.1zM543.4 396.6h1.9v1.9h-1.9zM540.9 393.3h2.5v2.5h-2.5zM542.4 394.2h2.1v2.1h-2.1zM542.7 397.5h2.6v2.6h-2.6zM523.2 425.8h2.4v2.4h-2.4zM522.5 423.8h2.3v2.3h-2.3zM523.0 424.5h2.5v2.5h-2.5zM523.6 423.1h1.3v1.3h-1.3zM523.8 424.8h2.2v2.2h-2.2zM524.6 425.3h1.6v1.6h-1.6zM485.9 397.1h0.8v0.8h-0.8zM486.2 397.5h0.6v0.6h-0.6zM486.1 396.8h0.9v0.9h-0.9zM485.1 396.0h1.0v1.0h-1.0zM486.5 395.9h0.6v0.6h-0.6zM487.3 397.5h0.7v0.7h-0.7zM491.7 400.3h1.2v1.2h-1.2zM492.4 400.2h1.0v1.0h-1.0zM493.0 399.4h0.8v0.8h-0.8zM493.6 399.2h0.6v0.6h-0.6zM493.2 400.6h0.9v0.9h-0.9zM491.8 400.1h0.7v0.7h-0.7zM520.4 442.8h1.3v1.3h-1.3zM522.0 442.0h1.6v1.6h-1.6zM522.0 440.6h1.1v1.1h-1.1zM520.7 441.1h1.3v1.3h-1.3zM522.0 441.0h1.3v1.3h-1.3zM521.2 440.8h1.8v1.8h-1.8zM517.5 443.7h0.6v0.6h-0.6zM518.2 443.8h0.6v0.6h-0.6zM517.6 442.4h0.9v0.9h-0.9zM518.3 442.1h1.2v1.2h-1.2zM518.2 444.1h0.7v0.7h-0.7zM519.8 443.9h1.0v1.0h-1.0zM512.0 416.4h1.0v1.0h-1.0zM511.7 416.4h1.4v1.4h-1.4zM512.3 416.8h1.0v1.0h-1.0zM511.1 415.3h1.0v1.0h-1.0zM512.7 416.4h1.0v1.0h-1.0zM511.9 415.0h1.5v1.5h-1.5zM487.9 390.4h1.0v1.0h-1.0zM488.2 391.3h0.9v0.9h-0.9zM487.8 390.2h1.8v1.8h-1.8zM489.8 390.3h1.0v1.0h-1.0zM488.4 392.2h1.4v1.4h-1.4zM488.4 391.3h1.0v1.0h-1.0zM537.6 406.0h1.3v1.3h-1.3zM536.5 405.7h1.3v1.3h-1.3zM537.0 404.3h1.6v1.6h-1.6zM537.2 406.3h0.9v0.9h-0.9zM535.8 405.6h0.9v0.9h-0.9zM535.9 407.0h1.2v1.2h-1.2zM446.8 415.9h1.3v1.3h-1.3zM448.8 416.5h1.1v1.1h-1.1zM445.1 416.2h1.4v1.4h-1.4zM447.0 417.6h1.8v1.8h-1.8zM447.1 417.3h1.8v1.8h-1.8zM448.4 417.6h1.2v1.2h-1.2zM485.3 418.3h2.7v2.7h-2.7zM486.3 417.9h2.2v2.2h-2.2zM483.3 418.1h1.5v1.5h-1.5zM486.2 416.6h1.4v1.4h-1.4zM484.6 417.2h1.8v1.8h-1.8zM487.4 415.5h2.2v2.2h-2.2zM501.5 376.3h0.7v0.7h-0.7zM499.8 378.0h1.3v1.3h-1.3zM500.4 377.8h1.2v1.2h-1.2zM503.1 378.1h0.8v0.8h-0.8zM501.8 379.5h1.3v1.3h-1.3zM501.5 378.1h1.1v1.1h-1.1zM456.5 377.2h0.9v0.9h-0.9zM456.5 377.8h0.7v0.7h-0.7zM455.5 377.3h0.7v0.7h-0.7zM455.1 376.0h0.9v0.9h-0.9zM456.8 376.8h0.9v0.9h-0.9zM455.7 377.5h0.8v0.8h-0.8zM543.8 411.5h1.0v1.0h-1.0zM542.8 412.2h1.5v1.5h-1.5zM543.8 413.2h1.5v1.5h-1.5zM543.5 413.3h2.1v2.1h-2.1zM543.3 413.2h1.4v1.4h-1.4zM544.5 411.6h1.0v1.0h-1.0zM535.6 430.5h1.3v1.3h-1.3zM534.2 430.1h1.2v1.2h-1.2zM535.3 430.9h1.0v1.0h-1.0zM533.5 430.8h1.7v1.7h-1.7zM536.1 432.0h1.1v1.1h-1.1zM535.9 430.3h1.8v1.8h-1.8zM539.6 411.1h2.2v2.2h-2.2zM538.5 409.8h1.3v1.3h-1.3zM538.5 412.6h1.3v1.3h-1.3zM538.0 412.6h1.3v1.3h-1.3zM538.8 411.8h2.4v2.4h-2.4zM536.9 412.4h2.0v2.0h-2.0zM510.3 385.2h1.8v1.8h-1.8zM507.9 386.0h1.7v1.7h-1.7zM506.7 384.3h2.4v2.4h-2.4zM509.5 389.7h1.2v1.2h-1.2zM510.2 388.4h1.2v1.2h-1.2zM510.3 386.2h1.6v1.6h-1.6zM489.1 384.5h1.8v1.8h-1.8zM487.1 383.0h1.7v1.7h-1.7zM488.9 382.9h1.6v1.6h-1.6zM489.8 383.2h1.0v1.0h-1.0zM488.7 383.1h1.2v1.2h-1.2zM488.0 384.2h1.7v1.7h-1.7zM462.3 407.5h1.2v1.2h-1.2zM461.8 409.4h1.6v1.6h-1.6zM461.8 410.0h1.0v1.0h-1.0zM462.1 408.8h1.0v1.0h-1.0zM461.2 408.9h1.2v1.2h-1.2zM461.2 407.4h0.8v0.8h-0.8zM467.0 424.7h1.4v1.4h-1.4zM469.2 422.0h2.3v2.3h-2.3zM463.0 422.1h2.4v2.4h-2.4zM464.4 426.0h1.9v1.9h-1.9zM465.9 423.7h1.8v1.8h-1.8zM468.0 423.4h1.6v1.6h-1.6zM530.4 435.9h1.1v1.1h-1.1zM528.0 433.9h1.6v1.6h-1.6zM528.9 436.4h1.3v1.3h-1.3zM530.3 435.9h1.1v1.1h-1.1zM531.1 435.8h1.3v1.3h-1.3zM528.9 435.7h1.4v1.4h-1.4zM497.7 392.8h1.1v1.1h-1.1zM496.9 393.2h1.3v1.3h-1.3zM498.7 393.4h0.9v0.9h-0.9zM497.6 392.0h1.4v1.4h-1.4zM496.4 392.3h1.0v1.0h-1.0zM497.6 392.7h0.8v0.8h-0.8zM534.6 411.7h1.3v1.3h-1.3zM533.0 413.3h1.2v1.2h-1.2zM532.9 413.9h0.8v0.8h-0.8zM533.8 413.4h1.4v1.4h-1.4zM533.6 414.0h0.7v0.7h-0.7zM533.2 412.7h1.0v1.0h-1.0zM494.7 433.3h1.6v1.6h-1.6zM495.8 434.2h2.1v2.1h-2.1zM498.5 433.8h2.2v2.2h-2.2zM499.5 433.2h1.1v1.1h-1.1zM498.7 432.3h1.7v1.7h-1.7zM498.0 432.0h2.2v2.2h-2.2zM477.1 405.3h1.4v1.4h-1.4zM477.8 405.7h0.6v0.6h-0.6zM478.0 406.8h1.1v1.1h-1.1zM477.6 404.8h1.0v1.0h-1.0zM476.6 405.5h0.9v0.9h-0.9zM477.8 403.9h1.2v1.2h-1.2zM477.9 415.3h0.9v0.9h-0.9zM477.5 414.4h1.2v1.2h-1.2zM478.3 414.3h1.3v1.3h-1.3zM478.2 415.1h1.8v1.8h-1.8zM478.7 414.1h1.6v1.6h-1.6zM476.6 414.7h1.8v1.8h-1.8zM454.7 423.9h1.1v1.1h-1.1zM456.1 426.1h0.9v0.9h-0.9zM454.8 425.2h1.7v1.7h-1.7zM454.3 423.0h1.1v1.1h-1.1zM453.1 425.3h1.1v1.1h-1.1zM454.3 425.1h1.3v1.3h-1.3zM445.1 382.8h1.1v1.1h-1.1zM446.3 382.3h0.8v0.8h-0.8zM445.0 382.3h1.0v1.0h-1.0zM445.0 383.1h0.9v0.9h-0.9zM444.9 381.3h1.1v1.1h-1.1zM446.9 383.4h0.5v0.5h-0.5zM490.3 401.3h1.2v1.2h-1.2zM492.7 402.1h1.9v1.9h-1.9zM490.4 403.0h1.1v1.1h-1.1zM491.5 401.2h1.1v1.1h-1.1zM490.4 403.7h1.1v1.1h-1.1zM490.3 402.2h1.1v1.1h-1.1zM499.5 424.2h1.3v1.3h-1.3zM500.3 426.1h1.1v1.1h-1.1zM499.5 426.0h1.8v1.8h-1.8zM498.7 425.4h2.0v2.0h-2.0zM497.3 424.6h1.4v1.4h-1.4zM499.8 423.4h2.0v2.0h-2.0zM503.7 385.3h0.6v0.6h-0.6zM504.4 385.2h0.9v0.9h-0.9zM503.6 386.1h0.6v0.6h-0.6zM504.3 385.2h0.8v0.8h-0.8zM504.9 387.2h0.8v0.8h-0.8zM504.3 385.9h0.6v0.6h-0.6zM470.6 419.9h1.3v1.3h-1.3zM470.3 420.1h1.3v1.3h-1.3zM469.0 421.0h1.0v1.0h-1.0zM469.2 418.7h1.4v1.4h-1.4zM470.0 420.8h1.0v1.0h-1.0zM470.1 418.6h1.4v1.4h-1.4zM515.5 400.6h1.7v1.7h-1.7zM514.6 400.1h1.1v1.1h-1.1zM515.8 403.8h1.2v1.2h-1.2zM517.9 401.1h1.7v1.7h-1.7zM514.0 402.5h1.3v1.3h-1.3zM514.7 401.1h1.0v1.0h-1.0zM523.2 412.7h1.3v1.3h-1.3zM521.8 412.2h1.1v1.1h-1.1zM522.7 411.9h0.7v0.7h-0.7zM523.6 411.5h0.8v0.8h-0.8zM523.2 412.9h0.9v0.9h-0.9zM523.2 412.0h1.1v1.1h-1.1zM474.9 430.6h0.9v0.9h-0.9zM474.9 430.4h1.0v1.0h-1.0zM474.6 431.2h1.3v1.3h-1.3zM476.1 430.1h1.2v1.2h-1.2zM475.6 431.2h0.9v0.9h-0.9zM475.9 430.3h1.2v1.2h-1.2zM480.8 437.4h1.9v1.9h-1.9zM482.0 438.3h2.0v2.0h-2.0zM481.3 437.4h1.6v1.6h-1.6zM480.9 438.8h1.2v1.2h-1.2zM481.0 440.1h1.4v1.4h-1.4zM480.1 436.1h2.5v2.5h-2.5zM464.7 407.2h1.5v1.5h-1.5zM464.2 406.1h1.2v1.2h-1.2zM465.2 407.1h1.0v1.0h-1.0zM465.4 407.3h1.3v1.3h-1.3zM465.0 406.8h0.8v0.8h-0.8zM465.0 406.5h1.2v1.2h-1.2zM532.2 402.9h1.2v1.2h-1.2zM530.2 403.0h1.2v1.2h-1.2zM531.2 402.0h1.6v1.6h-1.6zM530.5 403.6h1.1v1.1h-1.1zM530.9 404.4h1.0v1.0h-1.0zM531.1 402.4h0.9v0.9h-0.9zM463.1 446.0h1.1v1.1h-1.1zM464.3 446.5h0.8v0.8h-0.8zM463.1 446.1h0.6v0.6h-0.6zM464.5 446.0h1.2v1.2h-1.2zM462.6 445.2h1.2v1.2h-1.2zM461.6 445.1h1.1v1.1h-1.1zM485.6 434.6h1.9v1.9h-1.9zM486.2 434.9h1.8v1.8h-1.8zM484.8 433.6h1.7v1.7h-1.7zM487.9 434.9h1.3v1.3h-1.3zM485.4 432.4h1.1v1.1h-1.1zM486.9 434.5h1.2v1.2h-1.2zM450.4 413.4h1.0v1.0h-1.0zM450.0 410.3h1.5v1.5h-1.5zM450.2 411.2h1.2v1.2h-1.2zM450.3 412.6h1.8v1.8h-1.8zM448.4 410.2h2.0v2.0h-2.0zM447.7 412.1h2.2v2.2h-2.2zM483.8 386.0h2.3v2.3h-2.3zM479.5 389.9h2.2v2.2h-2.2zM480.9 387.0h1.5v1.5h-1.5zM480.4 386.7h1.3v1.3h-1.3zM479.7 385.0h2.7v2.7h-2.7zM481.5 385.8h2.3v2.3h-2.3zM465.3 389.8h0.9v0.9h-0.9zM464.1 387.1h1.3v1.3h-1.3zM466.5 388.5h0.9v0.9h-0.9zM465.8 388.2h0.7v0.7h-0.7zM465.1 387.8h1.3v1.3h-1.3zM465.2 388.8h0.8v0.8h-0.8zM461.4 444.0h2.1v2.1h-2.1zM458.1 445.0h2.6v2.6h-2.6zM461.6 446.5h1.8v1.8h-1.8zM459.0 442.0h2.6v2.6h-2.6zM460.4 441.5h2.0v2.0h-2.0zM461.5 443.3h1.4v1.4h-1.4zM458.5 416.8h1.7v1.7h-1.7zM457.9 416.3h1.2v1.2h-1.2zM457.7 418.4h1.6v1.6h-1.6zM457.8 416.8h1.8v1.8h-1.8zM458.5 419.1h1.1v1.1h-1.1zM459.4 418.1h1.9v1.9h-1.9zM507.7 444.9h1.4v1.4h-1.4zM509.1 445.6h1.0v1.0h-1.0zM509.4 445.4h1.3v1.3h-1.3zM508.7 447.0h1.1v1.1h-1.1zM508.2 444.8h1.4v1.4h-1.4zM508.5 443.5h0.9v0.9h-0.9zM524.1 379.0h0.8v0.8h-0.8zM523.1 380.1h1.8v1.8h-1.8zM522.5 378.8h1.2v1.2h-1.2zM524.2 379.3h1.4v1.4h-1.4zM523.9 379.8h1.7v1.7h-1.7zM523.2 378.5h1.0v1.0h-1.0zM519.6 389.7h2.0v2.0h-2.0zM518.8 391.7h1.8v1.8h-1.8zM518.1 392.9h1.8v1.8h-1.8zM519.0 393.2h1.0v1.0h-1.0zM518.0 391.5h1.1v1.1h-1.1zM518.4 388.2h1.9v1.9h-1.9zM508.4 424.5h1.3v1.3h-1.3zM509.7 427.0h1.6v1.6h-1.6zM509.2 425.3h1.7v1.7h-1.7zM509.6 422.8h1.8v1.8h-1.8zM509.1 428.4h1.5v1.5h-1.5zM510.3 426.6h1.1v1.1h-1.1zM448.1 389.4h0.6v0.6h-0.6zM448.1 390.9h1.0v1.0h-1.0zM448.6 389.2h1.2v1.2h-1.2zM447.5 390.7h1.1v1.1h-1.1zM449.2 390.6h1.1v1.1h-1.1zM448.6 390.8h1.2v1.2h-1.2zM528.5 448.9h1.4v1.4h-1.4zM529.0 447.7h1.6v1.6h-1.6zM528.8 448.5h1.5v1.5h-1.5zM527.8 449.0h1.8v1.8h-1.8zM528.6 448.4h1.8v1.8h-1.8zM529.7 450.1h1.4v1.4h-1.4zM488.3 424.2h1.3v1.3h-1.3zM487.7 424.4h1.1v1.1h-1.1zM488.9 425.6h0.8v0.8h-0.8zM488.4 425.3h1.3v1.3h-1.3zM488.2 424.9h0.7v0.7h-0.7zM488.2 425.8h0.7v0.7h-0.7zM534.9 439.7h1.1v1.1h-1.1zM536.3 439.6h1.1v1.1h-1.1zM535.9 438.7h0.6v0.6h-0.6zM535.0 439.9h1.1v1.1h-1.1zM534.9 440.6h1.1v1.1h-1.1zM535.8 438.3h0.7v0.7h-0.7zM482.1 432.9h0.9v0.9h-0.9zM481.8 436.3h1.2v1.2h-1.2zM481.5 434.6h1.1v1.1h-1.1zM483.4 434.5h0.8v0.8h-0.8zM481.5 434.5h1.5v1.5h-1.5zM481.9 435.5h1.0v1.0h-1.0zM522.7 446.2h1.5v1.5h-1.5zM520.4 446.0h1.4v1.4h-1.4zM521.7 445.4h1.6v1.6h-1.6zM520.4 445.0h2.2v2.2h-2.2zM522.4 447.1h1.9v1.9h-1.9zM522.7 446.3h1.3v1.3h-1.3zM464.9 438.0h1.5v1.5h-1.5zM464.7 434.4h1.2v1.2h-1.2zM464.0 436.2h1.9v1.9h-1.9zM463.1 435.4h1.6v1.6h-1.6zM462.7 438.5h1.9v1.9h-1.9zM464.1 436.9h1.7v1.7h-1.7zM456.3 390.0h2.6v2.6h-2.6zM453.9 389.1h2.3v2.3h-2.3zM456.6 391.4h2.2v2.2h-2.2zM456.5 387.2h2.6v2.6h-2.6zM456.6 385.4h2.2v2.2h-2.2zM456.8 390.0h1.4v1.4h-1.4zM477.4 387.6h1.8v1.8h-1.8zM479.6 388.4h1.4v1.4h-1.4zM480.5 387.5h1.9v1.9h-1.9zM479.9 387.9h1.5v1.5h-1.5zM477.9 390.0h2.0v2.0h-2.0zM478.7 386.7h1.6v1.6h-1.6zM477.9 399.7h2.3v2.3h-2.3zM477.0 399.8h1.8v1.8h-1.8zM478.3 401.0h1.7v1.7h-1.7zM481.8 401.8h1.2v1.2h-1.2zM476.3 400.3h1.5v1.5h-1.5zM474.3 401.3h2.4v2.4h-2.4zM516.6 440.1h0.8v0.8h-0.8zM516.0 439.6h1.2v1.2h-1.2zM518.3 438.7h1.3v1.3h-1.3zM515.5 438.1h1.6v1.6h-1.6zM517.9 440.4h1.0v1.0h-1.0zM516.8 440.1h1.4v1.4h-1.4zM535.3 399.6h1.1v1.1h-1.1zM534.0 399.5h1.2v1.2h-1.2zM533.3 400.1h1.0v1.0h-1.0zM534.9 397.2h1.3v1.3h-1.3zM533.8 399.3h1.0v1.0h-1.0zM531.3 399.4h1.5v1.5h-1.5zM449.3 377.4h1.3v1.3h-1.3zM450.7 377.6h1.1v1.1h-1.1zM450.0 377.8h0.9v0.9h-0.9zM450.5 377.5h1.3v1.3h-1.3zM450.3 376.9h1.1v1.1h-1.1zM449.7 377.1h0.8v0.8h-0.8zM486.0 400.6h1.8v1.8h-1.8zM486.7 400.6h0.9v0.9h-0.9zM485.0 402.0h2.0v2.0h-2.0zM485.8 399.5h1.7v1.7h-1.7zM487.0 400.1h1.0v1.0h-1.0zM484.9 399.7h1.5v1.5h-1.5zM512.7 392.1h1.3v1.3h-1.3zM506.5 393.3h1.5v1.5h-1.5zM508.0 392.9h1.5v1.5h-1.5zM508.7 393.7h1.2v1.2h-1.2zM505.4 394.4h2.0v2.0h-2.0zM508.1 394.2h1.9v1.9h-1.9zM533.6 414.0h1.5v1.5h-1.5zM530.6 414.7h1.7v1.7h-1.7zM531.0 413.6h1.3v1.3h-1.3zM530.5 414.9h1.3v1.3h-1.3zM529.4 415.3h1.5v1.5h-1.5zM532.7 415.1h1.1v1.1h-1.1zM449.2 445.6h0.8v0.8h-0.8zM449.8 445.2h0.9v0.9h-0.9zM450.2 446.3h0.9v0.9h-0.9zM450.1 446.0h0.9v0.9h-0.9zM450.3 446.9h1.1v1.1h-1.1zM449.9 444.8h1.1v1.1h-1.1zM522.1 387.4h1.0v1.0h-1.0zM519.8 387.9h1.4v1.4h-1.4zM521.4 386.2h1.3v1.3h-1.3zM520.4 386.7h1.6v1.6h-1.6zM521.8 386.6h1.3v1.3h-1.3zM523.1 388.2h0.8v0.8h-0.8zM506.1 376.6h1.5v1.5h-1.5zM504.9 376.9h1.9v1.9h-1.9zM505.6 376.6h1.2v1.2h-1.2zM500.3 375.5h2.5v2.5h-2.5zM501.8 379.4h2.0v2.0h-2.0zM506.7 378.1h1.7v1.7h-1.7zM509.0 447.9h2.3v2.3h-2.3zM507.7 447.3h2.5v2.5h-2.5zM506.4 448.7h1.4v1.4h-1.4zM507.3 449.2h2.3v2.3h-2.3zM507.3 446.8h1.7v1.7h-1.7zM507.3 447.2h1.8v1.8h-1.8zM473.2 427.7h1.5v1.5h-1.5zM473.8 425.6h1.5v1.5h-1.5zM472.6 426.0h1.8v1.8h-1.8zM472.7 427.9h2.0v2.0h-2.0zM474.7 426.8h1.4v1.4h-1.4zM473.3 427.6h1.5v1.5h-1.5zM543.4 388.2h1.4v1.4h-1.4zM542.8 390.1h1.1v1.1h-1.1zM543.1 387.7h0.9v0.9h-0.9zM542.2 388.7h1.7v1.7h-1.7zM543.5 389.5h1.2v1.2h-1.2zM542.5 389.2h1.6v1.6h-1.6zM539.9 432.4h1.2v1.2h-1.2zM537.4 432.7h1.9v1.9h-1.9zM537.9 433.9h1.5v1.5h-1.5zM538.7 432.1h1.5v1.5h-1.5zM537.6 431.4h1.3v1.3h-1.3zM541.2 433.6h1.6v1.6h-1.6zM505.2 416.4h0.8v0.8h-0.8zM505.3 418.5h0.9v0.9h-0.9zM506.5 417.6h0.6v0.6h-0.6zM504.8 417.6h1.1v1.1h-1.1zM504.7 417.6h1.1v1.1h-1.1zM504.7 418.7h1.0v1.0h-1.0zM526.3 396.8h1.7v1.7h-1.7zM525.2 396.7h1.3v1.3h-1.3zM526.5 396.0h1.5v1.5h-1.5zM525.6 396.3h0.9v0.9h-0.9zM526.8 394.7h1.2v1.2h-1.2zM525.3 396.5h0.8v0.8h-0.8zM512.4 437.3h2.2v2.2h-2.2zM513.4 436.9h1.3v1.3h-1.3zM511.8 439.1h1.9v1.9h-1.9zM511.4 436.4h1.9v1.9h-1.9zM510.2 434.9h1.7v1.7h-1.7zM512.6 438.6h1.6v1.6h-1.6zM472.6 412.3h1.6v1.6h-1.6zM472.8 411.5h2.1v2.1h-2.1zM470.4 411.5h2.1v2.1h-2.1zM471.6 413.9h1.6v1.6h-1.6zM471.7 413.8h1.1v1.1h-1.1zM472.3 414.3h1.3v1.3h-1.3zM481.2 424.9h2.0v2.0h-2.0zM479.2 420.6h1.8v1.8h-1.8zM479.0 424.3h1.4v1.4h-1.4zM480.1 421.6h1.5v1.5h-1.5zM480.3 426.0h1.9v1.9h-1.9zM476.8 423.7h2.3v2.3h-2.3zM467.7 398.5h1.5v1.5h-1.5zM469.8 398.2h1.8v1.8h-1.8zM466.5 396.6h2.2v2.2h-2.2zM468.4 398.7h1.6v1.6h-1.6zM466.5 398.6h1.6v1.6h-1.6zM468.2 400.6h1.6v1.6h-1.6zM485.8 421.6h0.7v0.7h-0.7zM487.4 420.9h0.7v0.7h-0.7zM487.1 421.8h1.2v1.2h-1.2zM486.9 422.4h1.3v1.3h-1.3zM487.3 421.6h1.5v1.5h-1.5zM487.7 420.7h1.3v1.3h-1.3zM462.9 414.9h0.8v0.8h-0.8zM462.7 415.0h0.8v0.8h-0.8zM463.1 415.4h0.8v0.8h-0.8zM462.1 415.3h0.8v0.8h-0.8zM462.3 415.1h1.0v1.0h-1.0zM461.1 415.0h0.8v0.8h-0.8zM497.6 436.5h0.7v0.7h-0.7zM498.1 436.2h1.0v1.0h-1.0zM497.4 437.2h0.7v0.7h-0.7zM497.0 436.8h1.0v1.0h-1.0zM497.5 436.3h1.1v1.1h-1.1zM497.5 436.8h0.7v0.7h-0.7zM520.6 400.7h1.9v1.9h-1.9zM520.0 398.0h2.2v2.2h-2.2zM521.1 403.2h1.8v1.8h-1.8zM519.0 400.1h1.3v1.3h-1.3zM520.0 398.8h1.9v1.9h-1.9zM517.5 396.6h2.1v2.1h-2.1zM524.6 431.1h1.6v1.6h-1.6zM523.5 428.9h1.9v1.9h-1.9zM520.9 431.1h1.9v1.9h-1.9zM525.1 434.2h2.1v2.1h-2.1zM525.2 433.8h1.3v1.3h-1.3zM523.2 433.7h1.6v1.6h-1.6zM450.7 423.3h1.3v1.3h-1.3zM451.6 426.5h1.3v1.3h-1.3zM452.4 424.1h1.3v1.3h-1.3zM448.8 423.3h1.2v1.2h-1.2zM450.0 424.4h1.4v1.4h-1.4zM449.5 423.0h2.4v2.4h-2.4zM474.1 394.5h0.8v0.8h-0.8zM473.4 393.6h1.4v1.4h-1.4zM472.8 394.6h1.3v1.3h-1.3zM473.1 393.6h1.3v1.3h-1.3zM474.1 393.9h1.1v1.1h-1.1zM473.8 394.2h1.0v1.0h-1.0zM499.9 390.6h1.6v1.6h-1.6zM500.3 391.2h2.0v2.0h-2.0zM500.7 393.6h2.1v2.1h-2.1zM500.2 392.0h1.6v1.6h-1.6zM500.7 393.8h1.1v1.1h-1.1zM502.0 391.8h1.0v1.0h-1.0zM534.9 379.4h1.1v1.1h-1.1zM533.5 378.9h0.9v0.9h-0.9zM534.3 379.2h0.5v0.5h-0.5zM534.5 379.7h1.0v1.0h-1.0zM535.6 379.3h0.7v0.7h-0.7zM534.0 380.8h0.8v0.8h-0.8zM464.6 415.8h0.7v0.7h-0.7zM464.5 416.1h0.6v0.6h-0.6zM462.6 415.1h1.1v1.1h-1.1zM464.9 414.6h1.0v1.0h-1.0zM464.4 415.1h0.9v0.9h-0.9zM464.1 414.2h1.3v1.3h-1.3zM542.7 419.1h1.4v1.4h-1.4zM543.3 416.2h1.1v1.1h-1.1zM543.8 415.6h1.0v1.0h-1.0zM542.3 416.5h1.1v1.1h-1.1zM543.6 416.4h1.6v1.6h-1.6zM542.8 417.8h1.2v1.2h-1.2zM457.5 406.7h2.2v2.2h-2.2zM457.8 406.9h2.4v2.4h-2.4zM458.3 408.8h1.5v1.5h-1.5zM453.5 408.2h2.5v2.5h-2.5zM455.0 408.4h2.4v2.4h-2.4zM456.6 408.6h1.5v1.5h-1.5zM488.9 400.7h2.1v2.1h-2.1zM489.1 402.9h1.1v1.1h-1.1zM488.1 403.4h1.7v1.7h-1.7zM489.5 399.6h2.0v2.0h-2.0zM487.2 402.2h1.6v1.6h-1.6zM487.7 402.3h1.4v1.4h-1.4zM527.7 378.5h0.9v0.9h-0.9zM528.7 379.2h1.0v1.0h-1.0zM529.7 380.3h1.0v1.0h-1.0zM529.6 380.3h0.8v0.8h-0.8zM529.0 379.5h1.1v1.1h-1.1zM529.4 380.1h0.6v0.6h-0.6zM507.4 442.1h1.7v1.7h-1.7zM507.1 440.0h1.8v1.8h-1.8zM506.5 443.2h1.9v1.9h-1.9zM506.9 441.8h1.1v1.1h-1.1zM509.4 439.2h1.8v1.8h-1.8zM505.8 440.0h1.8v1.8h-1.8zM506.6 400.5h1.8v1.8h-1.8zM507.2 399.0h1.4v1.4h-1.4zM506.5 401.2h1.3v1.3h-1.3zM507.2 402.3h1.8v1.8h-1.8zM507.1 400.4h1.3v1.3h-1.3zM507.4 402.8h1.1v1.1h-1.1zM538.5 404.6h1.0v1.0h-1.0zM538.2 404.1h0.8v0.8h-0.8zM536.5 404.8h1.3v1.3h-1.3zM537.7 404.8h0.7v0.7h-0.7zM537.8 404.3h1.3v1.3h-1.3zM539.0 405.6h0.7v0.7h-0.7zM486.1 421.5h0.8v0.8h-0.8zM484.6 421.0h1.1v1.1h-1.1zM485.9 420.2h0.7v0.7h-0.7zM484.0 421.7h0.9v0.9h-0.9zM485.0 420.9h0.6v0.6h-0.6zM485.3 420.9h1.1v1.1h-1.1zM505.4 435.9h2.4v2.4h-2.4zM507.8 439.8h1.4v1.4h-1.4zM507.4 438.8h1.7v1.7h-1.7zM507.1 436.5h2.0v2.0h-2.0zM507.2 437.6h2.3v2.3h-2.3zM508.5 439.3h1.6v1.6h-1.6zM529.9 421.3h0.8v0.8h-0.8zM529.5 420.8h0.9v0.9h-0.9zM527.1 419.7h1.2v1.2h-1.2zM529.2 421.2h1.1v1.1h-1.1zM527.6 420.4h1.6v1.6h-1.6zM527.9 420.5h1.1v1.1h-1.1zM529.3 425.5h1.2v1.2h-1.2zM530.8 422.8h1.1v1.1h-1.1zM529.7 421.5h2.0v2.0h-2.0zM529.5 424.2h1.4v1.4h-1.4zM530.4 423.2h1.7v1.7h-1.7zM530.1 422.4h1.6v1.6h-1.6zM540.1 443.0h1.1v1.1h-1.1zM540.9 443.3h0.7v0.7h-0.7zM541.3 443.4h1.2v1.2h-1.2zM541.4 444.3h0.6v0.6h-0.6zM541.7 443.1h1.0v1.0h-1.0zM540.6 442.2h1.1v1.1h-1.1z" fill="#383838" filter="url(#bl1)" opacity="0.9"/>
<path d="M542.4 380.6h0.8v0.8h-0.8zM493.6 445.4h0.7v0.7h-0.7zM536.5 388.1h1.0v1.0h-1.0zM486.6 390.1h0.6v0.6h-0.6zM508.1 379.2h0.7v0.7h-0.7zM446.8 381.8h0.5v0.5h-0.5zM468.4 396.6h0.9v0.9h-0.9zM486.7 439.1h0.9v0.9h-0.9zM534.2 445.8h0.8v0.8h-0.8zM512.1 441.0h0.7v0.7h-0.7zM459.7 414.6h0.7v0.7h-0.7zM463.5 383.5h0.5v0.5h-0.5zM514.6 435.9h0.8v0.8h-0.8zM488.0 378.9h0.5v0.5h-0.5zM510.5 415.3h0.7v0.7h-0.7zM462.7 385.7h0.5v0.5h-0.5zM458.4 420.4h0.6v0.6h-0.6zM500.6 408.0h0.7v0.7h-0.7zM519.4 433.7h0.5v0.5h-0.5zM540.6 438.8h0.9v0.9h-0.9zM490.4 446.0h0.9v0.9h-0.9zM469.2 426.7h0.9v0.9h-0.9zM520.2 442.3h0.7v0.7h-0.7zM512.0 382.1h0.8v0.8h-0.8zM460.0 429.4h0.9v0.9h-0.9zM482.5 381.9h0.5v0.5h-0.5zM496.7 388.0h0.8v0.8h-0.8zM506.0 413.1h0.8v0.8h-0.8zM460.7 410.2h0.5v0.5h-0.5zM499.9 434.7h0.5v0.5h-0.5zM513.9 449.3h0.6v0.6h-0.6zM466.2 395.0h0.9v0.9h-0.9zM453.7 433.3h0.6v0.6h-0.6zM520.4 441.3h0.9v0.9h-0.9zM464.7 416.7h0.6v0.6h-0.6zM532.4 398.3h0.5v0.5h-0.5zM485.9 383.0h0.6v0.6h-0.6zM515.3 400.6h0.5v0.5h-0.5zM538.1 395.6h0.9v0.9h-0.9zM513.3 417.2h0.8v0.8h-0.8zM503.1 438.0h0.8v0.8h-0.8zM472.2 424.5h0.7v0.7h-0.7zM537.0 385.1h0.7v0.7h-0.7zM541.3 381.5h0.8v0.8h-0.8zM534.8 421.2h0.5v0.5h-0.5zM522.5 395.9h0.7v0.7h-0.7zM526.6 399.6h0.6v0.6h-0.6zM457.3 401.8h0.5v0.5h-0.5zM514.5 437.3h0.5v0.5h-0.5zM497.8 434.4h0.9v0.9h-0.9zM471.8 415.3h0.8v0.8h-0.8zM497.0 449.5h0.9v0.9h-0.9zM541.4 385.9h0.5v0.5h-0.5zM504.1 419.0h0.6v0.6h-0.6zM469.7 433.9h0.9v0.9h-0.9zM446.9 385.5h0.8v0.8h-0.8zM487.4 387.8h1.0v1.0h-1.0zM478.3 382.3h0.7v0.7h-0.7zM485.8 423.8h0.9v0.9h-0.9zM453.6 411.0h0.9v0.9h-0.9zM493.7 441.3h0.9v0.9h-0.9zM525.4 424.3h0.5v0.5h-0.5zM543.0 398.7h0.6v0.6h-0.6zM495.5 415.6h0.9v0.9h-0.9zM499.0 443.8h0.9v0.9h-0.9zM509.6 396.7h0.8v0.8h-0.8zM495.3 432.1h0.6v0.6h-0.6zM524.2 428.8h0.5v0.5h-0.5zM538.6 412.1h0.7v0.7h-0.7zM479.0 404.8h0.9v0.9h-0.9zM536.9 410.9h0.7v0.7h-0.7zM491.9 385.5h0.9v0.9h-0.9zM487.3 378.7h0.6v0.6h-0.6zM475.4 434.1h0.5v0.5h-0.5zM461.2 442.6h0.6v0.6h-0.6zM537.9 377.5h0.5v0.5h-0.5zM466.4 405.2h0.7v0.7h-0.7zM478.0 446.9h1.0v1.0h-1.0zM501.8 448.5h0.9v0.9h-0.9zM542.3 419.6h0.5v0.5h-0.5zM501.8 380.2h0.7v0.7h-0.7zM544.0 405.4h0.8v0.8h-0.8zM539.8 428.4h0.7v0.7h-0.7zM496.3 385.5h0.9v0.9h-0.9zM509.8 400.3h0.7v0.7h-0.7zM530.1 380.3h0.6v0.6h-0.6zM507.8 434.3h0.7v0.7h-0.7zM508.1 377.4h0.8v0.8h-0.8zM500.6 382.0h0.7v0.7h-0.7zM470.7 401.8h0.9v0.9h-0.9zM528.6 377.7h0.5v0.5h-0.5zM508.6 444.0h0.8v0.8h-0.8zM479.3 430.9h0.9v0.9h-0.9zM452.1 379.3h0.7v0.7h-0.7zM516.2 414.8h0.7v0.7h-0.7zM461.5 388.8h0.5v0.5h-0.5zM491.7 395.8h0.8v0.8h-0.8zM491.9 400.0h0.9v0.9h-0.9zM479.0 410.4h0.7v0.7h-0.7zM514.9 448.2h0.8v0.8h-0.8zM445.7 431.5h0.7v0.7h-0.7zM509.1 379.1h0.5v0.5h-0.5zM447.3 385.3h0.5v0.5h-0.5zM516.0 432.5h0.7v0.7h-0.7zM467.1 408.8h0.5v0.5h-0.5zM469.8 409.0h0.9v0.9h-0.9zM517.5 384.9h0.9v0.9h-0.9zM542.7 441.6h0.5v0.5h-0.5zM503.8 445.8h0.6v0.6h-0.6zM502.4 422.5h1.0v1.0h-1.0zM527.4 410.8h0.8v0.8h-0.8zM465.9 436.7h0.6v0.6h-0.6zM511.3 387.0h0.8v0.8h-0.8zM525.5 384.7h0.7v0.7h-0.7zM461.5 415.0h0.6v0.6h-0.6zM538.2 437.6h0.5v0.5h-0.5zM470.0 396.1h0.5v0.5h-0.5zM500.4 429.3h0.7v0.7h-0.7zM496.1 389.0h0.7v0.7h-0.7zM529.3 382.5h0.6v0.6h-0.6zM497.4 413.2h0.6v0.6h-0.6zM520.3 448.5h0.7v0.7h-0.7zM543.5 445.1h0.9v0.9h-0.9zM475.0 417.3h1.0v1.0h-1.0zM529.6 411.3h0.6v0.6h-0.6zM471.1 405.3h0.9v0.9h-0.9zM486.5 414.5h0.6v0.6h-0.6zM489.2 388.3h0.5v0.5h-0.5zM466.2 416.2h0.8v0.8h-0.8zM520.1 405.4h0.8v0.8h-0.8zM537.3 379.5h0.7v0.7h-0.7zM468.2 446.7h0.5v0.5h-0.5zM477.9 403.1h0.9v0.9h-0.9zM512.6 380.2h0.7v0.7h-0.7zM480.3 387.6h0.5v0.5h-0.5zM492.3 435.8h1.0v1.0h-1.0zM467.5 397.6h0.8v0.8h-0.8zM503.3 403.9h0.5v0.5h-0.5zM528.1 404.3h0.6v0.6h-0.6zM496.4 383.3h0.7v0.7h-0.7zM456.7 400.5h0.8v0.8h-0.8zM517.9 447.9h0.8v0.8h-0.8zM454.9 422.5h0.6v0.6h-0.6zM468.3 424.8h0.6v0.6h-0.6zM533.5 414.8h0.5v0.5h-0.5zM458.6 380.0h1.0v1.0h-1.0zM537.1 410.2h0.9v0.9h-0.9zM517.8 429.5h0.8v0.8h-0.8zM518.7 382.4h0.8v0.8h-0.8zM491.5 405.4h0.6v0.6h-0.6zM509.0 433.3h0.8v0.8h-0.8zM451.4 380.2h0.8v0.8h-0.8zM510.4 383.1h0.5v0.5h-0.5zM532.5 448.9h0.9v0.9h-0.9zM506.5 381.5h0.6v0.6h-0.6zM474.5 408.4h0.9v0.9h-0.9zM537.9 389.0h0.7v0.7h-0.7zM532.7 449.3h0.7v0.7h-0.7zM465.3 427.5h0.5v0.5h-0.5zM520.4 439.0h0.9v0.9h-0.9z" fill="#555555" filter="url(#bl1)" opacity="0.75"/>
</g>
<line x1="522.00" y1="444.50" x2="544.30" y2="444.50" stroke="#ffffff" stroke-width="0.9"/>
<text x="533.00" y="448.51" font-size="2.8" text-anchor="middle" fill="#f4f4f4">100 µm</text>
<g clip-path="url(#cm2)">
<rect x="570.90" y="376.70" width="97.50" height="73.50" fill="url(#gm2)"/>
<path d="M617.0 417.6h2.7v2.7h-2.7zM616.3 416.7h2.2v2.2h-2.2zM617.2 417.3h2.6v2.6h-2.6zM619.7 414.8h2.6v2.6h-2.6zM617.2 418.3h1.7v1.7h-1.7zM617.8 415.3h2.0v2.0h-2.0zM618.9 415.9h3.2v3.2h-3.2zM631.1 433.8h1.7v1.7h-1.7zM629.6 432.3h1.3v1.3h-1.3zM629.8 431.8h1.9v1.9h-1.9zM633.1 427.3h1.9v1.9h-1.9zM631.3 432.7h1.4v1.4h-1.4zM630.3 433.5h2.2v2.2h-2.2zM631.7 431.9h1.9v1.9h-1.9zM610.1 387.0h1.8v1.8h-1.8zM607.6 384.9h2.2v2.2h-2.2zM608.3 386.7h1.5v1.5h-1.5zM609.2 385.5h2.0v2.0h-2.0zM610.9 385.2h1.6v1.6h-1.6zM606.3 386.6h1.9v1.9h-1.9zM609.0 385.3h1.8v1.8h-1.8zM642.7 392.7h1.2v1.2h-1.2zM641.3 393.9h1.1v1.1h-1.1zM642.9 394.5h1.0v1.0h-1.0zM643.8 392.2h1.4v1.4h-1.4zM643.2 394.6h1.0v1.0h-1.0zM641.6 394.1h1.3v1.3h-1.3zM642.8 394.2h1.1v1.1h-1.1zM615.7 441.7h2.0v2.0h-2.0zM616.0 444.4h1.4v1.4h-1.4zM613.6 443.5h2.6v2.6h-2.6zM615.4 444.6h2.2v2.2h-2.2zM615.0 443.8h1.7v1.7h-1.7zM612.6 444.6h2.4v2.4h-2.4zM616.1 442.4h2.6v2.6h-2.6zM616.6 396.3h1.3v1.3h-1.3zM617.3 397.4h1.0v1.0h-1.0zM615.5 395.7h0.9v0.9h-0.9zM617.1 397.3h0.9v0.9h-0.9zM614.5 397.4h1.2v1.2h-1.2zM616.0 399.2h0.9v0.9h-0.9zM615.6 396.7h1.3v1.3h-1.3zM620.1 395.9h1.1v1.1h-1.1zM618.3 396.1h0.9v0.9h-0.9zM618.8 396.8h1.6v1.6h-1.6zM621.2 397.3h1.4v1.4h-1.4zM618.4 396.8h1.1v1.1h-1.1zM619.0 397.0h1.2v1.2h-1.2zM618.5 396.1h1.2v1.2h-1.2zM631.8 433.5h1.7v1.7h-1.7zM630.6 431.2h2.2v2.2h-2.2zM628.3 432.1h1.8v1.8h-1.8zM630.5 433.3h1.5v1.5h-1.5zM629.5 434.1h2.1v2.1h-2.1zM628.0 431.7h3.1v3.1h-3.1zM627.4 436.2h3.1v3.1h-3.1zM624.5 435.0h1.0v1.0h-1.0zM624.5 435.1h0.8v0.8h-0.8zM625.2 435.7h0.8v0.8h-0.8zM623.3 434.9h1.4v1.4h-1.4zM624.3 435.0h1.4v1.4h-1.4zM624.1 435.0h1.1v1.1h-1.1zM625.6 435.2h1.2v1.2h-1.2zM625.4 376.8h1.9v1.9h-1.9zM624.6 378.9h2.7v2.7h-2.7zM620.8 375.9h1.5v1.5h-1.5zM624.0 377.5h2.0v2.0h-2.0zM624.5 378.0h1.8v1.8h-1.8zM624.1 375.7h1.8v1.8h-1.8zM621.6 376.9h3.2v3.2h-3.2zM580.7 392.4h1.4v1.4h-1.4zM576.7 391.7h2.6v2.6h-2.6zM577.9 392.4h2.4v2.4h-2.4zM578.1 390.8h1.5v1.5h-1.5zM579.9 392.3h1.5v1.5h-1.5zM578.5 393.8h2.5v2.5h-2.5zM580.3 395.2h1.6v1.6h-1.6zM595.8 402.4h2.1v2.1h-2.1zM591.3 401.4h3.1v3.1h-3.1zM591.5 398.6h3.1v3.1h-3.1zM594.6 401.6h1.6v1.6h-1.6zM593.0 401.5h2.1v2.1h-2.1zM591.7 400.9h2.9v2.9h-2.9zM594.2 400.3h2.5v2.5h-2.5zM615.3 406.0h2.0v2.0h-2.0zM617.8 409.6h1.8v1.8h-1.8zM615.8 409.4h1.5v1.5h-1.5zM611.9 409.6h2.4v2.4h-2.4zM615.9 412.5h1.7v1.7h-1.7zM615.1 407.4h3.0v3.0h-3.0zM618.4 406.8h2.0v2.0h-2.0zM612.0 410.9h3.3v3.3h-3.3zM610.6 413.0h3.4v3.4h-3.4zM613.5 410.8h3.1v3.1h-3.1zM607.8 414.0h2.3v2.3h-2.3zM613.5 412.3h3.5v3.5h-3.5zM613.3 412.1h2.5v2.5h-2.5zM614.4 411.3h3.3v3.3h-3.3zM667.5 391.9h0.8v0.8h-0.8zM667.4 393.0h1.3v1.3h-1.3zM666.0 392.1h1.0v1.0h-1.0zM667.1 390.5h1.4v1.4h-1.4zM667.3 392.2h1.0v1.0h-1.0zM666.4 392.1h0.9v0.9h-0.9zM667.4 390.4h1.5v1.5h-1.5zM587.7 378.7h3.5v3.5h-3.5zM587.8 378.7h2.9v2.9h-2.9zM585.2 382.7h3.2v3.2h-3.2zM586.8 376.5h2.3v2.3h-2.3zM592.2 376.9h2.1v2.1h-2.1zM588.8 379.0h2.7v2.7h-2.7zM585.2 376.1h3.4v3.4h-3.4zM608.3 408.3h1.2v1.2h-1.2zM608.5 411.3h1.2v1.2h-1.2zM608.3 408.6h1.5v1.5h-1.5zM609.0 411.8h1.1v1.1h-1.1zM608.3 410.1h1.6v1.6h-1.6zM606.1 409.2h2.1v2.1h-2.1zM608.4 410.0h1.3v1.3h-1.3zM618.5 404.7h1.3v1.3h-1.3zM618.5 403.4h1.2v1.2h-1.2zM620.1 405.8h1.3v1.3h-1.3zM620.0 404.1h1.1v1.1h-1.1zM617.4 405.6h2.3v2.3h-2.3zM619.1 403.8h1.8v1.8h-1.8zM616.3 403.4h1.3v1.3h-1.3zM620.2 418.6h1.4v1.4h-1.4zM620.9 417.7h2.4v2.4h-2.4zM620.1 418.1h2.3v2.3h-2.3zM619.8 421.2h1.1v1.1h-1.1zM618.4 417.0h1.5v1.5h-1.5zM621.3 416.5h2.2v2.2h-2.2zM619.7 419.1h1.6v1.6h-1.6zM602.1 395.6h2.4v2.4h-2.4zM598.9 393.7h2.5v2.5h-2.5zM603.2 392.1h3.0v3.0h-3.0zM600.8 395.2h2.9v2.9h-2.9zM600.2 390.6h1.6v1.6h-1.6zM603.7 395.3h2.3v2.3h-2.3zM601.6 395.5h1.8v1.8h-1.8zM636.3 407.5h1.5v1.5h-1.5zM641.8 405.4h2.3v2.3h-2.3zM641.1 407.4h3.1v3.1h-3.1zM641.5 407.7h2.4v2.4h-2.4zM643.1 407.5h2.0v2.0h-2.0zM645.0 405.5h2.4v2.4h-2.4zM642.4 406.2h1.5v1.5h-1.5zM612.8 441.0h2.3v2.3h-2.3zM609.8 438.3h2.5v2.5h-2.5zM610.9 438.9h1.9v1.9h-1.9zM610.3 441.4h3.0v3.0h-3.0zM607.8 441.9h2.9v2.9h-2.9zM610.3 442.9h1.8v1.8h-1.8zM610.6 440.6h2.3v2.3h-2.3zM624.1 388.7h1.8v1.8h-1.8zM624.3 388.3h2.3v2.3h-2.3zM624.3 387.9h2.5v2.5h-2.5zM620.7 390.3h2.9v2.9h-2.9zM623.8 387.9h2.7v2.7h-2.7zM625.6 393.8h2.1v2.1h-2.1zM622.2 388.8h2.6v2.6h-2.6zM599.8 380.1h0.7v0.7h-0.7zM599.5 379.2h0.8v0.8h-0.8zM598.2 379.7h1.3v1.3h-1.3zM598.6 380.6h1.1v1.1h-1.1zM600.1 378.8h0.8v0.8h-0.8zM598.5 381.7h0.8v0.8h-0.8zM599.5 381.8h0.9v0.9h-0.9zM626.8 381.0h1.9v1.9h-1.9zM628.8 382.2h3.0v3.0h-3.0zM624.0 379.1h3.3v3.3h-3.3zM624.6 380.8h2.9v2.9h-2.9zM625.8 377.2h2.9v2.9h-2.9zM624.5 382.3h3.2v3.2h-3.2zM625.7 380.1h2.6v2.6h-2.6zM625.2 391.6h2.0v2.0h-2.0zM620.2 393.7h2.3v2.3h-2.3zM621.2 389.8h2.4v2.4h-2.4zM619.8 389.3h2.2v2.2h-2.2zM622.5 390.6h1.8v1.8h-1.8zM621.3 387.9h3.2v3.2h-3.2zM621.5 387.9h2.7v2.7h-2.7zM640.4 439.8h1.3v1.3h-1.3zM639.6 440.2h0.8v0.8h-0.8zM641.3 439.6h0.8v0.8h-0.8zM641.0 440.6h0.8v0.8h-0.8zM642.0 437.9h1.2v1.2h-1.2zM640.1 439.8h0.9v0.9h-0.9zM639.8 439.9h1.3v1.3h-1.3zM605.5 403.2h2.3v2.3h-2.3zM604.9 404.9h2.4v2.4h-2.4zM606.2 406.2h1.8v1.8h-1.8zM605.4 404.8h2.7v2.7h-2.7zM606.6 407.3h1.9v1.9h-1.9zM605.9 404.0h3.0v3.0h-3.0zM604.3 403.5h1.6v1.6h-1.6zM636.4 388.5h2.2v2.2h-2.2zM638.2 388.8h2.1v2.1h-2.1zM634.8 388.3h3.1v3.1h-3.1zM635.9 388.6h1.9v1.9h-1.9zM638.7 389.1h2.0v2.0h-2.0zM637.8 389.9h2.6v2.6h-2.6zM641.4 389.5h2.4v2.4h-2.4zM659.8 443.0h2.2v2.2h-2.2zM661.1 443.0h1.5v1.5h-1.5zM660.5 443.9h1.1v1.1h-1.1zM659.6 444.7h1.3v1.3h-1.3zM658.9 443.0h1.9v1.9h-1.9zM657.8 442.4h1.4v1.4h-1.4zM662.1 445.1h1.2v1.2h-1.2zM627.6 429.9h2.5v2.5h-2.5zM624.8 430.9h2.4v2.4h-2.4zM624.7 430.2h2.6v2.6h-2.6zM621.4 429.8h2.1v2.1h-2.1zM623.5 428.6h2.3v2.3h-2.3zM624.9 429.4h2.6v2.6h-2.6zM624.3 429.1h2.2v2.2h-2.2zM666.6 440.0h2.7v2.7h-2.7zM665.9 437.9h3.2v3.2h-3.2zM666.6 439.6h2.0v2.0h-2.0zM668.0 437.3h2.5v2.5h-2.5zM662.6 439.9h3.3v3.3h-3.3zM666.3 434.9h2.4v2.4h-2.4zM664.0 437.3h2.0v2.0h-2.0zM614.4 419.3h1.4v1.4h-1.4zM614.8 420.2h1.4v1.4h-1.4zM616.0 418.3h1.5v1.5h-1.5zM615.8 419.3h0.9v0.9h-0.9zM615.4 418.2h1.0v1.0h-1.0zM614.7 420.7h0.8v0.8h-0.8zM615.7 419.2h1.1v1.1h-1.1zM625.7 448.5h1.7v1.7h-1.7zM626.5 449.4h1.9v1.9h-1.9zM626.9 447.4h2.3v2.3h-2.3zM627.3 450.9h1.7v1.7h-1.7zM625.5 447.9h1.6v1.6h-1.6zM626.3 446.9h1.8v1.8h-1.8zM627.5 452.1h1.2v1.2h-1.2zM580.0 413.7h1.7v1.7h-1.7zM581.3 414.1h2.0v2.0h-2.0zM580.2 415.1h1.8v1.8h-1.8zM581.2 415.7h1.2v1.2h-1.2zM579.9 412.9h1.8v1.8h-1.8zM581.5 413.0h1.8v1.8h-1.8zM579.9 410.9h1.2v1.2h-1.2zM594.2 425.0h1.9v1.9h-1.9zM593.7 426.5h2.0v2.0h-2.0zM590.9 428.2h2.1v2.1h-2.1zM587.9 422.5h2.8v2.8h-2.8zM591.9 425.9h1.8v1.8h-1.8zM592.0 423.4h2.8v2.8h-2.8zM592.0 423.9h2.9v2.9h-2.9zM636.1 381.3h1.0v1.0h-1.0zM637.5 380.7h1.0v1.0h-1.0zM636.2 382.4h0.9v0.9h-0.9zM636.7 381.5h1.3v1.3h-1.3zM636.3 382.4h0.8v0.8h-0.8zM636.3 380.2h1.5v1.5h-1.5zM637.7 381.7h1.3v1.3h-1.3zM630.8 415.0h1.7v1.7h-1.7zM632.2 416.1h2.3v2.3h-2.3zM629.1 413.4h2.8v2.8h-2.8zM631.6 413.8h1.9v1.9h-1.9zM631.2 416.4h2.0v2.0h-2.0zM632.4 416.1h2.7v2.7h-2.7zM630.6 413.8h3.0v3.0h-3.0zM645.6 389.0h3.2v3.2h-3.2zM648.7 392.3h2.0v2.0h-2.0zM650.2 389.3h1.8v1.8h-1.8zM649.3 391.5h2.2v2.2h-2.2zM652.9 390.0h2.7v2.7h-2.7zM647.7 392.7h2.5v2.5h-2.5zM650.2 392.4h2.1v2.1h-2.1zM599.3 425.1h2.3v2.3h-2.3zM601.1 421.8h3.1v3.1h-3.1zM600.6 425.6h1.6v1.6h-1.6zM598.3 425.0h2.4v2.4h-2.4zM597.0 422.9h3.1v3.1h-3.1zM602.5 426.2h2.2v2.2h-2.2zM600.6 422.7h1.9v1.9h-1.9zM633.5 443.4h1.1v1.1h-1.1zM632.7 442.4h1.5v1.5h-1.5zM630.9 442.8h0.8v0.8h-0.8zM631.3 441.6h1.3v1.3h-1.3zM632.3 442.7h1.1v1.1h-1.1zM630.7 442.5h0.9v0.9h-0.9zM630.3 443.7h1.4v1.4h-1.4zM595.6 419.0h1.5v1.5h-1.5zM596.6 419.0h1.4v1.4h-1.4zM598.5 420.1h1.5v1.5h-1.5zM597.3 419.2h1.3v1.3h-1.3zM596.9 420.1h1.6v1.6h-1.6zM597.3 419.6h1.4v1.4h-1.4zM596.5 418.6h1.0v1.0h-1.0zM608.8 443.0h1.6v1.6h-1.6zM605.8 444.2h2.6v2.6h-2.6zM608.4 442.7h1.6v1.6h-1.6zM609.5 440.7h2.5v2.5h-2.5zM608.8 442.5h1.5v1.5h-1.5zM609.3 444.5h2.1v2.1h-2.1zM607.3 445.1h2.5v2.5h-2.5zM651.9 381.0h1.8v1.8h-1.8zM653.9 380.2h1.3v1.3h-1.3zM655.9 380.8h1.9v1.9h-1.9zM658.2 381.5h1.0v1.0h-1.0zM655.6 380.3h1.8v1.8h-1.8zM655.2 381.7h2.0v2.0h-2.0zM656.2 381.4h1.0v1.0h-1.0zM643.0 446.5h0.9v0.9h-0.9zM643.7 445.9h0.8v0.8h-0.8zM643.0 446.3h0.8v0.8h-0.8zM641.7 445.5h1.6v1.6h-1.6zM641.8 443.7h1.6v1.6h-1.6zM641.8 445.8h0.8v0.8h-0.8zM641.2 444.3h1.1v1.1h-1.1zM652.2 398.2h2.8v2.8h-2.8zM651.4 401.9h2.0v2.0h-2.0zM651.0 399.2h1.6v1.6h-1.6zM653.0 398.0h2.6v2.6h-2.6zM649.6 400.9h2.3v2.3h-2.3zM653.4 395.4h1.7v1.7h-1.7zM651.7 398.5h2.0v2.0h-2.0zM596.4 404.8h0.7v0.7h-0.7zM596.3 405.5h1.0v1.0h-1.0zM597.7 403.6h1.1v1.1h-1.1zM598.0 404.6h0.8v0.8h-0.8zM596.7 404.3h1.2v1.2h-1.2zM597.3 403.5h1.2v1.2h-1.2zM597.8 403.8h1.0v1.0h-1.0zM594.3 390.5h2.3v2.3h-2.3zM601.3 391.0h1.6v1.6h-1.6zM593.9 389.7h2.7v2.7h-2.7zM598.1 391.8h1.6v1.6h-1.6zM597.3 392.2h1.3v1.3h-1.3zM596.9 392.3h2.4v2.4h-2.4zM598.5 391.2h1.8v1.8h-1.8zM637.5 399.2h1.6v1.6h-1.6zM636.2 400.6h1.9v1.9h-1.9zM636.5 401.2h1.1v1.1h-1.1zM637.1 400.3h1.3v1.3h-1.3zM638.0 400.0h1.9v1.9h-1.9zM637.0 400.4h1.5v1.5h-1.5zM637.3 401.9h1.9v1.9h-1.9zM621.1 389.4h2.1v2.1h-2.1zM621.5 389.1h1.8v1.8h-1.8zM619.6 389.4h3.1v3.1h-3.1zM621.2 388.2h3.2v3.2h-3.2zM623.0 390.0h1.9v1.9h-1.9zM619.7 390.1h1.5v1.5h-1.5zM620.6 387.8h3.0v3.0h-3.0zM632.0 435.8h2.2v2.2h-2.2zM632.3 436.2h2.6v2.6h-2.6zM631.8 433.2h2.4v2.4h-2.4zM632.5 433.7h1.6v1.6h-1.6zM630.2 434.3h2.0v2.0h-2.0zM632.7 435.1h1.5v1.5h-1.5zM630.6 434.9h2.5v2.5h-2.5zM616.2 387.9h1.3v1.3h-1.3zM618.3 388.2h2.3v2.3h-2.3zM617.3 388.8h1.8v1.8h-1.8zM619.4 387.6h1.4v1.4h-1.4zM618.3 386.1h2.4v2.4h-2.4zM621.5 385.7h1.7v1.7h-1.7zM618.5 389.5h2.0v2.0h-2.0zM612.5 400.8h1.7v1.7h-1.7zM609.3 397.7h3.0v3.0h-3.0zM611.7 402.4h1.6v1.6h-1.6zM610.5 402.5h2.6v2.6h-2.6zM611.7 399.4h2.0v2.0h-2.0zM611.8 398.8h2.5v2.5h-2.5zM612.0 399.2h3.4v3.4h-3.4zM603.6 397.3h0.8v0.8h-0.8zM601.8 394.3h1.3v1.3h-1.3zM602.2 396.2h1.0v1.0h-1.0zM602.6 396.1h1.2v1.2h-1.2zM602.3 393.9h1.2v1.2h-1.2zM602.5 394.1h1.2v1.2h-1.2zM603.8 395.4h0.7v0.7h-0.7zM601.8 391.9h1.2v1.2h-1.2zM602.4 390.4h1.2v1.2h-1.2zM603.2 390.3h1.4v1.4h-1.4zM603.2 392.2h1.4v1.4h-1.4zM603.3 391.1h1.2v1.2h-1.2zM602.4 392.0h1.1v1.1h-1.1zM603.0 392.8h0.8v0.8h-0.8z" fill="#363636" filter="url(#bl1)" opacity="0.9"/>
<path d="M636.7 422.9h2.2v2.2h-2.2zM636.0 421.1h2.0v2.0h-2.0zM637.4 425.3h1.8v1.8h-1.8zM638.2 425.2h1.5v1.5h-1.5zM636.6 422.7h1.8v1.8h-1.8zM637.5 423.6h1.1v1.1h-1.1zM638.5 423.9h1.3v1.3h-1.3zM619.3 436.4h2.5v2.5h-2.5zM619.1 435.7h1.8v1.8h-1.8zM619.4 437.6h1.6v1.6h-1.6zM622.3 436.2h1.7v1.7h-1.7zM621.4 436.3h2.4v2.4h-2.4zM620.3 435.4h2.6v2.6h-2.6zM619.0 438.6h2.8v2.8h-2.8zM626.6 427.3h2.1v2.1h-2.1zM627.3 423.9h1.5v1.5h-1.5zM627.5 423.6h1.7v1.7h-1.7zM626.2 426.6h1.6v1.6h-1.6zM626.6 424.2h2.4v2.4h-2.4zM627.3 424.4h1.6v1.6h-1.6zM623.7 422.7h2.5v2.5h-2.5zM636.3 426.3h1.7v1.7h-1.7zM635.0 425.9h1.8v1.8h-1.8zM637.9 423.6h1.7v1.7h-1.7zM637.4 426.9h1.6v1.6h-1.6zM637.5 427.2h1.3v1.3h-1.3zM637.3 427.2h1.7v1.7h-1.7zM638.1 425.7h1.6v1.6h-1.6zM618.2 446.1h2.2v2.2h-2.2zM620.4 448.8h1.4v1.4h-1.4zM620.2 447.5h2.4v2.4h-2.4zM618.5 445.6h2.9v2.9h-2.9zM621.0 447.9h1.4v1.4h-1.4zM619.7 446.3h1.4v1.4h-1.4zM618.2 445.3h2.9v2.9h-2.9zM644.7 409.0h1.5v1.5h-1.5zM643.6 409.0h0.9v0.9h-0.9zM644.9 408.1h0.9v0.9h-0.9zM644.4 407.8h0.9v0.9h-0.9zM642.6 408.9h1.0v1.0h-1.0zM643.6 409.3h1.1v1.1h-1.1zM645.1 407.5h1.0v1.0h-1.0zM661.8 421.2h1.3v1.3h-1.3zM661.2 422.7h2.0v2.0h-2.0zM661.7 421.6h1.1v1.1h-1.1zM661.1 422.1h1.8v1.8h-1.8zM660.5 423.7h1.2v1.2h-1.2zM660.1 420.5h1.4v1.4h-1.4zM661.8 421.5h2.3v2.3h-2.3zM667.2 440.1h1.4v1.4h-1.4zM666.4 441.6h1.3v1.3h-1.3zM667.4 441.2h1.9v1.9h-1.9zM667.5 443.4h1.1v1.1h-1.1zM664.7 442.5h1.5v1.5h-1.5zM665.2 443.1h1.0v1.0h-1.0zM664.7 443.8h1.6v1.6h-1.6zM610.9 394.0h1.0v1.0h-1.0zM608.2 394.1h1.8v1.8h-1.8zM609.2 393.4h1.7v1.7h-1.7zM611.5 393.2h1.0v1.0h-1.0zM609.1 393.6h1.5v1.5h-1.5zM611.1 393.0h1.3v1.3h-1.3zM609.8 393.3h1.2v1.2h-1.2zM612.1 384.0h1.3v1.3h-1.3zM613.1 384.7h1.1v1.1h-1.1zM612.5 384.5h1.0v1.0h-1.0zM611.7 382.7h1.0v1.0h-1.0zM613.1 383.7h1.3v1.3h-1.3zM611.9 383.3h0.7v0.7h-0.7zM613.0 384.0h0.8v0.8h-0.8zM643.0 446.1h1.1v1.1h-1.1zM641.5 447.8h1.2v1.2h-1.2zM641.2 443.0h1.9v1.9h-1.9zM642.8 444.4h2.3v2.3h-2.3zM644.7 444.3h1.7v1.7h-1.7zM641.9 445.4h1.4v1.4h-1.4zM644.0 445.6h1.3v1.3h-1.3zM614.9 436.7h1.4v1.4h-1.4zM612.5 436.5h1.5v1.5h-1.5zM612.5 436.6h1.2v1.2h-1.2zM614.9 436.8h1.5v1.5h-1.5zM613.8 436.6h1.4v1.4h-1.4zM614.0 437.0h1.5v1.5h-1.5zM613.2 436.0h1.7v1.7h-1.7zM649.6 396.8h2.0v2.0h-2.0zM645.1 397.8h1.9v1.9h-1.9zM647.7 397.2h1.9v1.9h-1.9zM646.5 398.2h1.3v1.3h-1.3zM646.8 399.7h1.3v1.3h-1.3zM646.9 398.1h2.1v2.1h-2.1zM647.6 396.7h2.3v2.3h-2.3zM624.3 444.2h3.1v3.1h-3.1zM625.1 448.2h2.3v2.3h-2.3zM627.6 449.6h2.5v2.5h-2.5zM624.6 450.7h2.9v2.9h-2.9zM625.8 445.8h2.4v2.4h-2.4zM625.2 447.0h2.6v2.6h-2.6zM626.3 450.6h2.2v2.2h-2.2zM636.3 387.0h2.3v2.3h-2.3zM638.0 384.8h2.9v2.9h-2.9zM634.4 384.5h2.7v2.7h-2.7zM635.0 385.1h2.7v2.7h-2.7zM635.0 386.7h2.9v2.9h-2.9zM634.9 385.9h1.8v1.8h-1.8zM635.5 386.2h2.8v2.8h-2.8zM651.5 421.7h1.8v1.8h-1.8zM650.8 424.4h1.6v1.6h-1.6zM651.7 423.2h1.1v1.1h-1.1zM655.4 423.5h2.0v2.0h-2.0zM652.0 424.6h2.2v2.2h-2.2zM649.8 424.5h1.7v1.7h-1.7zM650.3 423.1h1.7v1.7h-1.7zM645.7 389.7h2.4v2.4h-2.4zM644.0 390.0h2.2v2.2h-2.2zM642.9 385.9h3.4v3.4h-3.4zM646.5 386.4h2.6v2.6h-2.6zM644.7 391.0h1.6v1.6h-1.6zM644.6 388.4h3.1v3.1h-3.1zM645.8 390.9h1.8v1.8h-1.8zM627.5 425.9h2.3v2.3h-2.3zM625.3 425.4h2.1v2.1h-2.1zM626.4 428.1h1.2v1.2h-1.2zM629.9 424.3h1.3v1.3h-1.3zM629.8 427.3h1.2v1.2h-1.2zM627.2 425.5h1.7v1.7h-1.7zM627.2 424.9h1.4v1.4h-1.4zM615.6 440.5h1.3v1.3h-1.3zM615.0 441.9h1.0v1.0h-1.0zM615.6 441.7h1.4v1.4h-1.4zM615.3 441.2h1.4v1.4h-1.4zM615.4 441.0h1.3v1.3h-1.3zM616.7 442.4h0.7v0.7h-0.7zM615.9 442.1h1.3v1.3h-1.3zM618.2 378.1h2.3v2.3h-2.3zM617.1 382.8h2.9v2.9h-2.9zM621.0 380.4h2.9v2.9h-2.9zM615.2 380.2h3.2v3.2h-3.2zM613.7 382.6h3.2v3.2h-3.2zM617.6 380.9h2.8v2.8h-2.8zM615.7 381.9h2.1v2.1h-2.1zM650.6 405.1h2.8v2.8h-2.8zM650.8 406.9h2.8v2.8h-2.8zM650.2 408.2h2.1v2.1h-2.1zM648.4 406.7h2.9v2.9h-2.9zM645.3 403.7h3.1v3.1h-3.1zM650.4 409.8h2.5v2.5h-2.5zM649.3 409.2h2.2v2.2h-2.2zM640.1 430.3h1.6v1.6h-1.6zM641.8 430.4h1.1v1.1h-1.1zM640.7 429.6h1.8v1.8h-1.8zM641.3 429.3h2.0v2.0h-2.0zM639.0 428.3h1.1v1.1h-1.1zM640.7 428.8h1.6v1.6h-1.6zM638.5 428.6h1.4v1.4h-1.4zM612.9 414.5h2.4v2.4h-2.4zM609.1 411.5h2.3v2.3h-2.3zM609.4 412.0h2.3v2.3h-2.3zM610.1 411.8h1.4v1.4h-1.4zM612.7 414.9h1.9v1.9h-1.9zM611.0 412.4h2.2v2.2h-2.2zM609.3 413.6h2.2v2.2h-2.2zM642.5 424.3h1.8v1.8h-1.8zM643.3 423.3h1.4v1.4h-1.4zM643.9 423.0h2.2v2.2h-2.2zM645.1 420.3h2.2v2.2h-2.2zM643.1 423.2h1.1v1.1h-1.1zM644.4 424.4h1.8v1.8h-1.8zM642.1 422.7h1.7v1.7h-1.7zM619.0 394.2h0.9v0.9h-0.9zM619.9 396.4h0.8v0.8h-0.8zM621.7 398.2h1.0v1.0h-1.0zM620.3 397.1h1.2v1.2h-1.2zM619.9 396.2h1.3v1.3h-1.3zM620.4 395.0h1.6v1.6h-1.6zM620.7 397.0h1.5v1.5h-1.5zM633.7 435.5h1.9v1.9h-1.9zM634.0 436.2h1.8v1.8h-1.8zM634.0 435.4h1.7v1.7h-1.7zM633.8 435.5h1.1v1.1h-1.1zM632.4 433.7h1.5v1.5h-1.5zM633.8 435.4h1.8v1.8h-1.8zM634.2 437.7h1.6v1.6h-1.6zM610.4 408.7h2.3v2.3h-2.3zM610.6 408.1h1.3v1.3h-1.3zM610.4 406.6h1.7v1.7h-1.7zM610.4 408.4h1.8v1.8h-1.8zM611.9 408.8h1.8v1.8h-1.8zM608.0 411.6h1.4v1.4h-1.4zM608.2 408.9h1.3v1.3h-1.3zM616.4 411.9h1.3v1.3h-1.3zM614.7 410.8h1.3v1.3h-1.3zM614.7 410.7h1.5v1.5h-1.5zM616.1 411.3h1.4v1.4h-1.4zM614.8 410.7h1.1v1.1h-1.1zM616.8 412.2h1.2v1.2h-1.2zM616.3 411.4h0.8v0.8h-0.8zM634.5 422.7h1.8v1.8h-1.8zM637.9 424.4h1.5v1.5h-1.5zM634.0 423.6h2.3v2.3h-2.3zM634.5 421.0h2.4v2.4h-2.4zM637.2 423.0h1.6v1.6h-1.6zM637.8 422.0h1.6v1.6h-1.6zM638.5 423.7h1.8v1.8h-1.8zM622.5 427.8h2.2v2.2h-2.2zM620.9 425.2h1.8v1.8h-1.8zM620.3 425.6h2.3v2.3h-2.3zM620.5 424.8h2.3v2.3h-2.3zM619.7 426.4h1.8v1.8h-1.8zM622.2 426.1h2.3v2.3h-2.3zM620.6 426.9h2.5v2.5h-2.5zM665.8 379.6h2.8v2.8h-2.8zM664.4 376.2h2.0v2.0h-2.0zM668.3 379.0h2.4v2.4h-2.4zM667.6 382.0h2.4v2.4h-2.4zM668.9 380.5h1.4v1.4h-1.4zM666.0 382.2h2.8v2.8h-2.8zM665.7 381.1h2.6v2.6h-2.6zM657.2 411.7h1.6v1.6h-1.6zM656.3 412.3h3.2v3.2h-3.2zM654.7 412.5h2.3v2.3h-2.3zM657.5 413.1h1.9v1.9h-1.9zM654.8 411.5h1.9v1.9h-1.9zM656.9 413.6h2.3v2.3h-2.3zM654.4 408.9h2.9v2.9h-2.9zM646.8 418.7h1.4v1.4h-1.4zM646.9 418.1h1.1v1.1h-1.1zM645.9 420.5h1.6v1.6h-1.6zM648.0 419.4h1.1v1.1h-1.1zM646.5 419.5h1.7v1.7h-1.7zM646.8 420.2h1.3v1.3h-1.3zM646.3 418.0h1.7v1.7h-1.7zM630.6 448.8h2.1v2.1h-2.1zM629.5 448.9h1.5v1.5h-1.5zM630.0 447.7h2.1v2.1h-2.1zM630.6 449.5h1.8v1.8h-1.8zM632.3 447.6h1.5v1.5h-1.5zM630.5 448.7h1.3v1.3h-1.3zM631.0 448.6h2.3v2.3h-2.3zM662.1 405.0h1.2v1.2h-1.2zM662.2 404.6h1.1v1.1h-1.1zM663.4 405.3h2.2v2.2h-2.2zM661.8 406.2h1.7v1.7h-1.7zM661.1 406.6h2.3v2.3h-2.3zM661.2 407.7h1.5v1.5h-1.5zM660.9 404.9h2.4v2.4h-2.4zM617.3 445.0h1.9v1.9h-1.9zM615.4 441.9h1.6v1.6h-1.6zM613.4 440.4h1.7v1.7h-1.7zM614.5 440.6h2.1v2.1h-2.1zM615.4 443.7h1.6v1.6h-1.6zM611.6 443.8h1.7v1.7h-1.7zM613.9 443.3h1.9v1.9h-1.9zM656.4 434.9h1.8v1.8h-1.8zM654.2 433.3h1.2v1.2h-1.2zM654.9 431.6h1.4v1.4h-1.4zM655.7 432.8h1.6v1.6h-1.6zM656.1 432.6h1.5v1.5h-1.5zM654.4 434.0h1.8v1.8h-1.8zM656.2 430.6h1.6v1.6h-1.6zM633.8 395.7h1.5v1.5h-1.5zM634.1 393.8h2.6v2.6h-2.6zM634.9 394.0h1.6v1.6h-1.6zM629.6 394.1h2.7v2.7h-2.7zM632.3 389.4h2.7v2.7h-2.7zM636.1 395.9h1.6v1.6h-1.6zM634.8 393.3h2.4v2.4h-2.4zM613.1 425.0h1.9v1.9h-1.9zM614.3 425.9h1.9v1.9h-1.9zM614.1 425.0h1.7v1.7h-1.7zM612.4 425.9h2.3v2.3h-2.3zM612.3 425.0h2.1v2.1h-2.1zM613.6 425.8h1.9v1.9h-1.9zM611.6 428.0h1.4v1.4h-1.4zM624.5 440.8h1.2v1.2h-1.2zM625.8 439.6h1.4v1.4h-1.4zM625.3 439.0h1.1v1.1h-1.1zM624.7 438.7h1.3v1.3h-1.3zM625.3 439.9h1.6v1.6h-1.6zM624.2 439.2h1.7v1.7h-1.7zM626.0 437.7h1.5v1.5h-1.5zM646.1 438.3h3.2v3.2h-3.2zM651.1 439.9h2.8v2.8h-2.8zM648.1 435.9h2.0v2.0h-2.0zM651.8 440.8h1.6v1.6h-1.6zM650.9 438.7h2.4v2.4h-2.4zM645.2 438.0h2.4v2.4h-2.4zM649.4 436.4h2.4v2.4h-2.4zM654.3 435.5h2.2v2.2h-2.2zM654.6 437.9h1.1v1.1h-1.1zM654.5 437.0h1.8v1.8h-1.8zM656.3 433.9h1.5v1.5h-1.5zM654.4 435.7h2.0v2.0h-2.0zM654.4 437.0h1.8v1.8h-1.8zM655.3 437.6h2.3v2.3h-2.3zM632.4 444.8h2.8v2.8h-2.8zM627.3 442.5h2.5v2.5h-2.5zM631.4 441.8h2.6v2.6h-2.6zM629.5 443.1h2.3v2.3h-2.3zM628.5 444.2h2.0v2.0h-2.0zM630.4 442.1h1.8v1.8h-1.8zM627.9 445.2h2.2v2.2h-2.2zM622.3 447.4h1.5v1.5h-1.5zM621.0 448.5h1.1v1.1h-1.1zM620.7 444.6h1.3v1.3h-1.3zM620.5 448.7h1.9v1.9h-1.9zM622.6 446.4h1.6v1.6h-1.6zM621.5 445.2h1.2v1.2h-1.2zM621.8 445.8h1.4v1.4h-1.4zM652.1 424.9h2.2v2.2h-2.2zM651.6 424.0h1.6v1.6h-1.6zM651.8 423.3h1.7v1.7h-1.7zM652.2 424.2h2.3v2.3h-2.3zM650.0 424.0h2.2v2.2h-2.2zM648.9 421.5h2.2v2.2h-2.2zM650.3 423.6h2.0v2.0h-2.0z" fill="#363636" filter="url(#bl1)" opacity="0.9"/>
<path d="M660.5 389.1h1.0v1.0h-1.0zM593.6 410.5h0.9v0.9h-0.9zM605.2 413.8h0.5v0.5h-0.5zM664.0 448.7h0.5v0.5h-0.5zM582.5 411.1h0.7v0.7h-0.7zM645.8 401.6h0.8v0.8h-0.8zM586.3 392.3h0.5v0.5h-0.5zM623.6 417.7h0.8v0.8h-0.8zM661.4 399.1h0.6v0.6h-0.6zM615.6 445.7h0.6v0.6h-0.6zM598.8 407.7h0.8v0.8h-0.8zM597.7 389.2h0.8v0.8h-0.8zM626.6 419.0h0.5v0.5h-0.5zM594.9 384.1h0.6v0.6h-0.6zM658.4 448.7h0.9v0.9h-0.9zM606.4 417.8h0.9v0.9h-0.9zM603.9 405.7h0.8v0.8h-0.8zM603.9 411.3h0.6v0.6h-0.6zM650.6 414.6h0.5v0.5h-0.5zM572.3 423.6h0.5v0.5h-0.5zM635.5 392.9h0.7v0.7h-0.7zM604.0 424.5h0.5v0.5h-0.5zM610.4 424.7h0.6v0.6h-0.6zM666.7 448.9h1.0v1.0h-1.0zM661.0 445.3h0.8v0.8h-0.8zM652.0 406.4h0.5v0.5h-0.5zM660.5 443.8h0.6v0.6h-0.6zM607.0 393.7h0.8v0.8h-0.8zM587.1 436.1h0.5v0.5h-0.5zM609.8 433.7h0.7v0.7h-0.7zM583.9 378.8h0.8v0.8h-0.8zM578.0 397.2h0.8v0.8h-0.8zM600.5 379.2h0.9v0.9h-0.9zM640.9 421.4h0.5v0.5h-0.5zM617.6 447.0h0.7v0.7h-0.7zM595.4 445.1h0.6v0.6h-0.6zM621.3 388.5h0.9v0.9h-0.9zM636.9 415.4h0.7v0.7h-0.7zM603.6 410.2h0.7v0.7h-0.7zM572.5 428.6h0.9v0.9h-0.9zM573.3 386.5h0.8v0.8h-0.8zM604.2 386.9h0.8v0.8h-0.8zM665.9 402.4h0.8v0.8h-0.8zM624.0 417.2h0.8v0.8h-0.8zM659.2 439.5h0.9v0.9h-0.9zM637.4 432.2h0.9v0.9h-0.9zM642.5 426.6h0.9v0.9h-0.9zM576.3 389.0h0.8v0.8h-0.8zM611.6 393.3h0.8v0.8h-0.8zM590.3 431.9h0.6v0.6h-0.6zM659.4 399.5h1.0v1.0h-1.0zM602.5 433.9h0.5v0.5h-0.5zM619.4 402.6h0.9v0.9h-0.9zM639.8 418.4h0.5v0.5h-0.5zM621.5 394.2h0.5v0.5h-0.5zM638.7 416.4h1.0v1.0h-1.0zM652.3 379.7h1.0v1.0h-1.0zM622.1 449.1h0.6v0.6h-0.6zM616.1 427.4h0.6v0.6h-0.6zM610.1 401.2h0.6v0.6h-0.6zM623.0 413.1h0.9v0.9h-0.9zM594.6 394.3h0.6v0.6h-0.6zM571.1 400.7h0.6v0.6h-0.6zM579.9 414.5h0.5v0.5h-0.5zM647.7 445.4h0.8v0.8h-0.8zM590.2 387.9h0.5v0.5h-0.5zM588.4 438.5h0.9v0.9h-0.9zM654.2 403.4h0.8v0.8h-0.8zM639.9 424.8h0.8v0.8h-0.8zM573.5 449.3h0.8v0.8h-0.8zM597.9 400.4h0.9v0.9h-0.9zM660.5 379.4h0.6v0.6h-0.6zM575.5 423.8h0.8v0.8h-0.8zM630.8 390.5h0.7v0.7h-0.7zM656.0 400.4h0.6v0.6h-0.6zM591.3 435.1h0.6v0.6h-0.6zM639.2 421.3h0.9v0.9h-0.9zM576.5 398.4h1.0v1.0h-1.0zM619.0 383.0h0.5v0.5h-0.5zM588.7 424.9h0.6v0.6h-0.6zM580.0 395.7h0.9v0.9h-0.9zM640.6 411.7h0.6v0.6h-0.6zM580.0 384.7h0.9v0.9h-0.9zM630.0 377.4h0.9v0.9h-0.9zM662.1 405.5h0.9v0.9h-0.9zM602.6 401.9h0.7v0.7h-0.7zM620.4 404.3h0.6v0.6h-0.6zM578.6 398.3h0.8v0.8h-0.8zM654.6 427.9h0.7v0.7h-0.7zM610.1 388.2h0.8v0.8h-0.8zM647.7 402.3h0.9v0.9h-0.9zM652.4 402.5h0.5v0.5h-0.5zM651.7 414.2h0.5v0.5h-0.5zM629.5 422.5h0.8v0.8h-0.8zM633.8 416.6h0.5v0.5h-0.5zM657.2 424.7h0.9v0.9h-0.9zM620.8 426.4h0.7v0.7h-0.7zM643.2 383.3h0.6v0.6h-0.6zM645.6 402.5h0.7v0.7h-0.7zM605.0 433.0h0.5v0.5h-0.5zM599.4 381.4h0.5v0.5h-0.5zM609.1 445.6h0.5v0.5h-0.5zM630.4 430.9h0.8v0.8h-0.8zM574.5 378.5h0.8v0.8h-0.8zM592.4 433.5h0.8v0.8h-0.8zM664.8 405.3h0.9v0.9h-0.9zM585.7 396.1h0.7v0.7h-0.7zM606.5 416.3h0.6v0.6h-0.6zM582.5 411.2h0.7v0.7h-0.7zM649.9 418.4h0.7v0.7h-0.7z" fill="#4a4a4a" filter="url(#bl1)" opacity="0.8"/>
<path d="M613.6 397.9h1.2v1.2h-1.2zM617.4 382.8h1.1v1.1h-1.1zM578.0 391.4h0.7v0.7h-0.7zM631.4 438.0h1.0v1.0h-1.0zM592.0 438.1h1.2v1.2h-1.2zM602.3 396.5h1.1v1.1h-1.1zM664.8 443.0h1.2v1.2h-1.2zM639.9 393.1h1.0v1.0h-1.0zM612.0 423.2h0.9v0.9h-0.9zM590.7 442.2h0.7v0.7h-0.7zM603.5 400.4h1.2v1.2h-1.2zM581.8 418.6h1.2v1.2h-1.2zM629.9 444.3h0.9v0.9h-0.9zM613.0 403.6h0.9v0.9h-0.9zM604.1 381.8h1.3v1.3h-1.3zM641.7 426.0h1.0v1.0h-1.0zM589.8 392.8h1.2v1.2h-1.2zM650.4 409.7h1.1v1.1h-1.1zM663.6 379.7h0.9v0.9h-0.9zM609.5 401.4h1.0v1.0h-1.0zM599.0 385.3h1.2v1.2h-1.2zM611.8 435.2h0.7v0.7h-0.7zM600.5 412.7h0.7v0.7h-0.7zM610.7 389.6h0.9v0.9h-0.9zM599.0 433.4h0.9v0.9h-0.9zM595.0 419.6h0.9v0.9h-0.9zM592.1 433.3h1.0v1.0h-1.0zM571.8 416.0h0.9v0.9h-0.9zM578.9 447.4h1.0v1.0h-1.0zM666.9 411.3h0.9v0.9h-0.9zM585.8 425.0h0.9v0.9h-0.9zM588.0 437.8h1.0v1.0h-1.0zM578.9 448.1h0.9v0.9h-0.9zM660.3 406.7h0.7v0.7h-0.7zM623.7 406.2h1.1v1.1h-1.1zM618.6 403.6h0.9v0.9h-0.9zM617.2 429.8h1.1v1.1h-1.1zM609.2 387.0h0.6v0.6h-0.6zM628.6 393.6h1.2v1.2h-1.2zM611.7 446.6h0.7v0.7h-0.7zM651.6 385.2h0.8v0.8h-0.8zM610.3 397.1h0.9v0.9h-0.9zM619.7 421.8h0.6v0.6h-0.6zM629.7 404.3h1.0v1.0h-1.0zM599.8 436.3h0.8v0.8h-0.8zM578.8 429.3h1.0v1.0h-1.0zM588.4 401.4h0.9v0.9h-0.9zM590.0 417.2h0.9v0.9h-0.9zM626.8 432.6h0.7v0.7h-0.7zM596.5 425.1h1.0v1.0h-1.0zM640.3 396.6h0.8v0.8h-0.8zM575.2 399.1h0.8v0.8h-0.8zM642.3 401.3h1.1v1.1h-1.1zM581.8 397.6h0.9v0.9h-0.9zM592.9 411.3h1.2v1.2h-1.2zM614.8 391.2h1.0v1.0h-1.0zM621.7 437.1h0.7v0.7h-0.7zM641.7 420.3h0.8v0.8h-0.8zM606.2 383.2h1.2v1.2h-1.2zM599.3 407.2h1.0v1.0h-1.0zM642.6 420.8h0.9v0.9h-0.9zM633.0 415.3h0.8v0.8h-0.8zM651.2 387.4h0.7v0.7h-0.7zM616.0 412.5h0.7v0.7h-0.7zM642.6 445.9h1.0v1.0h-1.0zM627.1 397.5h0.7v0.7h-0.7zM603.4 428.9h1.2v1.2h-1.2zM606.5 401.5h0.8v0.8h-0.8zM623.3 396.3h1.0v1.0h-1.0zM650.6 388.5h1.1v1.1h-1.1zM598.1 391.1h0.9v0.9h-0.9zM631.5 407.1h0.9v0.9h-0.9zM631.2 412.9h1.2v1.2h-1.2zM665.0 443.6h1.0v1.0h-1.0zM585.7 408.0h0.8v0.8h-0.8zM622.1 384.0h1.2v1.2h-1.2zM595.0 395.8h1.2v1.2h-1.2zM611.3 379.3h0.7v0.7h-0.7zM631.3 377.0h1.1v1.1h-1.1zM581.3 382.4h1.0v1.0h-1.0zM587.2 377.3h1.0v1.0h-1.0zM586.0 407.6h1.2v1.2h-1.2zM652.9 440.9h0.9v0.9h-0.9zM631.5 407.1h1.1v1.1h-1.1zM664.9 381.5h0.6v0.6h-0.6zM614.6 419.5h1.0v1.0h-1.0zM590.2 387.9h0.9v0.9h-0.9zM648.8 406.1h1.1v1.1h-1.1zM615.9 436.1h0.7v0.7h-0.7zM633.0 395.5h0.9v0.9h-0.9zM576.7 426.5h0.9v0.9h-0.9zM633.1 408.1h0.7v0.7h-0.7zM637.2 377.6h0.7v0.7h-0.7zM611.6 433.3h0.9v0.9h-0.9zM632.3 442.6h1.2v1.2h-1.2zM588.0 403.8h0.7v0.7h-0.7zM651.7 416.3h1.0v1.0h-1.0zM582.9 406.3h0.8v0.8h-0.8zM665.4 399.8h1.2v1.2h-1.2zM593.2 427.8h0.8v0.8h-0.8zM596.0 397.6h1.2v1.2h-1.2zM630.1 395.3h0.9v0.9h-0.9zM629.8 410.5h1.0v1.0h-1.0zM575.3 403.2h0.8v0.8h-0.8zM638.1 439.8h0.7v0.7h-0.7zM605.3 449.0h1.2v1.2h-1.2zM574.9 411.5h1.0v1.0h-1.0zM613.1 426.0h1.0v1.0h-1.0zM612.6 403.4h0.7v0.7h-0.7zM659.2 399.4h0.7v0.7h-0.7zM638.4 385.0h1.0v1.0h-1.0zM642.8 391.7h1.1v1.1h-1.1zM657.3 409.9h0.9v0.9h-0.9zM648.5 425.6h1.2v1.2h-1.2zM610.0 444.5h0.9v0.9h-0.9zM645.3 396.8h0.8v0.8h-0.8zM585.8 444.0h1.1v1.1h-1.1zM660.7 419.5h0.7v0.7h-0.7zM624.9 416.7h0.8v0.8h-0.8zM637.1 447.9h1.0v1.0h-1.0zM601.1 380.0h1.2v1.2h-1.2zM633.6 394.7h1.1v1.1h-1.1zM594.9 404.5h1.0v1.0h-1.0zM662.5 436.8h1.0v1.0h-1.0zM622.2 400.6h1.1v1.1h-1.1zM621.4 426.8h0.7v0.7h-0.7zM603.9 446.1h1.1v1.1h-1.1zM651.5 427.7h0.9v0.9h-0.9zM584.4 377.0h1.2v1.2h-1.2zM633.5 432.1h0.9v0.9h-0.9z" fill="#4fd84a" filter="url(#bl1)" opacity="0.95"/>
</g>
<line x1="646.00" y1="444.00" x2="667.80" y2="444.00" stroke="#ffffff" stroke-width="0.9"/>
<text x="657.00" y="448.01" font-size="2.8" text-anchor="middle" fill="#f4f4f4">100 µm</text>
<text x="387.90" y="366.89" font-size="5.8" text-anchor="middle" fill="#111" font-weight="bold">NK-DC</text>
<line x1="356.50" y1="374.00" x2="356.50" y2="436.20" stroke="#111" stroke-width="0.8"/>
<line x1="356.20" y1="435.90" x2="418.00" y2="435.90" stroke="#111" stroke-width="0.8"/>
<line x1="354.50" y1="435.90" x2="356.50" y2="435.90" stroke="#111" stroke-width="0.6"/>
<text x="354.10" y="437.34" font-size="4.0" text-anchor="end" fill="#111" font-weight="bold">0</text>
<line x1="354.50" y1="420.52" x2="356.50" y2="420.52" stroke="#111" stroke-width="0.6"/>
<text x="354.10" y="421.96" font-size="4.0" text-anchor="end" fill="#111" font-weight="bold">50</text>
<line x1="354.50" y1="405.14" x2="356.50" y2="405.14" stroke="#111" stroke-width="0.6"/>
<text x="354.10" y="406.58" font-size="4.0" text-anchor="end" fill="#111" font-weight="bold">100</text>
<line x1="354.50" y1="389.76" x2="356.50" y2="389.76" stroke="#111" stroke-width="0.6"/>
<text x="354.10" y="391.20" font-size="4.0" text-anchor="end" fill="#111" font-weight="bold">150</text>
<line x1="354.50" y1="374.38" x2="356.50" y2="374.38" stroke="#111" stroke-width="0.6"/>
<text x="354.10" y="375.82" font-size="4.0" text-anchor="end" fill="#111" font-weight="bold">200</text>
<text x="340.40" y="407.24" font-size="5.4" text-anchor="middle" fill="#111" font-weight="bold" transform="rotate(-90 340.40 405.30)">Absolute number (cells/ul)</text>
<rect x="361.60" y="427.59" width="9.10" height="8.31" fill="#7a7a7a" stroke="#111" stroke-width="0.6"/>
<line x1="366.15" y1="427.59" x2="366.15" y2="425.75" stroke="#111" stroke-width="0.5"/>
<line x1="364.65" y1="425.75" x2="367.65" y2="425.75" stroke="#111" stroke-width="0.5"/>
<circle cx="364.00" cy="428.50" r="0.90" fill="#111"/>
<circle cx="366.50" cy="427.20" r="0.90" fill="#111"/>
<circle cx="368.50" cy="429.00" r="0.90" fill="#111"/>
<rect x="375.80" y="394.37" width="9.50" height="41.53" fill="#f57aa5" stroke="#e0407a" stroke-width="0.6"/>
<line x1="380.55" y1="394.37" x2="380.55" y2="388.22" stroke="#e0407a" stroke-width="0.5"/>
<line x1="379.05" y1="388.22" x2="382.05" y2="388.22" stroke="#e0407a" stroke-width="0.5"/>
<circle cx="380.50" cy="385.00" r="0.90" fill="#e0407a"/>
<circle cx="379.50" cy="391.50" r="0.90" fill="#e0407a"/>
<circle cx="380.50" cy="397.00" r="0.90" fill="#e0407a"/>
<rect x="390.00" y="426.06" width="9.50" height="9.84" fill="#63c3c3" stroke="#2a9a9a" stroke-width="0.6"/>
<line x1="394.75" y1="426.06" x2="394.75" y2="422.37" stroke="#2a9a9a" stroke-width="0.5"/>
<line x1="393.25" y1="422.37" x2="396.25" y2="422.37" stroke="#2a9a9a" stroke-width="0.5"/>
<circle cx="394.80" cy="420.80" r="0.90" fill="#2a9a9a"/>
<circle cx="394.20" cy="427.00" r="0.90" fill="#2a9a9a"/>
<circle cx="396.00" cy="429.00" r="0.90" fill="#2a9a9a"/>
<rect x="404.80" y="425.75" width="8.90" height="10.15" fill="#9b6fd6" stroke="#5a34a0" stroke-width="0.6"/>
<line x1="409.25" y1="425.75" x2="409.25" y2="424.83" stroke="#5a34a0" stroke-width="0.5"/>
<line x1="407.75" y1="424.83" x2="410.75" y2="424.83" stroke="#5a34a0" stroke-width="0.5"/>
<circle cx="406.50" cy="427.00" r="0.90" fill="#5a34a0"/>
<circle cx="409.20" cy="429.50" r="0.90" fill="#5a34a0"/>
<circle cx="411.50" cy="427.00" r="0.90" fill="#5a34a0"/>
<line x1="366.10" y1="435.90" x2="366.10" y2="437.70" stroke="#111" stroke-width="0.6"/>
<text x="367.00" y="440.6" font-size="5.5" font-weight="bold" text-anchor="end" fill="#111" transform="rotate(-45 367.00 440.6)">Mock</text>
<line x1="380.50" y1="435.90" x2="380.50" y2="437.70" stroke="#111" stroke-width="0.6"/>
<text x="381.40" y="440.6" font-size="5.5" font-weight="bold" text-anchor="end" fill="#111" transform="rotate(-45 381.40 440.6)">Trained+ PC</text>
<line x1="394.80" y1="435.90" x2="394.80" y2="437.70" stroke="#111" stroke-width="0.6"/>
<text x="395.70" y="440.6" font-size="5.5" font-weight="bold" text-anchor="end" fill="#111" transform="rotate(-45 395.70 440.6)">Trained+ PC +CCL5 ab</text>
<line x1="409.20" y1="435.90" x2="409.20" y2="437.70" stroke="#111" stroke-width="0.6"/>
<text x="410.10" y="440.6" font-size="5.5" font-weight="bold" text-anchor="end" fill="#111" transform="rotate(-45 410.10 440.6)">Trained NK</text>
</svg></body></html>
